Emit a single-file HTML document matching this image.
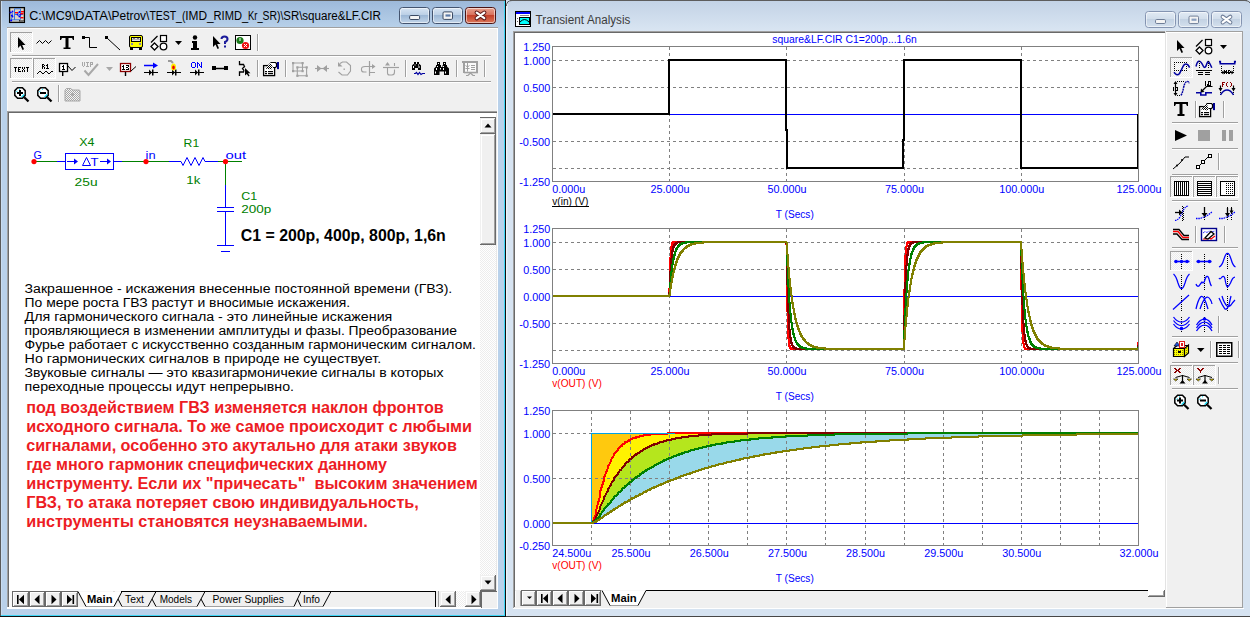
<!DOCTYPE html>
<html><head><meta charset="utf-8"><title>MicroCap</title>
<style>
html,body{margin:0;padding:0;width:1250px;height:617px;overflow:hidden;background:#d6e3f1}
svg{display:block}
text{font-family:"Liberation Sans",sans-serif}
</style></head><body>
<svg width="1250" height="617" viewBox="0 0 1250 617">
<defs><linearGradient id="gL" x1="0" y1="0" x2="0" y2="1"><stop offset="0" stop-color="#9db9da"/><stop offset="1" stop-color="#b7d0e9"/></linearGradient><linearGradient id="gR" x1="0" y1="0" x2="0" y2="1"><stop offset="0" stop-color="#c3d3e6"/><stop offset="1" stop-color="#d9e5f2"/></linearGradient><linearGradient id="bL" x1="0" y1="0" x2="0" y2="1"><stop offset="0" stop-color="#d9e6f4"/><stop offset="0.45" stop-color="#bcd0e6"/><stop offset="0.5" stop-color="#9db8d6"/><stop offset="1" stop-color="#c3d6ea"/></linearGradient><linearGradient id="bC" x1="0" y1="0" x2="0" y2="1"><stop offset="0" stop-color="#e8a593"/><stop offset="0.45" stop-color="#d9725e"/><stop offset="0.5" stop-color="#c4402a"/><stop offset="1" stop-color="#dc7a5c"/></linearGradient><linearGradient id="bR" x1="0" y1="0" x2="0" y2="1"><stop offset="0" stop-color="#e2ebf5"/><stop offset="0.45" stop-color="#d2deeb"/><stop offset="0.5" stop-color="#c3d2e3"/><stop offset="1" stop-color="#d5e1ee"/></linearGradient><pattern id="hatch" width="2" height="2" patternUnits="userSpaceOnUse"><rect width="2" height="2" fill="#ffffff"/><rect width="1" height="1" fill="#ededed"/><rect x="1" y="1" width="1" height="1" fill="#ededed"/></pattern><pattern id="dith" width="2" height="2" patternUnits="userSpaceOnUse"><rect width="2" height="2" fill="#fbfbfb"/><rect width="1" height="1" fill="#ebebeb"/><rect x="1" y="1" width="1" height="1" fill="#ebebeb"/></pattern></defs>
<rect x="0" y="0" width="506" height="617" fill="#b9d1ea" />
<rect x="1" y="1" width="504" height="26" fill="url(#gL)" />
<rect x="0" y="0" width="1" height="617" fill="#5a5a5a" />
<rect x="0" y="0" width="506" height="1" fill="#5a5a5a" />
<rect x="1" y="1" width="1" height="614" fill="#c9dcf0" />
<rect x="504" y="1" width="1" height="615" fill="#3fd6f6" />
<rect x="505" y="0" width="1" height="617" fill="#101010" />
<rect x="1" y="615" width="504" height="1" fill="#3fd6f6" />
<rect x="0" y="616" width="506" height="1" fill="#101010" />
<g transform="translate(9,7)"><rect x="0.6" y="0.6" width="14.8" height="14.8" fill="#dcd6c8" stroke="#000" stroke-width="1.3"/><path d="M5.5,1.5 V13 M5.5,1.8 H11.5 V12.5 M1.5,12.8 H11.5 M1,5.5 H3 L3.5,7.5 L3,10 L2,14 M5.5,7.5 H8.5 L9.5,9 L11,7 L12,7.5 H14 M8.5,7.5 L10,5 H11.5" stroke="#3a78e0" stroke-width="1" fill="none"/><circle cx="3.5" cy="4.5" r="0.9" fill="#0000ff"/><circle cx="1.5" cy="5.5" r="0.9" fill="#0000ff"/><circle cx="2.8" cy="8.5" r="1" fill="#0000ff"/><circle cx="3.5" cy="9.5" r="0.9" fill="#0000ff"/><circle cx="2.2" cy="13.5" r="1" fill="#0000ff"/><circle cx="8.5" cy="7.5" r="0.9" fill="#0000ff"/><circle cx="10.5" cy="5" r="0.9" fill="#0000ff"/><circle cx="11.5" cy="7.5" r="0.9" fill="#0000ff"/><circle cx="10.3" cy="9.5" r="0.9" fill="#0000ff"/><rect x="6" y="5" width="3" height="1.4" fill="#ff0000"/><rect x="12" y="4" width="3" height="1.4" fill="#ff0000"/><rect x="11.5" y="6" width="3" height="1.4" fill="#ff0000"/><rect x="11.5" y="10" width="3" height="1.4" fill="#ff0000"/><rect x="10.5" y="13.3" width="4" height="1.4" fill="#f0f0f0" stroke="#000" stroke-width="0.5"/></g>
<text x="29.3" y="20" font-size="12" fill="#000" textLength="46" lengthAdjust="spacingAndGlyphs" >C:\MC9\</text>
<text x="75.1" y="20" font-size="12" fill="#000" textLength="36.6" lengthAdjust="spacingAndGlyphs" >DATA\</text>
<text x="111.6" y="20" font-size="12" fill="#000" textLength="37.8" lengthAdjust="spacingAndGlyphs" >Petrov\</text>
<text x="149.4" y="20" font-size="12" fill="#000" textLength="36" lengthAdjust="spacingAndGlyphs" >TEST_(</text>
<text x="185.3" y="20" font-size="12" fill="#000" textLength="28.4" lengthAdjust="spacingAndGlyphs" >IMD_</text>
<text x="213.6" y="20" font-size="12" fill="#000" textLength="34.6" lengthAdjust="spacingAndGlyphs" >RIMD_</text>
<text x="248.1" y="20" font-size="12" fill="#000" textLength="14.6" lengthAdjust="spacingAndGlyphs" >Kr_</text>
<text x="262.6" y="20" font-size="12" fill="#000" textLength="20.8" lengthAdjust="spacingAndGlyphs" >SR)\</text>
<text x="283.3" y="20" font-size="12" fill="#000" textLength="19.1" lengthAdjust="spacingAndGlyphs" >SR\</text>
<text x="302.3" y="20" font-size="12" fill="#000" textLength="43.2" lengthAdjust="spacingAndGlyphs" >square&amp;</text>
<text x="345.4" y="20" font-size="12" fill="#000" textLength="35.6" lengthAdjust="spacingAndGlyphs" >LF.CIR</text>
<rect x="399.5" y="7.5" width="30" height="16" rx="3" fill="url(#bL)" stroke="#44546f"/>
<rect x="400.5" y="8.5" width="28" height="14" rx="2" fill="none" stroke="#ffffff" stroke-opacity="0.55"/>
<rect x="409.6" y="15.5" width="10" height="4" rx="1.2" fill="#f4f4f4" stroke="#3b4a63"/>
<rect x="432.5" y="7.5" width="30" height="16" rx="3" fill="url(#bL)" stroke="#44546f"/>
<rect x="433.5" y="8.5" width="28" height="14" rx="2" fill="none" stroke="#ffffff" stroke-opacity="0.55"/>
<rect x="443.0" y="11.9" width="9.5" height="7.5" rx="1.2" fill="#f4f4f4" stroke="#3b4a63"/><rect x="445.5" y="14.4" width="5" height="2.2" fill="#5b7aa7"/>
<rect x="465.5" y="7.5" width="30" height="16" rx="3" fill="url(#bC)" stroke="#4a1414"/>
<rect x="466.5" y="8.5" width="28" height="14" rx="2" fill="none" stroke="#ffffff" stroke-opacity="0.55"/>
<path d="M476.7,12.600000000000001 L484.3,18.2 M484.3,12.600000000000001 L476.7,18.2" stroke="#5a1a1a" stroke-width="4.2" stroke-linecap="round"/><path d="M476.7,12.600000000000001 L484.3,18.2 M484.3,12.600000000000001 L476.7,18.2" stroke="#ffffff" stroke-width="2.2" stroke-linecap="round"/>
<rect x="506" y="0" width="744" height="617" fill="#d6e3f1" />
<rect x="507" y="1" width="743" height="30" fill="url(#gR)" />
<rect x="510" y="0" width="737" height="1" fill="#5d5d5d" />
<path d="M1245,0.5 Q1249,0.5 1250,3" stroke="#5d5d5d" fill="none"/>
<rect x="506" y="5" width="1" height="611" fill="#eef4fa" />
<path d="M506.5,6 Q506.5,0.5 512,0.5" stroke="#5d5d5d" fill="none"/>
<rect x="507" y="4" width="1" height="612" fill="#dde8f4" />
<rect x="506" y="616" width="744" height="1" fill="#474747" />
<g transform="translate(515,11)"><rect x="0.5" y="0.5" width="15" height="15" fill="#fff" stroke="#000"/><rect x="1" y="1" width="14" height="2" fill="#0000ff"/><rect x="4.5" y="6.5" width="10" height="7" fill="#00ffff" stroke="#000"/><path d="M5,11 Q9.5,6 14,11" stroke="#000" fill="none"/><rect x="2" y="7" width="1" height="1" fill="#666"/><rect x="2" y="10" width="1" height="1" fill="#666"/><rect x="5" y="4" width="9" height="1" fill="#888"/></g>
<text x="535.6" y="24" font-size="12" fill="#3c3c3c" textLength="48.3" lengthAdjust="spacingAndGlyphs" >Transient</text>
<text x="587.1" y="24" font-size="12" fill="#3c3c3c" textLength="43.2" lengthAdjust="spacingAndGlyphs" >Analysis</text>
<rect x="1145.5" y="11.5" width="30" height="16" rx="3" fill="url(#bR)" stroke="#8494b1"/>
<rect x="1146.5" y="12.5" width="28" height="14" rx="2" fill="none" stroke="#ffffff" stroke-opacity="0.55"/>
<rect x="1155.5" y="19.5" width="10" height="4" rx="1.2" fill="#f4f4f4" stroke="#6f7e98"/>
<rect x="1178.5" y="11.5" width="30" height="16" rx="3" fill="url(#bR)" stroke="#8494b1"/>
<rect x="1179.5" y="12.5" width="28" height="14" rx="2" fill="none" stroke="#ffffff" stroke-opacity="0.55"/>
<rect x="1189.0" y="16.1" width="9.5" height="7.5" rx="1.2" fill="#f4f4f4" stroke="#6f7e98"/><rect x="1191.5" y="18.6" width="5" height="2.2" fill="#8aa0c0"/>
<rect x="1211.5" y="11.5" width="30" height="16" rx="3" fill="url(#bR)" stroke="#8494b1"/>
<rect x="1212.5" y="12.5" width="28" height="14" rx="2" fill="none" stroke="#ffffff" stroke-opacity="0.55"/>
<path d="M1222.7,16.8 L1230.3,22.400000000000002 M1230.3,16.8 L1222.7,22.400000000000002" stroke="#6f7e98" stroke-width="4.2" stroke-linecap="round"/><path d="M1222.7,16.8 L1230.3,22.400000000000002 M1230.3,16.8 L1222.7,22.400000000000002" stroke="#ffffff" stroke-width="2.2" stroke-linecap="round"/>
<rect x="7" y="27" width="491" height="582" fill="#f0f0f0" />
<rect x="7" y="27" width="491" height="1" fill="#a0a0a0" />
<rect x="7" y="28" width="491" height="1" fill="#ffffff" />
<rect x="7" y="28" width="1" height="580" fill="#fafafa" />
<rect x="497" y="28" width="1" height="581" fill="#ffffff" />
<rect x="7" y="608" width="491" height="1" fill="#ffffff" />
<rect x="12" y="55" width="479" height="1" fill="#a0a0a0" />
<rect x="12" y="56" width="479" height="1" fill="#ffffff" />
<rect x="12" y="81" width="479" height="1" fill="#a0a0a0" />
<rect x="12" y="82" width="479" height="1" fill="#ffffff" />
<rect x="10" y="32" width="23" height="21" fill="url(#dith)" />
<rect x="10" y="32" width="23" height="1" fill="#a0a0a0" />
<rect x="10" y="32" width="1" height="21" fill="#a0a0a0" />
<rect x="10" y="52" width="23" height="1" fill="#ffffff" />
<rect x="32" y="32" width="1" height="21" fill="#ffffff" />
<g transform="translate(18,37)"><path d="M0,0 V11 L2.5,8.5 L4.5,13 L6,12.3 L4.2,8 H7.5 Z" fill="#000"/></g>
<path d="M36.5,43.5 L39.5,40.5 L42.5,43.5 L45.5,40.5 L48.5,43.5 L51.5,40.5" stroke="#000" fill="none"/>
<path d="M60,36 H74 V40 H73 L72,38 H68.5 V47.5 H70.5 V49 H63.5 V47.5 H65.5 V38 H62 L61,40 H60 Z" fill="#000"/>
<rect x="82" y="36" width="3" height="3" fill="#000"/><path d="M84,37.5 H89.5 V47.5 H97" stroke="#000" fill="none"/>
<rect x="105" y="36" width="3" height="3" fill="#000"/><path d="M107,38 L120,50" stroke="#000" fill="none"/>
<rect x="129.5" y="35.5" width="13" height="12" rx="1.5" fill="#ffff00" stroke="#000"/><rect x="131.5" y="37.5" width="9" height="4" fill="#e8e8e8" stroke="#000"/><path d="M133,39.5 L134,38.5 L135,39.5 M137,39.5 L138,38.5 L139,39.5" stroke="#000" fill="none"/><rect x="131" y="43" width="2" height="2" fill="#88a"/><rect x="139" y="43" width="2" height="2" fill="#88a"/><rect x="130" y="47" width="3" height="3" fill="#000"/><rect x="139" y="47" width="3" height="3" fill="#000"/>
<path d="M151,42.5 L157.5,36" stroke="#000" stroke-width="1.2"/><rect x="160.5" y="35.5" width="6" height="6" fill="#fff" stroke="#000" stroke-width="1.2"/><path d="M154.5,43 L158,46.5 L154.5,50 L151,46.5 Z" fill="#fff" stroke="#000" stroke-width="1.3"/><circle cx="163.5" cy="46.5" r="3.3" fill="#fff" stroke="#000" stroke-width="1.3"/>
<path d="M175,41 H182 L178.5,45 Z" fill="#000"/>
<circle cx="195" cy="37.5" r="2.2" fill="#000"/><path d="M192,41 H197 V48 H199 V50 H191 V48 H193 V43 H192 Z" fill="#000"/>
<g transform="translate(213,36)"><path d="M0,0 V11 L2.5,8.5 L4.5,13 L6,12.3 L4.2,8 H7.5 Z" fill="#000"/><path d="M8.5,3 Q8.5,0.5 11.5,0.5 Q14.5,0.5 14.5,3 Q14.5,5 12,6 V8" stroke="#1a1a9a" stroke-width="2" fill="none"/><rect x="11" y="9.5" width="2" height="2" fill="#1a1a9a"/></g>
<rect x="235.5" y="35.5" width="15" height="14" fill="#fff" stroke="#000"/><circle cx="240" cy="40.5" r="3.6" fill="#1a7a1a"/><rect x="239.5" y="38" width="1" height="3" fill="#fff"/><circle cx="245.5" cy="45.5" r="3.6" fill="#ee1111"/><path d="M244,44 L247,47 M247,44 L244,47" stroke="#fff"/>
<rect x="257" y="34" width="1" height="17" fill="#a0a0a0" />
<rect x="258" y="34" width="1" height="17" fill="#ffffff" />
<rect x="10" y="58" width="23" height="21" fill="url(#dith)" />
<rect x="10" y="58" width="23" height="1" fill="#a0a0a0" />
<rect x="10" y="58" width="1" height="21" fill="#a0a0a0" />
<rect x="10" y="78" width="23" height="1" fill="#ffffff" />
<rect x="32" y="58" width="1" height="21" fill="#ffffff" />
<rect x="33" y="58" width="23" height="21" fill="url(#dith)" />
<rect x="33" y="58" width="23" height="1" fill="#a0a0a0" />
<rect x="33" y="58" width="1" height="21" fill="#a0a0a0" />
<rect x="33" y="78" width="23" height="1" fill="#ffffff" />
<rect x="55" y="58" width="1" height="21" fill="#ffffff" />
<path d="M37,74 L40,71 L43,74 L46,71 L49,74 L52,71 L53,72" stroke="#000" fill="none"/>
<rect x="59.5" y="63.5" width="8" height="8" fill="#fff" stroke="#000" stroke-width="1.3"/><rect x="62" y="72" width="1.4" height="4" fill="#000"/>
<rect x="63" y="65" width="1" height="1" fill="#000"/><rect x="62" y="66" width="1" height="1" fill="#000"/><rect x="63" y="66" width="1" height="1" fill="#000"/><rect x="63" y="67" width="1" height="1" fill="#000"/><rect x="63" y="68" width="1" height="1" fill="#000"/><rect x="62" y="69" width="1" height="1" fill="#000"/><rect x="63" y="69" width="1" height="1" fill="#000"/><rect x="64" y="69" width="1" height="1" fill="#000"/>
<path d="M68,66 L72,70.5 L75.5,67" stroke="#000" fill="none"/>
<rect x="82" y="62" width="1" height="1" fill="#a8a8a8"/><rect x="84" y="62" width="1" height="1" fill="#a8a8a8"/><rect x="86" y="62" width="1" height="1" fill="#a8a8a8"/><rect x="87" y="62" width="1" height="1" fill="#a8a8a8"/><rect x="88" y="62" width="1" height="1" fill="#a8a8a8"/><rect x="90" y="62" width="1" height="1" fill="#a8a8a8"/><rect x="91" y="62" width="1" height="1" fill="#a8a8a8"/><rect x="92" y="62" width="1" height="1" fill="#a8a8a8"/><rect x="82" y="63" width="1" height="1" fill="#a8a8a8"/><rect x="84" y="63" width="1" height="1" fill="#a8a8a8"/><rect x="87" y="63" width="1" height="1" fill="#a8a8a8"/><rect x="90" y="63" width="1" height="1" fill="#a8a8a8"/><rect x="92" y="63" width="1" height="1" fill="#a8a8a8"/><rect x="82" y="64" width="1" height="1" fill="#a8a8a8"/><rect x="84" y="64" width="1" height="1" fill="#a8a8a8"/><rect x="87" y="64" width="1" height="1" fill="#a8a8a8"/><rect x="90" y="64" width="1" height="1" fill="#a8a8a8"/><rect x="91" y="64" width="1" height="1" fill="#a8a8a8"/><rect x="92" y="64" width="1" height="1" fill="#a8a8a8"/><rect x="82" y="65" width="1" height="1" fill="#a8a8a8"/><rect x="84" y="65" width="1" height="1" fill="#a8a8a8"/><rect x="87" y="65" width="1" height="1" fill="#a8a8a8"/><rect x="90" y="65" width="1" height="1" fill="#a8a8a8"/><rect x="83" y="66" width="1" height="1" fill="#a8a8a8"/><rect x="86" y="66" width="1" height="1" fill="#a8a8a8"/><rect x="87" y="66" width="1" height="1" fill="#a8a8a8"/><rect x="88" y="66" width="1" height="1" fill="#a8a8a8"/><rect x="90" y="66" width="1" height="1" fill="#a8a8a8"/>
<path d="M84.5,70.5 L88.5,75 L98,64" stroke="#a8a8a8" stroke-width="2" fill="none"/>
<path d="M106,67 H113 L109.5,71 Z" fill="#a8a8a8"/>
<rect x="120.5" y="63.5" width="10" height="8" fill="#fff" stroke="#8b0000" stroke-width="1.3"/><rect x="124.8" y="72" width="1.4" height="4" fill="#000"/>
<rect x="123" y="65" width="1" height="1" fill="#000"/><rect x="126" y="65" width="1" height="1" fill="#000"/><rect x="127" y="65" width="1" height="1" fill="#000"/><rect x="128" y="65" width="1" height="1" fill="#000"/><rect x="122" y="66" width="1" height="1" fill="#000"/><rect x="123" y="66" width="1" height="1" fill="#000"/><rect x="128" y="66" width="1" height="1" fill="#000"/><rect x="123" y="67" width="1" height="1" fill="#000"/><rect x="126" y="67" width="1" height="1" fill="#000"/><rect x="127" y="67" width="1" height="1" fill="#000"/><rect x="123" y="68" width="1" height="1" fill="#000"/><rect x="128" y="68" width="1" height="1" fill="#000"/><rect x="122" y="69" width="1" height="1" fill="#000"/><rect x="123" y="69" width="1" height="1" fill="#000"/><rect x="124" y="69" width="1" height="1" fill="#000"/><rect x="126" y="69" width="1" height="1" fill="#000"/><rect x="127" y="69" width="1" height="1" fill="#000"/><rect x="128" y="69" width="1" height="1" fill="#000"/>
<path d="M131,71 L136,66.5" stroke="#000" fill="none"/>
<rect x="14" y="67" width="1" height="1" fill="#000"/><rect x="15" y="67" width="1" height="1" fill="#000"/><rect x="16" y="67" width="1" height="1" fill="#000"/><rect x="18" y="67" width="1" height="1" fill="#000"/><rect x="19" y="67" width="1" height="1" fill="#000"/><rect x="20" y="67" width="1" height="1" fill="#000"/><rect x="22" y="67" width="1" height="1" fill="#000"/><rect x="24" y="67" width="1" height="1" fill="#000"/><rect x="26" y="67" width="1" height="1" fill="#000"/><rect x="27" y="67" width="1" height="1" fill="#000"/><rect x="28" y="67" width="1" height="1" fill="#000"/><rect x="15" y="68" width="1" height="1" fill="#000"/><rect x="18" y="68" width="1" height="1" fill="#000"/><rect x="22" y="68" width="1" height="1" fill="#000"/><rect x="24" y="68" width="1" height="1" fill="#000"/><rect x="27" y="68" width="1" height="1" fill="#000"/><rect x="15" y="69" width="1" height="1" fill="#000"/><rect x="18" y="69" width="1" height="1" fill="#000"/><rect x="19" y="69" width="1" height="1" fill="#000"/><rect x="23" y="69" width="1" height="1" fill="#000"/><rect x="27" y="69" width="1" height="1" fill="#000"/><rect x="15" y="70" width="1" height="1" fill="#000"/><rect x="18" y="70" width="1" height="1" fill="#000"/><rect x="22" y="70" width="1" height="1" fill="#000"/><rect x="24" y="70" width="1" height="1" fill="#000"/><rect x="27" y="70" width="1" height="1" fill="#000"/><rect x="15" y="71" width="1" height="1" fill="#000"/><rect x="18" y="71" width="1" height="1" fill="#000"/><rect x="19" y="71" width="1" height="1" fill="#000"/><rect x="20" y="71" width="1" height="1" fill="#000"/><rect x="22" y="71" width="1" height="1" fill="#000"/><rect x="24" y="71" width="1" height="1" fill="#000"/><rect x="27" y="71" width="1" height="1" fill="#000"/>
<rect x="42" y="64" width="1" height="1" fill="#000"/><rect x="43" y="64" width="1" height="1" fill="#000"/><rect x="47" y="64" width="1" height="1" fill="#000"/><rect x="42" y="65" width="1" height="1" fill="#000"/><rect x="44" y="65" width="1" height="1" fill="#000"/><rect x="46" y="65" width="1" height="1" fill="#000"/><rect x="47" y="65" width="1" height="1" fill="#000"/><rect x="42" y="66" width="1" height="1" fill="#000"/><rect x="43" y="66" width="1" height="1" fill="#000"/><rect x="47" y="66" width="1" height="1" fill="#000"/><rect x="42" y="67" width="1" height="1" fill="#000"/><rect x="44" y="67" width="1" height="1" fill="#000"/><rect x="47" y="67" width="1" height="1" fill="#000"/><rect x="42" y="68" width="1" height="1" fill="#000"/><rect x="44" y="68" width="1" height="1" fill="#000"/><rect x="46" y="68" width="1" height="1" fill="#000"/><rect x="47" y="68" width="1" height="1" fill="#000"/><rect x="48" y="68" width="1" height="1" fill="#000"/>
<path d="M144,72.5 H158" stroke="#000"/><path d="M149,69.5 V75.5 L152,72.5 Z" fill="#000"/><rect x="152" y="69.5" width="1.5" height="6" fill="#000"/>
<path d="M144,65.5 H155" stroke="#0000ff" stroke-width="1.5"/><path d="M153,62.5 L158,65.5 L153,68.5 Z" fill="#0000ff"/>
<path d="M167,72.5 H181" stroke="#000"/><path d="M172,69.5 V75.5 L175,72.5 Z" fill="#000"/><rect x="175" y="69.5" width="1.5" height="6" fill="#000"/>
<path d="M168,61 L171,61 L173,63" stroke="#999" stroke-width="2" fill="none"/><ellipse cx="173.5" cy="67" rx="2.5" ry="3.5" fill="#ffee00"/><ellipse cx="173.5" cy="67.5" rx="1.3" ry="2" fill="#ee0000"/>
<path d="M190,72.5 H204" stroke="#000"/><path d="M195,69.5 V75.5 L198,72.5 Z" fill="#000"/><rect x="198" y="69.5" width="1.5" height="6" fill="#000"/>
<rect x="192" y="62" width="1" height="1" fill="#0000ff"/><rect x="193" y="62" width="1" height="1" fill="#0000ff"/><rect x="194" y="62" width="1" height="1" fill="#0000ff"/><rect x="197" y="62" width="1" height="1" fill="#0000ff"/><rect x="201" y="62" width="1" height="1" fill="#0000ff"/><rect x="191" y="63" width="1" height="1" fill="#0000ff"/><rect x="195" y="63" width="1" height="1" fill="#0000ff"/><rect x="197" y="63" width="1" height="1" fill="#0000ff"/><rect x="198" y="63" width="1" height="1" fill="#0000ff"/><rect x="201" y="63" width="1" height="1" fill="#0000ff"/><rect x="191" y="64" width="1" height="1" fill="#0000ff"/><rect x="195" y="64" width="1" height="1" fill="#0000ff"/><rect x="197" y="64" width="1" height="1" fill="#0000ff"/><rect x="199" y="64" width="1" height="1" fill="#0000ff"/><rect x="201" y="64" width="1" height="1" fill="#0000ff"/><rect x="191" y="65" width="1" height="1" fill="#0000ff"/><rect x="195" y="65" width="1" height="1" fill="#0000ff"/><rect x="197" y="65" width="1" height="1" fill="#0000ff"/><rect x="199" y="65" width="1" height="1" fill="#0000ff"/><rect x="201" y="65" width="1" height="1" fill="#0000ff"/><rect x="191" y="66" width="1" height="1" fill="#0000ff"/><rect x="195" y="66" width="1" height="1" fill="#0000ff"/><rect x="197" y="66" width="1" height="1" fill="#0000ff"/><rect x="200" y="66" width="1" height="1" fill="#0000ff"/><rect x="201" y="66" width="1" height="1" fill="#0000ff"/><rect x="192" y="67" width="1" height="1" fill="#0000ff"/><rect x="193" y="67" width="1" height="1" fill="#0000ff"/><rect x="194" y="67" width="1" height="1" fill="#0000ff"/><rect x="197" y="67" width="1" height="1" fill="#0000ff"/><rect x="201" y="67" width="1" height="1" fill="#0000ff"/>
<rect x="212" y="66" width="4" height="4" fill="#000"/><rect x="224" y="66" width="4" height="4" fill="#000"/><path d="M216,68.5 H224" stroke="#000" stroke-width="1.5"/>
<path d="M239.5,61 V64.5 H243.5 L244.5,66.5 L242.5,68.5 L244,70.5 L243.5,72 H239.5 V76" stroke="#000" stroke-width="1.3" fill="none"/>
<g transform="translate(245,68)"><path d="M0,0 V7.5 L1.8,6 L3.5,8.5 L4.6,7.8 L3,5.3 H5.5 Z" fill="#000" stroke="#fff" stroke-width="0.6" paint-order="stroke"/></g>
<rect x="257" y="60" width="1" height="17" fill="#a0a0a0" />
<rect x="258" y="60" width="1" height="17" fill="#ffffff" />
<pattern id="chk" width="2" height="2" patternUnits="userSpaceOnUse"><rect width="2" height="2" fill="#fff"/><rect width="1" height="1" fill="#000"/><rect x="1" y="1" width="1" height="1" fill="#000"/></pattern>
<rect x="263.6" y="65.6" width="11" height="10" fill="#fff" stroke="#000" stroke-width="1.3"/><rect x="265" y="71" width="2" height="1.2" fill="#000"/><rect x="268" y="71" width="5" height="1.2" fill="#000"/><rect x="265" y="73" width="2" height="1.2" fill="#000"/><rect x="268" y="73" width="5" height="1.2" fill="#000"/><path d="M265,68.5 L270.5,62.5 L273.5,66 L271.5,69.5 Z" fill="url(#chk)"/><path d="M270.5,62.5 H275.5 L276.5,63.5 V66.5 L275.5,67.5 H273" fill="#fff" stroke="#000" stroke-width="1.2"/><path d="M277,62 H279 V68.5 L278,69.5 L277,68.5 Z" fill="#000090"/>
<rect x="285" y="60" width="1" height="17" fill="#a0a0a0" />
<rect x="286" y="60" width="1" height="17" fill="#ffffff" />
<path d="M293,63 H302.5 V71 H293 Z M297.3,67.3 H306.6 V75.7 H297.3 Z" stroke="#a0a0a0" fill="none" stroke-width="1.1"/><rect x="292" y="62" width="2.2" height="2.2" fill="#a0a0a0"/><rect x="301.5" y="62" width="2.2" height="2.2" fill="#a0a0a0"/><rect x="292" y="70" width="2.2" height="2.2" fill="#a0a0a0"/><rect x="301.5" y="70" width="2.2" height="2.2" fill="#a0a0a0"/><rect x="296.3" y="66.3" width="2.2" height="2.2" fill="#a0a0a0"/><rect x="305.6" y="66.3" width="2.2" height="2.2" fill="#a0a0a0"/><rect x="296.3" y="74.7" width="2.2" height="2.2" fill="#a0a0a0"/><rect x="305.6" y="74.7" width="2.2" height="2.2" fill="#a0a0a0"/>
<path d="M315,68.5 H329" stroke="#a0a0a0" stroke-width="1.1"/><path d="M317,65 L321.5,68.5 L317,72 Z M327,65 L322.5,68.5 L327,72 Z" fill="#a0a0a0"/>
<path d="M340,63.5 L342.5,62 H346.5 L350.5,65.5 V71 L347.5,75 H342 L338.5,72" stroke="#a0a0a0" fill="none" stroke-width="1.1"/><path d="M338,62 V66.5 H342.5 Z" fill="#a0a0a0"/><rect x="343.5" y="68.5" width="1.4" height="1.4" fill="#a0a0a0"/>
<path d="M369.5,61 V76" stroke="#a0a0a0" stroke-width="1.2"/><path d="M374.5,66.5 H365 Q361.5,66.5 361.5,69 V70 Q361.5,72 364,72 H366.5 M370,72.5 H375" stroke="#a0a0a0" fill="none" stroke-width="1.1"/><path d="M372,64 L375.5,66.5 L372,69 Z" fill="#a0a0a0"/>
<path d="M383,67.5 H399" stroke="#a0a0a0" stroke-width="1.2"/><path d="M387.5,67.5 V73 Q387.5,75 389.5,75 H392 Q394.5,75 394.5,72 V69.5 M394.5,66 V63" stroke="#a0a0a0" fill="none" stroke-width="1.1"/><path d="M385,65.5 L387.5,62 L390,65.5 Z" fill="#a0a0a0"/>
<rect x="405" y="60" width="1" height="17" fill="#a0a0a0" />
<rect x="406" y="60" width="1" height="17" fill="#ffffff" />
<path d="M412,70 V65.5 L413.5,64 H414 V62 H416 V64 H417 V62 H419 V64 H419.5 L421,65.5 V70 H418 V68 H415 V70 Z" fill="#000"/><rect x="413" y="66" width="1" height="2" fill="#fff"/><rect x="418.5" y="66" width="1" height="2" fill="#fff"/><rect x="414.5" y="64.5" width="1" height="1" fill="#fff"/><rect x="418" y="64.5" width="1" height="1" fill="#fff"/>
<path d="M414,73.5 H415.5 L416.5,72.5 L418,74.5 L419.5,72.5 L421,74.5 L422.5,73.5 H425" stroke="#0000a0" stroke-width="1.2" fill="none"/>
<path d="M434,75 V68.5 L436,66.5 V65 H437 V62 H440 V65 H441 V67 H442.5 V65 H443 V62 H446 V65 H447 V66.5 L449,68.5 V75 H444 V71.5 H439.5 V75 Z" fill="#000"/><rect x="438" y="63" width="1" height="1" fill="#fff"/><rect x="444" y="63" width="1" height="1" fill="#fff"/><rect x="437" y="66" width="1" height="1" fill="#fff"/><rect x="443" y="66" width="1" height="1" fill="#fff"/><rect x="436" y="68" width="1" height="2" fill="#fff"/><rect x="440" y="68" width="1" height="1.5" fill="#fff"/><rect x="443" y="68" width="1" height="2" fill="#fff"/><rect x="435" y="71.5" width="1" height="2" fill="#fff"/><rect x="445" y="71.5" width="1" height="2" fill="#fff"/>
<rect x="456" y="60" width="1" height="17" fill="#a0a0a0" />
<rect x="457" y="60" width="1" height="17" fill="#ffffff" />
<rect x="462" y="61" width="16" height="2" fill="#a0a0a0"/><rect x="463" y="61" width="2" height="12" fill="#a0a0a0"/><rect x="476" y="61" width="2" height="12" fill="#a0a0a0"/><rect x="464" y="71.5" width="14" height="1.8" fill="#a0a0a0"/><rect x="465" y="63" width="11" height="8.5" fill="#fafafa"/><path d="M467.5,63 V71.5 M465.5,65.5 L467.5,67 L469.5,65.5 M465.5,68.5 H469.5" stroke="#a0a0a0" fill="none"/><path d="M471,65.5 H475 M471,67.5 H475 M471,69.5 H475" stroke="#a0a0a0" stroke-width="1.2"/><path d="M470.5,73 L468,75.5 H466 M470.5,73 L473,75.5 H475" stroke="#a0a0a0" stroke-width="1.2" fill="none"/>
<rect x="484" y="60" width="1" height="17" fill="#a0a0a0" />
<rect x="485" y="60" width="1" height="17" fill="#ffffff" />
<path d="M17.6,87.8 H22.4 L25.2,90.6 V95.4 L22.4,98.2 H17.6 L14.8,95.4 V90.6 Z" fill="#fff" stroke="#000" stroke-width="1.5"/><path d="M16.2,92.2 L17.5,90.8 M19,89.3 H20" stroke="#00e0ff" stroke-width="1"/><path d="M21.5,97.2 L24.2,94.5" stroke="#00e0ff" stroke-width="1.1"/><path d="M24.2,97.2 L28.5,101.5" stroke="#000" stroke-width="2.3"/><path d="M17,93 H23" stroke="#000" stroke-width="2"/><path d="M20,90 V96" stroke="#000" stroke-width="2"/>
<path d="M40.6,87.8 H45.4 L48.2,90.6 V95.4 L45.4,98.2 H40.6 L37.8,95.4 V90.6 Z" fill="#fff" stroke="#000" stroke-width="1.5"/><path d="M39.2,92.2 L40.5,90.8 M42,89.3 H43" stroke="#00e0ff" stroke-width="1"/><path d="M44.5,97.2 L47.2,94.5" stroke="#00e0ff" stroke-width="1.1"/><path d="M47.2,97.2 L51.5,101.5" stroke="#000" stroke-width="2.3"/><path d="M40,93 H46" stroke="#000" stroke-width="2"/>
<rect x="58" y="85" width="1" height="17" fill="#a0a0a0" />
<rect x="59" y="85" width="1" height="17" fill="#ffffff" />
<pattern id="gchk" width="2" height="2" patternUnits="userSpaceOnUse"><rect width="2" height="2" fill="#f4f4f4"/><rect width="1" height="1" fill="#a4a4a4"/><rect x="1" y="1" width="1" height="1" fill="#a4a4a4"/></pattern>
<path d="M65,90 L66.5,88.5 H71 L72.5,90 H79 Q80,90 80,91 V101 H65 Z" fill="url(#gchk)" stroke="#a8a8a8" stroke-width="1"/><path d="M71,94.5 L72.5,93 L74,94.5 L72.5,96 Z" fill="#a0a0a0"/>
<rect x="9" y="113" width="471" height="478" fill="#ffffff" />
<rect x="7" y="111" width="490" height="1" fill="#a0a0a0" />
<rect x="8" y="112" width="489" height="1" fill="#696969" />
<rect x="7" y="111" width="1" height="496" fill="#a0a0a0" />
<rect x="8" y="112" width="1" height="495" fill="#696969" />
<rect x="480" y="113" width="17" height="4" fill="#ffffff" />
<rect x="496" y="113" width="1" height="478" fill="#e8e8e8" />
<rect x="480" y="117" width="16" height="474" fill="url(#hatch)" />
<rect x="480" y="117" width="16" height="1" fill="#696969" />
<rect x="480" y="118" width="16" height="16" fill="#f0f0f0" />
<rect x="480" y="118" width="16" height="1" fill="#f0f0f0" />
<rect x="480" y="118" width="1" height="16" fill="#f0f0f0" />
<rect x="481" y="119" width="14" height="1" fill="#ffffff" />
<rect x="481" y="119" width="1" height="14" fill="#ffffff" />
<rect x="480" y="133" width="16" height="1" fill="#696969" />
<rect x="495" y="118" width="1" height="16" fill="#696969" />
<rect x="481" y="132" width="14" height="1" fill="#a0a0a0" />
<rect x="494" y="119" width="1" height="14" fill="#a0a0a0" />
<path d="M484.5,127.5 H491.5 L488,123.5 Z" fill="#000"/>
<rect x="480" y="134" width="16" height="111" fill="#f0f0f0" />
<rect x="480" y="134" width="16" height="1" fill="#f0f0f0" />
<rect x="480" y="134" width="1" height="111" fill="#f0f0f0" />
<rect x="481" y="135" width="14" height="1" fill="#ffffff" />
<rect x="481" y="135" width="1" height="109" fill="#ffffff" />
<rect x="480" y="244" width="16" height="1" fill="#696969" />
<rect x="495" y="134" width="1" height="111" fill="#696969" />
<rect x="481" y="243" width="14" height="1" fill="#a0a0a0" />
<rect x="494" y="135" width="1" height="109" fill="#a0a0a0" />
<rect x="480" y="575" width="16" height="16" fill="#f0f0f0" />
<rect x="480" y="575" width="16" height="1" fill="#f0f0f0" />
<rect x="480" y="575" width="1" height="16" fill="#f0f0f0" />
<rect x="481" y="576" width="14" height="1" fill="#ffffff" />
<rect x="481" y="576" width="1" height="14" fill="#ffffff" />
<rect x="480" y="590" width="16" height="1" fill="#696969" />
<rect x="495" y="575" width="1" height="16" fill="#696969" />
<rect x="481" y="589" width="14" height="1" fill="#a0a0a0" />
<rect x="494" y="576" width="1" height="14" fill="#a0a0a0" />
<path d="M484.5,580.5 H491.5 L488,584.5 Z" fill="#000"/>
<path d="M34,161.5 L57,161.5" stroke="#008000" fill="none" shape-rendering="crispEdges"/>
<path d="M57,161.5 L65,161.5" stroke="#0000ff" fill="none" shape-rendering="crispEdges"/>
<rect x="65.5" y="153.5" width="48" height="16" fill="none" stroke="#0000ff" shape-rendering="crispEdges"/>
<path d="M67,161.5 L76,161.5" stroke="#0000ff" fill="none" shape-rendering="crispEdges"/>
<path d="M74,158.5 L78,161.5 L74,164.5 Z" fill="#0000ff"/>
<path d="M82.5,165.5 H90.5 L86.5,157.5 Z" fill="none" stroke="#0000ff"/>
<text x="90.5" y="166" font-size="11.5" fill="#0000ff" textLength="8" lengthAdjust="spacingAndGlyphs" >T</text>
<path d="M100,161.5 L109,161.5" stroke="#0000ff" fill="none" shape-rendering="crispEdges"/>
<path d="M107,158.5 L111,161.5 L107,164.5 Z" fill="#0000ff"/>
<path d="M113,161.5 L122,161.5" stroke="#0000ff" fill="none" shape-rendering="crispEdges"/>
<path d="M122,161.5 L169,161.5" stroke="#008000" fill="none" shape-rendering="crispEdges"/>
<path d="M169,161.5 L181,161.5" stroke="#0000ff" fill="none" shape-rendering="crispEdges"/>
<path d="M181,161.5 L183,165.5 L187,157.5 L191,165.5 L195,157.5 L199,165.5 L203,157.5 L205,161.5" stroke="#0000ff" fill="none"/>
<path d="M205,161.5 L218,161.5" stroke="#0000ff" fill="none" shape-rendering="crispEdges"/>
<path d="M218,161.5 L242,161.5" stroke="#008000" fill="none" shape-rendering="crispEdges"/>
<path d="M225.5,162 V185" stroke="#008000" shape-rendering="crispEdges"/>
<path d="M225.5,185 V207.5 M225.5,211 V246" stroke="#0000ff" shape-rendering="crispEdges"/>
<path d="M217,207.5 H234 M217,211.5 H234 M217,245.5 H234 M221,251.5 H230" stroke="#0000ff" shape-rendering="crispEdges"/>
<circle cx="34" cy="161.6" r="2.6" fill="#ff0000"/>
<circle cx="146" cy="161.6" r="2.6" fill="#ff0000"/>
<circle cx="225.5" cy="161.6" r="2.6" fill="#ff0000"/>
<text x="33.6" y="158.7" font-size="11.6" fill="#0000ff" textLength="8.4" lengthAdjust="spacingAndGlyphs" >G</text>
<text x="145.6" y="158.9" font-size="11.6" fill="#0000ff" textLength="10" lengthAdjust="spacingAndGlyphs" >in</text>
<text x="225.6" y="158.9" font-size="11.6" fill="#0000ff" textLength="20.6" lengthAdjust="spacingAndGlyphs" >out</text>
<text x="79.3" y="146" font-size="11.6" fill="#008000" textLength="15.2" lengthAdjust="spacingAndGlyphs" >X4</text>
<text x="74.6" y="186" font-size="11.6" fill="#008000" textLength="23" lengthAdjust="spacingAndGlyphs" >25u</text>
<text x="183.6" y="147" font-size="11.6" fill="#008000" textLength="15.6" lengthAdjust="spacingAndGlyphs" >R1</text>
<text x="186.3" y="184.3" font-size="11.6" fill="#008000" textLength="14" lengthAdjust="spacingAndGlyphs" >1k</text>
<text x="241.3" y="200.3" font-size="11.6" fill="#008000" textLength="15.9" lengthAdjust="spacingAndGlyphs" >C1</text>
<text x="241.3" y="213.3" font-size="11.6" fill="#008000" textLength="30" lengthAdjust="spacingAndGlyphs" >200p</text>
<text x="240.8" y="240.6" font-size="16" fill="#000" font-weight="bold" textLength="205" lengthAdjust="spacingAndGlyphs" >C1 = 200p, 400p, 800p, 1,6n</text>
<text x="24.6" y="293.0" font-size="12.3" fill="#000" textLength="427.7" lengthAdjust="spacingAndGlyphs" >Закрашенное - искажения внесенные постоянной времени (ГВЗ).</text>
<text x="24.6" y="307.05" font-size="12.3" fill="#000" textLength="325.6" lengthAdjust="spacingAndGlyphs" >По мере роста ГВЗ растут и вносимые искажения.</text>
<text x="24.6" y="321.1" font-size="12.3" fill="#000" textLength="367.7" lengthAdjust="spacingAndGlyphs" >Для гармонического сигнала - это линейные искажения</text>
<text x="24.6" y="335.15" font-size="12.3" fill="#000" textLength="432.4" lengthAdjust="spacingAndGlyphs" >проявляющиеся в изменении амплитуды и фазы. Преобразование</text>
<text x="24.6" y="349.2" font-size="12.3" fill="#000" textLength="451.3" lengthAdjust="spacingAndGlyphs" >Фурье работает с искусственно созданным гармоническим сигналом.</text>
<text x="24.6" y="363.25" font-size="12.3" fill="#000" textLength="356.6" lengthAdjust="spacingAndGlyphs" >Но гармонических сигналов в природе не существует.</text>
<text x="24.6" y="377.3" font-size="12.3" fill="#000" textLength="418.9" lengthAdjust="spacingAndGlyphs" >Звуковые сигналы — это квазигармоничекие сигналы в которых</text>
<text x="24.6" y="391.35" font-size="12.3" fill="#000" textLength="269.4" lengthAdjust="spacingAndGlyphs" >переходные процессы идут непрерывно.</text>
<text x="26.2" y="413" font-size="16" fill="#ed1c24" font-weight="bold" textLength="417.5" lengthAdjust="spacingAndGlyphs" xml:space="preserve">под воздействием ГВЗ изменяется наклон фронтов</text>
<text x="26.2" y="432" font-size="16" fill="#ed1c24" font-weight="bold" textLength="445.9" lengthAdjust="spacingAndGlyphs" xml:space="preserve">исходного сигнала. То же самое происходит с любыми</text>
<text x="26.2" y="451" font-size="16" fill="#ed1c24" font-weight="bold" textLength="430.7" lengthAdjust="spacingAndGlyphs" xml:space="preserve">сигналами, особенно это акутально для атаки звуков</text>
<text x="26.2" y="470" font-size="16" fill="#ed1c24" font-weight="bold" textLength="360.8" lengthAdjust="spacingAndGlyphs" xml:space="preserve">где много гармоник специфических данному</text>
<text x="26.2" y="489" font-size="16" fill="#ed1c24" font-weight="bold" textLength="451.5" lengthAdjust="spacingAndGlyphs" xml:space="preserve">инструменту. Если их "причесать"  высоким значением</text>
<text x="26.2" y="508" font-size="16" fill="#ed1c24" font-weight="bold" textLength="392.6" lengthAdjust="spacingAndGlyphs" xml:space="preserve">ГВЗ, то атака потеряет свою индивидуальность,</text>
<text x="26.2" y="527" font-size="16" fill="#ed1c24" font-weight="bold" textLength="341.6" lengthAdjust="spacingAndGlyphs" xml:space="preserve">инструменты становятся неузнаваемыми.</text>
<rect x="9" y="591" width="488" height="17" fill="#f0f0f0" />
<rect x="9" y="591" width="3" height="16" fill="#fafafa" />
<rect x="7" y="607" width="491" height="1" fill="#ffffff" />
<rect x="12" y="591" width="17" height="16" fill="#696969" />
<rect x="13" y="592" width="15" height="14" fill="#ffffff" />
<rect x="14" y="593" width="14" height="13" fill="#a0a0a0" />
<rect x="14" y="593" width="13" height="12" fill="#f0f0f0" />
<rect x="29" y="591" width="16" height="16" fill="#696969" />
<rect x="30" y="592" width="14" height="14" fill="#ffffff" />
<rect x="31" y="593" width="13" height="13" fill="#a0a0a0" />
<rect x="31" y="593" width="12" height="12" fill="#f0f0f0" />
<rect x="45" y="591" width="16" height="16" fill="#696969" />
<rect x="46" y="592" width="14" height="14" fill="#ffffff" />
<rect x="47" y="593" width="13" height="13" fill="#a0a0a0" />
<rect x="47" y="593" width="12" height="12" fill="#f0f0f0" />
<rect x="61" y="591" width="17" height="16" fill="#696969" />
<rect x="62" y="592" width="15" height="14" fill="#ffffff" />
<rect x="63" y="593" width="14" height="13" fill="#a0a0a0" />
<rect x="63" y="593" width="13" height="12" fill="#f0f0f0" />
<rect x="17" y="595" width="1.6" height="9" fill="#000"/><path d="M24,594.8 V604.2 L19,599.5 Z" fill="#000"/>
<path d="M39.5,594.8 V604.2 L34.5,599.5 Z" fill="#000"/>
<path d="M51.5,594.8 V604.2 L56.5,599.5 Z" fill="#000"/>
<rect x="72.5" y="595" width="1.6" height="9" fill="#000"/><path d="M67,594.8 V604.2 L72,599.5 Z" fill="#000"/>
<path d="M294,591.5 L301,606.5 L323,606.5 L331,591.5 Z" fill="#f0f0f0"/>
<path d="M301,606.5 H323" stroke="#a0a0a0" fill="none" stroke-width="1"/>
<path d="M294,591.5 L301,606.5 M323,606.5 L331,591.5" stroke="#000" fill="none" stroke-width="1"/>
<text x="303" y="603.0" font-size="11" fill="#000" textLength="17" lengthAdjust="spacingAndGlyphs" >Info</text>
<path d="M197,591.5 L205,606.5 L294,606.5 L301,591.5 Z" fill="#f0f0f0"/>
<path d="M205,606.5 H294" stroke="#a0a0a0" fill="none" stroke-width="1"/>
<path d="M197,591.5 L205,606.5 M294,606.5 L301,591.5" stroke="#000" fill="none" stroke-width="1"/>
<text x="212.4" y="603.0" font-size="11" fill="#000" textLength="71.6" lengthAdjust="spacingAndGlyphs" >Power Supplies</text>
<path d="M148,591.5 L156,606.5 L197,606.5 L205,591.5 Z" fill="#f0f0f0"/>
<path d="M156,606.5 H197" stroke="#a0a0a0" fill="none" stroke-width="1"/>
<path d="M148,591.5 L156,606.5 M197,606.5 L205,591.5" stroke="#000" fill="none" stroke-width="1"/>
<text x="159.7" y="603.0" font-size="11" fill="#000" textLength="32.3" lengthAdjust="spacingAndGlyphs" >Models</text>
<path d="M114,591.5 L122,606.5 L148,606.5 L156,591.5 Z" fill="#f0f0f0"/>
<path d="M122,606.5 H148" stroke="#a0a0a0" fill="none" stroke-width="1"/>
<path d="M114,591.5 L122,606.5 M148,606.5 L156,591.5" stroke="#000" fill="none" stroke-width="1"/>
<text x="125" y="603.0" font-size="11" fill="#000" textLength="19" lengthAdjust="spacingAndGlyphs" >Text</text>
<path d="M78,591.5 L86,606.5 L114,606.5 L122,591.5 Z" fill="#ffffff"/>
<path d="M86,606.5 H114" stroke="#a0a0a0" fill="none" stroke-width="1"/>
<path d="M78,591.5 L86,606.5 M114,606.5 L122,591.5" stroke="#000" fill="none" stroke-width="1"/>
<text x="87" y="603.0" font-size="11" fill="#000" font-weight="bold" textLength="25.6" lengthAdjust="spacingAndGlyphs" >Main</text>
<rect x="121" y="591" width="315" height="1" fill="#000" />
<rect x="9" y="607" width="489" height="1" fill="#ffffff" />
<rect x="435" y="591" width="1" height="16" fill="#000" />
<rect x="438" y="591" width="1" height="16" fill="#a0a0a0" />
<rect x="440" y="591" width="16" height="16" fill="#f0f0f0" />
<rect x="440" y="591" width="16" height="1" fill="#f0f0f0" />
<rect x="440" y="591" width="1" height="16" fill="#f0f0f0" />
<rect x="441" y="592" width="14" height="1" fill="#ffffff" />
<rect x="441" y="592" width="1" height="14" fill="#ffffff" />
<rect x="440" y="606" width="16" height="1" fill="#696969" />
<rect x="455" y="591" width="1" height="16" fill="#696969" />
<rect x="441" y="605" width="14" height="1" fill="#a0a0a0" />
<rect x="454" y="592" width="1" height="14" fill="#a0a0a0" />
<path d="M450.5,594.8 V604.2 L445.5,599.5 Z" fill="#000"/>
<rect x="456" y="591" width="9" height="16" fill="url(#hatch)" />
<rect x="465" y="591" width="16" height="16" fill="#f0f0f0" />
<rect x="465" y="591" width="16" height="1" fill="#f0f0f0" />
<rect x="465" y="591" width="1" height="16" fill="#f0f0f0" />
<rect x="466" y="592" width="14" height="1" fill="#ffffff" />
<rect x="466" y="592" width="1" height="14" fill="#ffffff" />
<rect x="465" y="606" width="16" height="1" fill="#696969" />
<rect x="480" y="591" width="1" height="16" fill="#696969" />
<rect x="466" y="605" width="14" height="1" fill="#a0a0a0" />
<rect x="479" y="592" width="1" height="14" fill="#a0a0a0" />
<path d="M471.5,594.8 V604.2 L476.5,599.5 Z" fill="#000"/>
<rect x="481" y="591" width="16" height="17" fill="#f0f0f0" />
<rect x="481" y="591" width="16" height="1" fill="#696969" />
<rect x="481" y="591" width="1" height="17" fill="#696969" />
<rect x="513" y="31" width="730" height="578" fill="#f0f0f0" />
<rect x="513" y="31" width="653" height="1" fill="#a0a0a0" />
<rect x="513" y="31" width="1" height="577" fill="#a0a0a0" />
<rect x="514" y="32" width="652" height="1" fill="#696969" />
<rect x="514" y="32" width="1" height="575" fill="#696969" />
<rect x="515" y="33" width="651" height="557" fill="#ffffff" />
<rect x="513" y="608" width="731" height="1" fill="#ffffff" />
<rect x="1166" y="31" width="77" height="577" fill="#f0f0f0" />
<rect x="1165" y="31" width="1" height="577" fill="#e3e3e3" />
<rect x="1166" y="31" width="1" height="577" fill="#ffffff" />
<rect x="1166" y="31" width="77" height="1" fill="#a0a0a0" />
<rect x="1167" y="32" width="75" height="1" fill="#ffffff" />
<rect x="1242" y="31" width="1" height="577" fill="#a0a0a0" />
<rect x="1166" y="607" width="77" height="1" fill="#a0a0a0" />
<path d="M553,60.5 H1138" stroke="#808080" stroke-dasharray="3,3" shape-rendering="crispEdges"/>
<path d="M553,87.5 H1138" stroke="#808080" stroke-dasharray="3,3" shape-rendering="crispEdges"/>
<path d="M553,114.5 H1138" stroke="#808080" stroke-dasharray="3,3" shape-rendering="crispEdges"/>
<path d="M553,141.5 H1138" stroke="#808080" stroke-dasharray="3,3" shape-rendering="crispEdges"/>
<path d="M553,168.5 H1138" stroke="#808080" stroke-dasharray="3,3" shape-rendering="crispEdges"/>
<path d="M669.5,47 V181" stroke="#808080" stroke-dasharray="3,3" shape-rendering="crispEdges"/>
<path d="M786.5,47 V181" stroke="#808080" stroke-dasharray="3,3" shape-rendering="crispEdges"/>
<path d="M904.5,47 V181" stroke="#808080" stroke-dasharray="3,3" shape-rendering="crispEdges"/>
<path d="M1021.5,47 V181" stroke="#808080" stroke-dasharray="3,3" shape-rendering="crispEdges"/>
<rect x="553" y="114" width="585" height="1" fill="#0000ff" />
<path d="M552,114 H669 V60 H786 V130 H787 V168 H903 V140 H904 V60 H1021 V168 H1138 V114" stroke="#000" stroke-width="2" fill="none" shape-rendering="crispEdges"/>
<rect x="552.5" y="46.5" width="586" height="135" fill="none" stroke="#808080" shape-rendering="crispEdges"/>
<text x="550.2" y="50.5" font-size="10" fill="#0000ff" text-anchor="end" textLength="27" lengthAdjust="spacingAndGlyphs" >1.250</text>
<text x="550.2" y="64.5" font-size="10" fill="#0000ff" text-anchor="end" textLength="27" lengthAdjust="spacingAndGlyphs" >1.000</text>
<text x="550.2" y="91.5" font-size="10" fill="#0000ff" text-anchor="end" textLength="27" lengthAdjust="spacingAndGlyphs" >0.500</text>
<text x="550.2" y="118.5" font-size="10" fill="#0000ff" text-anchor="end" textLength="27" lengthAdjust="spacingAndGlyphs" >0.000</text>
<text x="550.2" y="145.5" font-size="10" fill="#0000ff" text-anchor="end" textLength="31" lengthAdjust="spacingAndGlyphs" >-0.500</text>
<text x="550.2" y="185.5" font-size="10" fill="#0000ff" text-anchor="end" textLength="31" lengthAdjust="spacingAndGlyphs" >-1.250</text>
<text x="552.3" y="192.5" font-size="10" fill="#0000ff" textLength="33" lengthAdjust="spacingAndGlyphs" >0.000u</text>
<text x="670" y="192.5" font-size="10" fill="#0000ff" text-anchor="middle" textLength="39" lengthAdjust="spacingAndGlyphs" >25.000u</text>
<text x="787" y="192.5" font-size="10" fill="#0000ff" text-anchor="middle" textLength="39" lengthAdjust="spacingAndGlyphs" >50.000u</text>
<text x="904.6" y="192.5" font-size="10" fill="#0000ff" text-anchor="middle" textLength="39" lengthAdjust="spacingAndGlyphs" >75.000u</text>
<text x="1021.8" y="192.5" font-size="10" fill="#0000ff" text-anchor="middle" textLength="45" lengthAdjust="spacingAndGlyphs" >100.000u</text>
<text x="1139" y="192.5" font-size="10" fill="#0000ff" text-anchor="middle" textLength="45" lengthAdjust="spacingAndGlyphs" >125.000u</text>
<text x="552.3" y="205" font-size="10" fill="#000000" textLength="36" lengthAdjust="spacingAndGlyphs" >v(in) (V)</text>
<rect x="552" y="206" width="37" height="1" fill="#000000" />
<text x="775.8" y="218" font-size="10" fill="#0000ff" textLength="38" lengthAdjust="spacingAndGlyphs" >T (Secs)</text>
<text x="844.5" y="43" font-size="10" fill="#0000ff" text-anchor="middle" textLength="144.5" lengthAdjust="spacingAndGlyphs" >square&amp;LF.CIR C1=200p...1.6n</text>
<path d="M553,242.5 H1138" stroke="#808080" stroke-dasharray="3,3" shape-rendering="crispEdges"/>
<path d="M553,269.5 H1138" stroke="#808080" stroke-dasharray="3,3" shape-rendering="crispEdges"/>
<path d="M553,296.5 H1138" stroke="#808080" stroke-dasharray="3,3" shape-rendering="crispEdges"/>
<path d="M553,323.5 H1138" stroke="#808080" stroke-dasharray="3,3" shape-rendering="crispEdges"/>
<path d="M553,350.5 H1138" stroke="#808080" stroke-dasharray="3,3" shape-rendering="crispEdges"/>
<path d="M669.5,229 V363" stroke="#808080" stroke-dasharray="3,3" shape-rendering="crispEdges"/>
<path d="M786.5,229 V363" stroke="#808080" stroke-dasharray="3,3" shape-rendering="crispEdges"/>
<path d="M904.5,229 V363" stroke="#808080" stroke-dasharray="3,3" shape-rendering="crispEdges"/>
<path d="M1021.5,229 V363" stroke="#808080" stroke-dasharray="3,3" shape-rendering="crispEdges"/>
<rect x="553" y="296" width="585" height="1" fill="#0000ff" />
<path d="M552,296 L553,296 L554,296 L555,296 L556,296 L557,296 L558,296 L559,296 L560,296 L561,296 L562,296 L563,296 L564,296 L565,296 L566,296 L567,296 L568,296 L569,296 L570,296 L571,296 L572,296 L573,296 L574,296 L575,296 L576,296 L577,296 L578,296 L579,296 L580,296 L581,296 L582,296 L583,296 L584,296 L585,296 L586,296 L587,296 L588,296 L589,296 L590,296 L591,296 L592,296 L593,296 L594,296 L595,296 L596,296 L597,296 L598,296 L599,296 L600,296 L601,296 L602,296 L603,296 L604,296 L605,296 L606,296 L607,296 L608,296 L609,296 L610,296 L611,296 L612,296 L613,296 L614,296 L615,296 L616,296 L617,296 L618,296 L619,296 L620,296 L621,296 L622,296 L623,296 L624,296 L625,296 L626,296 L627,296 L628,296 L629,296 L630,296 L631,296 L632,296 L633,296 L634,296 L635,296 L636,296 L637,296 L638,296 L639,296 L640,296 L641,296 L642,296 L643,296 L644,296 L645,296 L646,296 L647,296 L648,296 L649,296 L650,296 L651,296 L652,296 L653,296 L654,296 L655,296 L656,296 L657,296 L658,296 L659,296 L660,296 L661,296 L662,296 L663,296 L664,296 L665,296 L666,296 L667,296 L668,296 L669,296 L669,295 L669,293 L669,290 L670,287 L670,282 L670,278 L670,274 L670,270 L670,267 L670,265 L670,262 L670,260 L670,258 L671,256 L671,255 L671,253 L671,252 L671,251 L671,250 L671,249 L671,248 L671,247 L672,246 L672,245 L672,244 L672,243 L673,243 L673,242 L674,242 L675,242 L676,242 L677,242 L678,242 L679,242 L680,242 L681,242 L682,242 L683,242 L684,242 L685,242 L686,242 L687,242 L688,242 L689,242 L690,242 L691,242 L692,242 L693,242 L694,242 L695,242 L696,242 L697,242 L698,242 L699,242 L700,242 L701,242 L702,242 L703,242 L704,242 L705,242 L706,242 L707,242 L708,242 L709,242 L710,242 L711,242 L712,242 L713,242 L714,242 L715,242 L716,242 L717,242 L718,242 L719,242 L720,242 L721,242 L722,242 L723,242 L724,242 L725,242 L726,242 L727,242 L728,242 L729,242 L730,242 L731,242 L732,242 L733,242 L734,242 L735,242 L736,242 L737,242 L738,242 L739,242 L740,242 L741,242 L742,242 L743,242 L744,242 L745,242 L746,242 L747,242 L748,242 L749,242 L750,242 L751,242 L752,242 L753,242 L754,242 L755,242 L756,242 L757,242 L758,242 L759,242 L760,242 L761,242 L762,242 L763,242 L764,242 L765,242 L766,242 L767,242 L768,242 L769,242 L770,242 L771,242 L772,242 L773,242 L774,242 L775,242 L776,242 L777,242 L778,242 L779,242 L780,242 L781,242 L782,242 L783,242 L784,242 L785,242 L786,242 L786,243 L787,247 L787,253 L787,261 L787,270 L787,279 L787,287 L787,293 L787,299 L787,305 L787,310 L788,314 L788,318 L788,321 L788,324 L788,327 L788,329 L788,331 L788,333 L788,335 L788,336 L788,338 L789,339 L789,340 L789,341 L789,342 L789,343 L789,344 L789,345 L789,346 L790,346 L790,347 L790,348 L791,348 L791,349 L792,349 L793,349 L794,349 L795,349 L796,349 L797,349 L798,349 L799,349 L800,349 L801,349 L802,349 L803,349 L804,349 L805,349 L806,349 L807,349 L808,349 L809,349 L810,349 L811,349 L812,349 L813,349 L814,349 L815,349 L816,349 L817,349 L818,349 L819,349 L820,349 L821,349 L822,349 L823,349 L824,349 L825,349 L826,349 L827,349 L828,349 L829,349 L830,349 L831,349 L832,349 L833,349 L834,349 L835,349 L836,349 L837,349 L838,349 L839,349 L840,349 L841,349 L842,349 L843,349 L844,349 L845,349 L846,349 L847,349 L848,349 L849,349 L850,349 L851,349 L852,349 L853,349 L854,349 L855,349 L856,349 L857,349 L858,349 L859,349 L860,349 L861,349 L862,349 L863,349 L864,349 L865,349 L866,349 L867,349 L868,349 L869,349 L870,349 L871,349 L872,349 L873,349 L874,349 L875,349 L876,349 L877,349 L878,349 L879,349 L880,349 L881,349 L882,349 L883,349 L884,349 L885,349 L886,349 L887,349 L888,349 L889,349 L890,349 L891,349 L892,349 L893,349 L894,349 L895,349 L896,349 L897,349 L898,349 L899,349 L900,349 L901,349 L902,349 L903,349 L904,349 L904,348 L904,344 L904,338 L904,330 L904,321 L904,313 L904,305 L904,299 L904,292 L905,287 L905,282 L905,278 L905,274 L905,271 L905,267 L905,265 L905,262 L905,260 L905,258 L905,256 L906,255 L906,253 L906,252 L906,251 L906,250 L906,249 L906,248 L906,247 L907,246 L907,245 L907,244 L907,243 L908,243 L908,242 L909,242 L910,242 L911,242 L912,242 L913,242 L914,242 L915,242 L916,242 L917,242 L918,242 L919,242 L920,242 L921,242 L922,242 L923,242 L924,242 L925,242 L926,242 L927,242 L928,242 L929,242 L930,242 L931,242 L932,242 L933,242 L934,242 L935,242 L936,242 L937,242 L938,242 L939,242 L940,242 L941,242 L942,242 L943,242 L944,242 L945,242 L946,242 L947,242 L948,242 L949,242 L950,242 L951,242 L952,242 L953,242 L954,242 L955,242 L956,242 L957,242 L958,242 L959,242 L960,242 L961,242 L962,242 L963,242 L964,242 L965,242 L966,242 L967,242 L968,242 L969,242 L970,242 L971,242 L972,242 L973,242 L974,242 L975,242 L976,242 L977,242 L978,242 L979,242 L980,242 L981,242 L982,242 L983,242 L984,242 L985,242 L986,242 L987,242 L988,242 L989,242 L990,242 L991,242 L992,242 L993,242 L994,242 L995,242 L996,242 L997,242 L998,242 L999,242 L1000,242 L1001,242 L1002,242 L1003,242 L1004,242 L1005,242 L1006,242 L1007,242 L1008,242 L1009,242 L1010,242 L1011,242 L1012,242 L1013,242 L1014,242 L1015,242 L1016,242 L1017,242 L1018,242 L1019,242 L1020,242 L1021,242 L1021,243 L1021,247 L1021,253 L1021,261 L1021,270 L1021,279 L1021,287 L1022,293 L1022,299 L1022,305 L1022,310 L1022,314 L1022,318 L1022,321 L1022,324 L1022,327 L1022,329 L1022,331 L1023,333 L1023,335 L1023,336 L1023,338 L1023,339 L1023,340 L1023,341 L1023,342 L1023,343 L1024,344 L1024,345 L1024,346 L1024,347 L1025,348 L1025,349 L1026,349 L1027,349 L1028,349 L1029,349 L1030,349 L1031,349 L1032,349 L1033,349 L1034,349 L1035,349 L1036,349 L1037,349 L1038,349 L1039,349 L1040,349 L1041,349 L1042,349 L1043,349 L1044,349 L1045,349 L1046,349 L1047,349 L1048,349 L1049,349 L1050,349 L1051,349 L1052,349 L1053,349 L1054,349 L1055,349 L1056,349 L1057,349 L1058,349 L1059,349 L1060,349 L1061,349 L1062,349 L1063,349 L1064,349 L1065,349 L1066,349 L1067,349 L1068,349 L1069,349 L1070,349 L1071,349 L1072,349 L1073,349 L1074,349 L1075,349 L1076,349 L1077,349 L1078,349 L1079,349 L1080,349 L1081,349 L1082,349 L1083,349 L1084,349 L1085,349 L1086,349 L1087,349 L1088,349 L1089,349 L1090,349 L1091,349 L1092,349 L1093,349 L1094,349 L1095,349 L1096,349 L1097,349 L1098,349 L1099,349 L1100,349 L1101,349 L1102,349 L1103,349 L1104,349 L1105,349 L1106,349 L1107,349 L1108,349 L1109,349 L1110,349 L1111,349 L1112,349 L1113,349 L1114,349 L1115,349 L1116,349 L1117,349 L1118,349 L1119,349 L1120,349 L1121,349 L1122,349 L1123,349 L1124,349 L1125,349 L1126,349 L1127,349 L1128,349 L1129,349 L1130,349 L1131,349 L1132,349 L1133,349 L1134,349 L1135,349 L1136,349 L1137,349 L1138,349" stroke="#ff0000" stroke-width="2" fill="none" stroke-linejoin="round" shape-rendering="crispEdges"/>
<path d="M552,296 L553,296 L554,296 L555,296 L556,296 L557,296 L558,296 L559,296 L560,296 L561,296 L562,296 L563,296 L564,296 L565,296 L566,296 L567,296 L568,296 L569,296 L570,296 L571,296 L572,296 L573,296 L574,296 L575,296 L576,296 L577,296 L578,296 L579,296 L580,296 L581,296 L582,296 L583,296 L584,296 L585,296 L586,296 L587,296 L588,296 L589,296 L590,296 L591,296 L592,296 L593,296 L594,296 L595,296 L596,296 L597,296 L598,296 L599,296 L600,296 L601,296 L602,296 L603,296 L604,296 L605,296 L606,296 L607,296 L608,296 L609,296 L610,296 L611,296 L612,296 L613,296 L614,296 L615,296 L616,296 L617,296 L618,296 L619,296 L620,296 L621,296 L622,296 L623,296 L624,296 L625,296 L626,296 L627,296 L628,296 L629,296 L630,296 L631,296 L632,296 L633,296 L634,296 L635,296 L636,296 L637,296 L638,296 L639,296 L640,296 L641,296 L642,296 L643,296 L644,296 L645,296 L646,296 L647,296 L648,296 L649,296 L650,296 L651,296 L652,296 L653,296 L654,296 L655,296 L656,296 L657,296 L658,296 L659,296 L660,296 L661,296 L662,296 L663,296 L664,296 L665,296 L666,296 L667,296 L668,296 L669,296 L669,295 L669,293 L670,291 L670,289 L670,286 L670,284 L670,282 L670,280 L670,278 L670,276 L670,274 L670,272 L671,271 L671,269 L671,268 L671,266 L671,265 L671,264 L671,263 L671,262 L671,261 L671,260 L671,259 L672,258 L672,257 L672,256 L672,255 L672,254 L672,253 L672,252 L672,251 L673,251 L673,250 L673,249 L673,248 L673,247 L674,247 L674,246 L674,245 L675,245 L675,244 L676,244 L676,243 L677,243 L678,242 L679,242 L680,242 L681,242 L682,242 L683,242 L684,242 L685,242 L686,242 L687,242 L688,242 L689,242 L690,242 L691,242 L692,242 L693,242 L694,242 L695,242 L696,242 L697,242 L698,242 L699,242 L700,242 L701,242 L702,242 L703,242 L704,242 L705,242 L706,242 L707,242 L708,242 L709,242 L710,242 L711,242 L712,242 L713,242 L714,242 L715,242 L716,242 L717,242 L718,242 L719,242 L720,242 L721,242 L722,242 L723,242 L724,242 L725,242 L726,242 L727,242 L728,242 L729,242 L730,242 L731,242 L732,242 L733,242 L734,242 L735,242 L736,242 L737,242 L738,242 L739,242 L740,242 L741,242 L742,242 L743,242 L744,242 L745,242 L746,242 L747,242 L748,242 L749,242 L750,242 L751,242 L752,242 L753,242 L754,242 L755,242 L756,242 L757,242 L758,242 L759,242 L760,242 L761,242 L762,242 L763,242 L764,242 L765,242 L766,242 L767,242 L768,242 L769,242 L770,242 L771,242 L772,242 L773,242 L774,242 L775,242 L776,242 L777,242 L778,242 L779,242 L780,242 L781,242 L782,242 L783,242 L784,242 L785,242 L786,242 L786,243 L787,245 L787,248 L787,252 L787,257 L787,262 L787,266 L787,271 L787,275 L787,279 L787,283 L788,286 L788,289 L788,293 L788,296 L788,298 L788,301 L788,304 L788,306 L788,308 L788,310 L788,312 L789,314 L789,316 L789,318 L789,320 L789,321 L789,323 L789,324 L789,325 L789,327 L789,328 L789,329 L790,330 L790,331 L790,332 L790,333 L790,334 L790,335 L790,336 L790,337 L791,338 L791,339 L791,340 L791,341 L791,342 L791,343 L792,343 L792,344 L792,345 L793,346 L793,347 L794,347 L794,348 L795,348 L796,348 L796,349 L797,349 L798,349 L799,349 L800,349 L801,349 L802,349 L803,349 L804,349 L805,349 L806,349 L807,349 L808,349 L809,349 L810,349 L811,349 L812,349 L813,349 L814,349 L815,349 L816,349 L817,349 L818,349 L819,349 L820,349 L821,349 L822,349 L823,349 L824,349 L825,349 L826,349 L827,349 L828,349 L829,349 L830,349 L831,349 L832,349 L833,349 L834,349 L835,349 L836,349 L837,349 L838,349 L839,349 L840,349 L841,349 L842,349 L843,349 L844,349 L845,349 L846,349 L847,349 L848,349 L849,349 L850,349 L851,349 L852,349 L853,349 L854,349 L855,349 L856,349 L857,349 L858,349 L859,349 L860,349 L861,349 L862,349 L863,349 L864,349 L865,349 L866,349 L867,349 L868,349 L869,349 L870,349 L871,349 L872,349 L873,349 L874,349 L875,349 L876,349 L877,349 L878,349 L879,349 L880,349 L881,349 L882,349 L883,349 L884,349 L885,349 L886,349 L887,349 L888,349 L889,349 L890,349 L891,349 L892,349 L893,349 L894,349 L895,349 L896,349 L897,349 L898,349 L899,349 L900,349 L901,349 L902,349 L903,349 L904,349 L904,348 L904,347 L904,344 L904,340 L904,335 L904,330 L904,325 L904,321 L904,317 L905,313 L905,309 L905,306 L905,302 L905,299 L905,296 L905,293 L905,291 L905,288 L905,286 L905,283 L906,281 L906,279 L906,277 L906,275 L906,274 L906,272 L906,270 L906,269 L906,267 L906,266 L907,265 L907,264 L907,263 L907,261 L907,260 L907,259 L907,258 L907,257 L907,256 L907,255 L908,255 L908,254 L908,253 L908,252 L908,251 L908,250 L908,249 L909,249 L909,248 L909,247 L909,246 L910,246 L910,245 L910,244 L911,244 L911,243 L912,243 L913,243 L913,242 L914,242 L915,242 L916,242 L917,242 L918,242 L919,242 L920,242 L921,242 L922,242 L923,242 L924,242 L925,242 L926,242 L927,242 L928,242 L929,242 L930,242 L931,242 L932,242 L933,242 L934,242 L935,242 L936,242 L937,242 L938,242 L939,242 L940,242 L941,242 L942,242 L943,242 L944,242 L945,242 L946,242 L947,242 L948,242 L949,242 L950,242 L951,242 L952,242 L953,242 L954,242 L955,242 L956,242 L957,242 L958,242 L959,242 L960,242 L961,242 L962,242 L963,242 L964,242 L965,242 L966,242 L967,242 L968,242 L969,242 L970,242 L971,242 L972,242 L973,242 L974,242 L975,242 L976,242 L977,242 L978,242 L979,242 L980,242 L981,242 L982,242 L983,242 L984,242 L985,242 L986,242 L987,242 L988,242 L989,242 L990,242 L991,242 L992,242 L993,242 L994,242 L995,242 L996,242 L997,242 L998,242 L999,242 L1000,242 L1001,242 L1002,242 L1003,242 L1004,242 L1005,242 L1006,242 L1007,242 L1008,242 L1009,242 L1010,242 L1011,242 L1012,242 L1013,242 L1014,242 L1015,242 L1016,242 L1017,242 L1018,242 L1019,242 L1020,242 L1021,242 L1021,243 L1021,245 L1021,248 L1021,252 L1021,257 L1021,262 L1021,266 L1022,271 L1022,275 L1022,279 L1022,283 L1022,286 L1022,289 L1022,293 L1022,296 L1022,298 L1022,301 L1022,304 L1023,306 L1023,308 L1023,310 L1023,312 L1023,314 L1023,316 L1023,318 L1023,320 L1023,321 L1023,323 L1024,324 L1024,325 L1024,327 L1024,328 L1024,329 L1024,330 L1024,331 L1024,332 L1024,333 L1024,334 L1025,335 L1025,336 L1025,337 L1025,338 L1025,339 L1025,340 L1025,341 L1026,341 L1026,342 L1026,343 L1026,344 L1027,345 L1027,346 L1028,347 L1028,348 L1029,348 L1030,348 L1030,349 L1031,349 L1032,349 L1033,349 L1034,349 L1035,349 L1036,349 L1037,349 L1038,349 L1039,349 L1040,349 L1041,349 L1042,349 L1043,349 L1044,349 L1045,349 L1046,349 L1047,349 L1048,349 L1049,349 L1050,349 L1051,349 L1052,349 L1053,349 L1054,349 L1055,349 L1056,349 L1057,349 L1058,349 L1059,349 L1060,349 L1061,349 L1062,349 L1063,349 L1064,349 L1065,349 L1066,349 L1067,349 L1068,349 L1069,349 L1070,349 L1071,349 L1072,349 L1073,349 L1074,349 L1075,349 L1076,349 L1077,349 L1078,349 L1079,349 L1080,349 L1081,349 L1082,349 L1083,349 L1084,349 L1085,349 L1086,349 L1087,349 L1088,349 L1089,349 L1090,349 L1091,349 L1092,349 L1093,349 L1094,349 L1095,349 L1096,349 L1097,349 L1098,349 L1099,349 L1100,349 L1101,349 L1102,349 L1103,349 L1104,349 L1105,349 L1106,349 L1107,349 L1108,349 L1109,349 L1110,349 L1111,349 L1112,349 L1113,349 L1114,349 L1115,349 L1116,349 L1117,349 L1118,349 L1119,349 L1120,349 L1121,349 L1122,349 L1123,349 L1124,349 L1125,349 L1126,349 L1127,349 L1128,349 L1129,349 L1130,349 L1131,349 L1132,349 L1133,349 L1134,349 L1135,349 L1136,349 L1137,349 L1138,349" stroke="#800000" stroke-width="2" fill="none" stroke-linejoin="round" shape-rendering="crispEdges"/>
<path d="M552,296 L553,296 L554,296 L555,296 L556,296 L557,296 L558,296 L559,296 L560,296 L561,296 L562,296 L563,296 L564,296 L565,296 L566,296 L567,296 L568,296 L569,296 L570,296 L571,296 L572,296 L573,296 L574,296 L575,296 L576,296 L577,296 L578,296 L579,296 L580,296 L581,296 L582,296 L583,296 L584,296 L585,296 L586,296 L587,296 L588,296 L589,296 L590,296 L591,296 L592,296 L593,296 L594,296 L595,296 L596,296 L597,296 L598,296 L599,296 L600,296 L601,296 L602,296 L603,296 L604,296 L605,296 L606,296 L607,296 L608,296 L609,296 L610,296 L611,296 L612,296 L613,296 L614,296 L615,296 L616,296 L617,296 L618,296 L619,296 L620,296 L621,296 L622,296 L623,296 L624,296 L625,296 L626,296 L627,296 L628,296 L629,296 L630,296 L631,296 L632,296 L633,296 L634,296 L635,296 L636,296 L637,296 L638,296 L639,296 L640,296 L641,296 L642,296 L643,296 L644,296 L645,296 L646,296 L647,296 L648,296 L649,296 L650,296 L651,296 L652,296 L653,296 L654,296 L655,296 L656,296 L657,296 L658,296 L659,296 L660,296 L661,296 L662,296 L663,296 L664,296 L665,296 L666,296 L667,296 L668,296 L669,296 L669,295 L670,294 L670,292 L670,291 L670,290 L670,288 L670,287 L670,286 L670,285 L670,284 L670,283 L671,282 L671,281 L671,280 L671,279 L671,278 L671,277 L671,276 L671,275 L671,274 L671,273 L671,272 L672,272 L672,271 L672,270 L672,269 L672,268 L672,267 L672,266 L672,265 L673,264 L673,263 L673,262 L673,261 L673,260 L673,259 L674,259 L674,258 L674,257 L674,256 L674,255 L675,255 L675,254 L675,253 L675,252 L676,251 L676,250 L676,249 L677,249 L677,248 L678,247 L678,246 L679,246 L679,245 L680,245 L680,244 L681,244 L682,244 L682,243 L683,243 L684,243 L685,243 L686,243 L686,242 L687,242 L688,242 L689,242 L690,242 L691,242 L692,242 L693,242 L694,242 L695,242 L696,242 L697,242 L698,242 L699,242 L700,242 L701,242 L702,242 L703,242 L704,242 L705,242 L706,242 L707,242 L708,242 L709,242 L710,242 L711,242 L712,242 L713,242 L714,242 L715,242 L716,242 L717,242 L718,242 L719,242 L720,242 L721,242 L722,242 L723,242 L724,242 L725,242 L726,242 L727,242 L728,242 L729,242 L730,242 L731,242 L732,242 L733,242 L734,242 L735,242 L736,242 L737,242 L738,242 L739,242 L740,242 L741,242 L742,242 L743,242 L744,242 L745,242 L746,242 L747,242 L748,242 L749,242 L750,242 L751,242 L752,242 L753,242 L754,242 L755,242 L756,242 L757,242 L758,242 L759,242 L760,242 L761,242 L762,242 L763,242 L764,242 L765,242 L766,242 L767,242 L768,242 L769,242 L770,242 L771,242 L772,242 L773,242 L774,242 L775,242 L776,242 L777,242 L778,242 L779,242 L780,242 L781,242 L782,242 L783,242 L784,242 L785,242 L786,242 L787,243 L787,245 L787,247 L787,250 L787,252 L787,255 L787,257 L787,260 L787,262 L787,264 L788,267 L788,269 L788,271 L788,273 L788,275 L788,277 L788,279 L788,281 L788,282 L788,284 L788,286 L789,288 L789,289 L789,291 L789,292 L789,294 L789,295 L789,297 L789,298 L789,299 L789,301 L789,302 L790,303 L790,304 L790,306 L790,307 L790,308 L790,309 L790,310 L790,311 L790,312 L790,313 L791,314 L791,315 L791,316 L791,317 L791,318 L791,319 L791,320 L791,321 L791,322 L792,323 L792,324 L792,325 L792,326 L792,327 L792,328 L792,329 L793,329 L793,330 L793,331 L793,332 L793,333 L793,334 L794,334 L794,335 L794,336 L794,337 L795,338 L795,339 L795,340 L796,341 L796,342 L797,343 L797,344 L798,344 L798,345 L799,345 L799,346 L800,346 L800,347 L801,347 L802,347 L802,348 L803,348 L804,348 L805,348 L806,348 L806,349 L807,349 L808,349 L809,349 L810,349 L811,349 L812,349 L813,349 L814,349 L815,349 L816,349 L817,349 L818,349 L819,349 L820,349 L821,349 L822,349 L823,349 L824,349 L825,349 L826,349 L827,349 L828,349 L829,349 L830,349 L831,349 L832,349 L833,349 L834,349 L835,349 L836,349 L837,349 L838,349 L839,349 L840,349 L841,349 L842,349 L843,349 L844,349 L845,349 L846,349 L847,349 L848,349 L849,349 L850,349 L851,349 L852,349 L853,349 L854,349 L855,349 L856,349 L857,349 L858,349 L859,349 L860,349 L861,349 L862,349 L863,349 L864,349 L865,349 L866,349 L867,349 L868,349 L869,349 L870,349 L871,349 L872,349 L873,349 L874,349 L875,349 L876,349 L877,349 L878,349 L879,349 L880,349 L881,349 L882,349 L883,349 L884,349 L885,349 L886,349 L887,349 L888,349 L889,349 L890,349 L891,349 L892,349 L893,349 L894,349 L895,349 L896,349 L897,349 L898,349 L899,349 L900,349 L901,349 L902,349 L903,349 L904,349 L904,348 L904,346 L904,344 L904,342 L904,339 L904,337 L904,334 L904,332 L905,329 L905,327 L905,325 L905,323 L905,321 L905,319 L905,317 L905,315 L905,313 L905,311 L905,309 L906,308 L906,306 L906,304 L906,303 L906,301 L906,300 L906,298 L906,297 L906,295 L906,294 L907,292 L907,291 L907,290 L907,289 L907,287 L907,286 L907,285 L907,284 L907,283 L907,282 L907,281 L908,280 L908,279 L908,278 L908,277 L908,276 L908,275 L908,274 L908,273 L908,272 L908,271 L909,270 L909,269 L909,268 L909,267 L909,266 L909,265 L909,264 L910,264 L910,263 L910,262 L910,261 L910,260 L910,259 L911,258 L911,257 L911,256 L911,255 L911,254 L912,254 L912,253 L912,252 L913,251 L913,250 L913,249 L914,249 L914,248 L914,247 L915,247 L915,246 L916,246 L916,245 L917,245 L917,244 L918,244 L919,244 L919,243 L920,243 L921,243 L922,243 L923,243 L923,242 L924,242 L925,242 L926,242 L927,242 L928,242 L929,242 L930,242 L931,242 L932,242 L933,242 L934,242 L935,242 L936,242 L937,242 L938,242 L939,242 L940,242 L941,242 L942,242 L943,242 L944,242 L945,242 L946,242 L947,242 L948,242 L949,242 L950,242 L951,242 L952,242 L953,242 L954,242 L955,242 L956,242 L957,242 L958,242 L959,242 L960,242 L961,242 L962,242 L963,242 L964,242 L965,242 L966,242 L967,242 L968,242 L969,242 L970,242 L971,242 L972,242 L973,242 L974,242 L975,242 L976,242 L977,242 L978,242 L979,242 L980,242 L981,242 L982,242 L983,242 L984,242 L985,242 L986,242 L987,242 L988,242 L989,242 L990,242 L991,242 L992,242 L993,242 L994,242 L995,242 L996,242 L997,242 L998,242 L999,242 L1000,242 L1001,242 L1002,242 L1003,242 L1004,242 L1005,242 L1006,242 L1007,242 L1008,242 L1009,242 L1010,242 L1011,242 L1012,242 L1013,242 L1014,242 L1015,242 L1016,242 L1017,242 L1018,242 L1019,242 L1020,242 L1021,242 L1021,243 L1021,245 L1021,247 L1021,250 L1021,252 L1021,255 L1022,257 L1022,260 L1022,262 L1022,264 L1022,267 L1022,269 L1022,271 L1022,273 L1022,275 L1022,277 L1022,279 L1023,281 L1023,282 L1023,284 L1023,286 L1023,288 L1023,289 L1023,291 L1023,292 L1023,294 L1023,295 L1024,297 L1024,298 L1024,299 L1024,301 L1024,302 L1024,303 L1024,304 L1024,306 L1024,307 L1024,308 L1024,309 L1025,310 L1025,311 L1025,312 L1025,313 L1025,314 L1025,315 L1025,316 L1025,317 L1025,318 L1025,319 L1026,320 L1026,321 L1026,322 L1026,323 L1026,324 L1026,325 L1026,326 L1027,327 L1027,328 L1027,329 L1027,330 L1027,331 L1027,332 L1028,332 L1028,333 L1028,334 L1028,335 L1028,336 L1029,337 L1029,338 L1029,339 L1030,339 L1030,340 L1030,341 L1030,342 L1031,342 L1031,343 L1031,344 L1032,344 L1032,345 L1033,345 L1033,346 L1034,346 L1034,347 L1035,347 L1036,347 L1036,348 L1037,348 L1038,348 L1039,348 L1040,348 L1040,349 L1041,349 L1042,349 L1043,349 L1044,349 L1045,349 L1046,349 L1047,349 L1048,349 L1049,349 L1050,349 L1051,349 L1052,349 L1053,349 L1054,349 L1055,349 L1056,349 L1057,349 L1058,349 L1059,349 L1060,349 L1061,349 L1062,349 L1063,349 L1064,349 L1065,349 L1066,349 L1067,349 L1068,349 L1069,349 L1070,349 L1071,349 L1072,349 L1073,349 L1074,349 L1075,349 L1076,349 L1077,349 L1078,349 L1079,349 L1080,349 L1081,349 L1082,349 L1083,349 L1084,349 L1085,349 L1086,349 L1087,349 L1088,349 L1089,349 L1090,349 L1091,349 L1092,349 L1093,349 L1094,349 L1095,349 L1096,349 L1097,349 L1098,349 L1099,349 L1100,349 L1101,349 L1102,349 L1103,349 L1104,349 L1105,349 L1106,349 L1107,349 L1108,349 L1109,349 L1110,349 L1111,349 L1112,349 L1113,349 L1114,349 L1115,349 L1116,349 L1117,349 L1118,349 L1119,349 L1120,349 L1121,349 L1122,349 L1123,349 L1124,349 L1125,349 L1126,349 L1127,349 L1128,349 L1129,349 L1130,349 L1131,349 L1132,349 L1133,349 L1134,349 L1135,349 L1136,349 L1137,349 L1138,349" stroke="#008000" stroke-width="2" fill="none" stroke-linejoin="round" shape-rendering="crispEdges"/>
<path d="M552,296 L553,296 L554,296 L555,296 L556,296 L557,296 L558,296 L559,296 L560,296 L561,296 L562,296 L563,296 L564,296 L565,296 L566,296 L567,296 L568,296 L569,296 L570,296 L571,296 L572,296 L573,296 L574,296 L575,296 L576,296 L577,296 L578,296 L579,296 L580,296 L581,296 L582,296 L583,296 L584,296 L585,296 L586,296 L587,296 L588,296 L589,296 L590,296 L591,296 L592,296 L593,296 L594,296 L595,296 L596,296 L597,296 L598,296 L599,296 L600,296 L601,296 L602,296 L603,296 L604,296 L605,296 L606,296 L607,296 L608,296 L609,296 L610,296 L611,296 L612,296 L613,296 L614,296 L615,296 L616,296 L617,296 L618,296 L619,296 L620,296 L621,296 L622,296 L623,296 L624,296 L625,296 L626,296 L627,296 L628,296 L629,296 L630,296 L631,296 L632,296 L633,296 L634,296 L635,296 L636,296 L637,296 L638,296 L639,296 L640,296 L641,296 L642,296 L643,296 L644,296 L645,296 L646,296 L647,296 L648,296 L649,296 L650,296 L651,296 L652,296 L653,296 L654,296 L655,296 L656,296 L657,296 L658,296 L659,296 L660,296 L661,296 L662,296 L663,296 L664,296 L665,296 L666,296 L667,296 L668,296 L669,296 L669,295 L670,295 L670,294 L670,293 L670,292 L670,291 L670,290 L670,289 L671,288 L671,287 L671,286 L671,285 L671,284 L671,283 L672,282 L672,281 L672,280 L672,279 L672,278 L672,277 L673,277 L673,276 L673,275 L673,274 L673,273 L674,272 L674,271 L674,270 L674,269 L675,268 L675,267 L675,266 L675,265 L676,265 L676,264 L676,263 L676,262 L677,262 L677,261 L677,260 L677,259 L678,259 L678,258 L678,257 L679,257 L679,256 L679,255 L680,255 L680,254 L680,253 L681,253 L681,252 L682,252 L682,251 L683,251 L683,250 L684,249 L685,248 L686,248 L686,247 L687,247 L687,246 L688,246 L689,246 L689,245 L690,245 L691,245 L691,244 L692,244 L693,244 L694,244 L695,244 L695,243 L696,243 L697,243 L698,243 L699,243 L700,243 L701,243 L702,243 L703,243 L703,242 L704,242 L705,242 L706,242 L707,242 L708,242 L709,242 L710,242 L711,242 L712,242 L713,242 L714,242 L715,242 L716,242 L717,242 L718,242 L719,242 L720,242 L721,242 L722,242 L723,242 L724,242 L725,242 L726,242 L727,242 L728,242 L729,242 L730,242 L731,242 L732,242 L733,242 L734,242 L735,242 L736,242 L737,242 L738,242 L739,242 L740,242 L741,242 L742,242 L743,242 L744,242 L745,242 L746,242 L747,242 L748,242 L749,242 L750,242 L751,242 L752,242 L753,242 L754,242 L755,242 L756,242 L757,242 L758,242 L759,242 L760,242 L761,242 L762,242 L763,242 L764,242 L765,242 L766,242 L767,242 L768,242 L769,242 L770,242 L771,242 L772,242 L773,242 L774,242 L775,242 L776,242 L777,242 L778,242 L779,242 L780,242 L781,242 L782,242 L783,242 L784,242 L785,242 L786,242 L787,243 L787,244 L787,246 L787,247 L787,249 L787,250 L787,251 L787,252 L787,254 L788,255 L788,256 L788,257 L788,259 L788,260 L788,261 L788,262 L788,263 L788,264 L788,266 L788,267 L789,268 L789,269 L789,270 L789,271 L789,272 L789,273 L789,274 L789,275 L789,276 L789,277 L789,278 L790,279 L790,280 L790,281 L790,282 L790,283 L790,284 L790,285 L790,286 L790,287 L791,288 L791,289 L791,290 L791,291 L791,292 L791,293 L791,294 L791,295 L792,296 L792,297 L792,298 L792,299 L792,300 L792,301 L792,302 L792,303 L793,303 L793,304 L793,305 L793,306 L793,307 L793,308 L794,309 L794,310 L794,311 L794,312 L794,313 L794,314 L795,314 L795,315 L795,316 L795,317 L795,318 L795,319 L796,319 L796,320 L796,321 L796,322 L797,323 L797,324 L797,325 L797,326 L798,326 L798,327 L798,328 L798,329 L799,329 L799,330 L799,331 L800,332 L800,333 L800,334 L801,334 L801,335 L801,336 L802,336 L802,337 L803,338 L803,339 L804,339 L804,340 L805,340 L805,341 L806,342 L807,343 L808,343 L808,344 L809,344 L809,345 L810,345 L811,345 L811,346 L812,346 L813,346 L813,347 L814,347 L815,347 L816,347 L817,347 L817,348 L818,348 L819,348 L820,348 L821,348 L822,348 L823,348 L824,348 L825,348 L825,349 L826,349 L827,349 L828,349 L829,349 L830,349 L831,349 L832,349 L833,349 L834,349 L835,349 L836,349 L837,349 L838,349 L839,349 L840,349 L841,349 L842,349 L843,349 L844,349 L845,349 L846,349 L847,349 L848,349 L849,349 L850,349 L851,349 L852,349 L853,349 L854,349 L855,349 L856,349 L857,349 L858,349 L859,349 L860,349 L861,349 L862,349 L863,349 L864,349 L865,349 L866,349 L867,349 L868,349 L869,349 L870,349 L871,349 L872,349 L873,349 L874,349 L875,349 L876,349 L877,349 L878,349 L879,349 L880,349 L881,349 L882,349 L883,349 L884,349 L885,349 L886,349 L887,349 L888,349 L889,349 L890,349 L891,349 L892,349 L893,349 L894,349 L895,349 L896,349 L897,349 L898,349 L899,349 L900,349 L901,349 L902,349 L903,349 L904,349 L904,348 L904,347 L904,345 L904,344 L904,343 L904,341 L904,340 L905,339 L905,337 L905,336 L905,335 L905,334 L905,333 L905,331 L905,330 L905,329 L905,328 L905,327 L906,326 L906,325 L906,324 L906,323 L906,322 L906,321 L906,320 L906,319 L906,318 L906,317 L907,316 L907,315 L907,314 L907,313 L907,312 L907,311 L907,310 L907,309 L907,308 L907,307 L908,306 L908,305 L908,304 L908,303 L908,302 L908,301 L908,300 L908,299 L908,298 L909,297 L909,296 L909,295 L909,294 L909,293 L909,292 L909,291 L910,291 L910,290 L910,289 L910,288 L910,287 L910,286 L910,285 L911,284 L911,283 L911,282 L911,281 L911,280 L911,279 L912,278 L912,277 L912,276 L912,275 L912,274 L913,274 L913,273 L913,272 L913,271 L913,270 L914,270 L914,269 L914,268 L914,267 L914,266 L915,266 L915,265 L915,264 L915,263 L916,263 L916,262 L916,261 L916,260 L917,260 L917,259 L917,258 L918,258 L918,257 L918,256 L919,256 L919,255 L919,254 L920,254 L920,253 L920,252 L921,252 L921,251 L922,251 L922,250 L923,250 L923,249 L924,249 L924,248 L925,248 L925,247 L926,247 L926,246 L927,246 L928,246 L928,245 L929,245 L930,245 L931,245 L931,244 L932,244 L933,244 L934,244 L934,243 L935,243 L936,243 L937,243 L938,243 L939,243 L940,243 L941,243 L942,243 L942,242 L943,242 L944,242 L945,242 L946,242 L947,242 L948,242 L949,242 L950,242 L951,242 L952,242 L953,242 L954,242 L955,242 L956,242 L957,242 L958,242 L959,242 L960,242 L961,242 L962,242 L963,242 L964,242 L965,242 L966,242 L967,242 L968,242 L969,242 L970,242 L971,242 L972,242 L973,242 L974,242 L975,242 L976,242 L977,242 L978,242 L979,242 L980,242 L981,242 L982,242 L983,242 L984,242 L985,242 L986,242 L987,242 L988,242 L989,242 L990,242 L991,242 L992,242 L993,242 L994,242 L995,242 L996,242 L997,242 L998,242 L999,242 L1000,242 L1001,242 L1002,242 L1003,242 L1004,242 L1005,242 L1006,242 L1007,242 L1008,242 L1009,242 L1010,242 L1011,242 L1012,242 L1013,242 L1014,242 L1015,242 L1016,242 L1017,242 L1018,242 L1019,242 L1020,242 L1021,242 L1021,243 L1021,244 L1021,246 L1021,247 L1021,249 L1022,250 L1022,251 L1022,252 L1022,254 L1022,255 L1022,256 L1022,257 L1022,259 L1022,260 L1022,261 L1022,262 L1023,263 L1023,264 L1023,266 L1023,267 L1023,268 L1023,269 L1023,270 L1023,271 L1023,272 L1023,273 L1024,274 L1024,275 L1024,276 L1024,277 L1024,278 L1024,279 L1024,280 L1024,281 L1024,282 L1024,283 L1025,284 L1025,285 L1025,286 L1025,287 L1025,288 L1025,289 L1025,290 L1025,291 L1025,292 L1026,293 L1026,294 L1026,295 L1026,296 L1026,297 L1026,298 L1026,299 L1027,300 L1027,301 L1027,302 L1027,303 L1027,304 L1027,305 L1027,306 L1028,307 L1028,308 L1028,309 L1028,310 L1028,311 L1028,312 L1029,312 L1029,313 L1029,314 L1029,315 L1029,316 L1030,317 L1030,318 L1030,319 L1030,320 L1030,321 L1031,321 L1031,322 L1031,323 L1031,324 L1031,325 L1032,325 L1032,326 L1032,327 L1032,328 L1033,328 L1033,329 L1033,330 L1033,331 L1034,331 L1034,332 L1034,333 L1035,333 L1035,334 L1035,335 L1036,335 L1036,336 L1036,337 L1037,337 L1037,338 L1037,339 L1038,339 L1038,340 L1039,340 L1039,341 L1040,341 L1040,342 L1041,342 L1041,343 L1042,343 L1042,344 L1043,344 L1044,345 L1045,345 L1045,346 L1046,346 L1047,346 L1048,346 L1048,347 L1049,347 L1050,347 L1051,347 L1051,348 L1052,348 L1053,348 L1054,348 L1055,348 L1056,348 L1057,348 L1058,348 L1059,348 L1059,349 L1060,349 L1061,349 L1062,349 L1063,349 L1064,349 L1065,349 L1066,349 L1067,349 L1068,349 L1069,349 L1070,349 L1071,349 L1072,349 L1073,349 L1074,349 L1075,349 L1076,349 L1077,349 L1078,349 L1079,349 L1080,349 L1081,349 L1082,349 L1083,349 L1084,349 L1085,349 L1086,349 L1087,349 L1088,349 L1089,349 L1090,349 L1091,349 L1092,349 L1093,349 L1094,349 L1095,349 L1096,349 L1097,349 L1098,349 L1099,349 L1100,349 L1101,349 L1102,349 L1103,349 L1104,349 L1105,349 L1106,349 L1107,349 L1108,349 L1109,349 L1110,349 L1111,349 L1112,349 L1113,349 L1114,349 L1115,349 L1116,349 L1117,349 L1118,349 L1119,349 L1120,349 L1121,349 L1122,349 L1123,349 L1124,349 L1125,349 L1126,349 L1127,349 L1128,349 L1129,349 L1130,349 L1131,349 L1132,349 L1133,349 L1134,349 L1135,349 L1136,349 L1137,349 L1138,349" stroke="#808000" stroke-width="2" fill="none" stroke-linejoin="round" shape-rendering="crispEdges"/>
<rect x="1137" y="342" width="2" height="5" fill="#ff0000" />
<rect x="1137" y="345" width="2" height="2" fill="#800000" />
<rect x="1137" y="347" width="2" height="1" fill="#008000" />
<rect x="552.5" y="228.5" width="586" height="135" fill="none" stroke="#808080" shape-rendering="crispEdges"/>
<text x="550.2" y="232.5" font-size="10" fill="#0000ff" text-anchor="end" textLength="27" lengthAdjust="spacingAndGlyphs" >1.250</text>
<text x="550.2" y="246.5" font-size="10" fill="#0000ff" text-anchor="end" textLength="27" lengthAdjust="spacingAndGlyphs" >1.000</text>
<text x="550.2" y="273.5" font-size="10" fill="#0000ff" text-anchor="end" textLength="27" lengthAdjust="spacingAndGlyphs" >0.500</text>
<text x="550.2" y="300.5" font-size="10" fill="#0000ff" text-anchor="end" textLength="27" lengthAdjust="spacingAndGlyphs" >0.000</text>
<text x="550.2" y="327.5" font-size="10" fill="#0000ff" text-anchor="end" textLength="31" lengthAdjust="spacingAndGlyphs" >-0.500</text>
<text x="550.2" y="367.5" font-size="10" fill="#0000ff" text-anchor="end" textLength="31" lengthAdjust="spacingAndGlyphs" >-1.250</text>
<text x="552.3" y="374.5" font-size="10" fill="#0000ff" textLength="33" lengthAdjust="spacingAndGlyphs" >0.000u</text>
<text x="670" y="374.5" font-size="10" fill="#0000ff" text-anchor="middle" textLength="39" lengthAdjust="spacingAndGlyphs" >25.000u</text>
<text x="787" y="374.5" font-size="10" fill="#0000ff" text-anchor="middle" textLength="39" lengthAdjust="spacingAndGlyphs" >50.000u</text>
<text x="904.6" y="374.5" font-size="10" fill="#0000ff" text-anchor="middle" textLength="39" lengthAdjust="spacingAndGlyphs" >75.000u</text>
<text x="1021.8" y="374.5" font-size="10" fill="#0000ff" text-anchor="middle" textLength="45" lengthAdjust="spacingAndGlyphs" >100.000u</text>
<text x="1139" y="374.5" font-size="10" fill="#0000ff" text-anchor="middle" textLength="45" lengthAdjust="spacingAndGlyphs" >125.000u</text>
<text x="552.3" y="387" font-size="10" fill="#ff0000" textLength="49.5" lengthAdjust="spacingAndGlyphs" >v(OUT) (V)</text>
<text x="775.8" y="400" font-size="10" fill="#0000ff" textLength="38" lengthAdjust="spacingAndGlyphs" >T (Secs)</text>
<path d="M591,523 L591,433 L1138,433 L1138,433 L1137.2,433 L1136.4,433 L1135.7,433 L1134.9,433 L1134.1,433 L1133.3,433 L1132.5,433 L1131.7,433 L1131,433 L1130.2,433 L1129.4,433 L1128.6,433 L1127.8,433 L1127.1,433 L1126.3,433 L1125.5,433 L1124.7,433 L1123.9,433 L1123.2,433 L1122.4,433 L1121.6,433 L1120.8,433 L1120,433 L1119.2,433 L1118.5,433 L1117.7,433 L1116.9,433 L1116.1,433 L1115.3,433 L1114.6,433 L1113.8,433 L1113,433 L1112.2,433 L1111.4,433 L1110.7,433 L1109.9,433 L1109.1,433 L1108.3,433 L1107.5,433 L1106.7,433 L1106,433 L1105.2,433 L1104.4,433 L1103.6,433 L1102.8,433 L1102.1,433 L1101.3,433 L1100.5,433 L1099.7,433 L1098.9,433 L1098.2,433 L1097.4,433 L1096.6,433 L1095.8,433 L1095,433 L1094.2,433 L1093.5,433 L1092.7,433 L1091.9,433 L1091.1,433 L1090.3,433 L1089.6,433 L1088.8,433 L1088,433 L1087.2,433 L1086.4,433 L1085.7,433 L1084.9,433 L1084.1,433 L1083.3,433 L1082.5,433 L1081.7,433 L1081,433 L1080.2,433 L1079.4,433 L1078.6,433 L1077.8,433 L1077.1,433 L1076.3,433 L1075.5,433 L1074.7,433 L1073.9,433 L1073.1,433 L1072.4,433 L1071.6,433 L1070.8,433 L1070,433 L1069.2,433 L1068.5,433 L1067.7,433 L1066.9,433 L1066.1,433 L1065.3,433 L1064.6,433 L1063.8,433 L1063,433 L1062.2,433 L1061.4,433 L1060.6,433 L1059.9,433 L1059.1,433 L1058.3,433 L1057.5,433 L1056.7,433 L1056,433 L1055.2,433 L1054.4,433 L1053.6,433 L1052.8,433 L1052.1,433 L1051.3,433 L1050.5,433 L1049.7,433 L1048.9,433 L1048.1,433 L1047.4,433 L1046.6,433 L1045.8,433 L1045,433 L1044.2,433 L1043.5,433 L1042.7,433 L1041.9,433 L1041.1,433 L1040.3,433 L1039.6,433 L1038.8,433 L1038,433 L1037.2,433 L1036.4,433 L1035.6,433 L1034.9,433 L1034.1,433 L1033.3,433 L1032.5,433 L1031.7,433 L1031,433 L1030.2,433 L1029.4,433 L1028.6,433 L1027.8,433 L1027.1,433 L1026.3,433 L1025.5,433 L1024.7,433 L1023.9,433 L1023.1,433 L1022.4,433 L1021.6,433 L1020.8,433 L1020,433 L1019.2,433 L1018.5,433 L1017.7,433 L1016.9,433 L1016.1,433 L1015.3,433 L1014.5,433 L1013.8,433 L1013,433 L1012.2,433 L1011.4,433 L1010.6,433 L1009.9,433 L1009.1,433 L1008.3,433 L1007.5,433 L1006.7,433 L1006,433 L1005.2,433 L1004.4,433 L1003.6,433 L1002.8,433 L1002,433 L1001.3,433 L1000.5,433 L999.7,433 L998.9,433 L998.1,433 L997.4,433 L996.6,433 L995.8,433 L995,433 L994.2,433 L993.5,433 L992.7,433 L991.9,433 L991.1,433 L990.3,433 L989.5,433 L988.8,433 L988,433 L987.2,433 L986.4,433 L985.6,433 L984.9,433 L984.1,433 L983.3,433 L982.5,433 L981.7,433 L981,433 L980.2,433 L979.4,433 L978.6,433 L977.8,433 L977,433 L976.3,433 L975.5,433 L974.7,433 L973.9,433 L973.1,433 L972.4,433 L971.6,433 L970.8,433 L970,433 L969.2,433 L968.5,433 L967.7,433 L966.9,433 L966.1,433 L965.3,433 L964.5,433 L963.8,433 L963,433 L962.2,433 L961.4,433 L960.6,433 L959.9,433 L959.1,433 L958.3,433 L957.5,433 L956.7,433 L955.9,433 L955.2,433 L954.4,433 L953.6,433 L952.8,433 L952,433 L951.3,433 L950.5,433 L949.7,433 L948.9,433 L948.1,433 L947.4,433 L946.6,433 L945.8,433 L945,433 L944.2,433 L943.4,433 L942.7,433 L941.9,433 L941.1,433 L940.3,433 L939.5,433 L938.8,433 L938,433 L937.2,433 L936.4,433 L935.6,433 L934.9,433 L934.1,433 L933.3,433 L932.5,433 L931.7,433 L930.9,433 L930.2,433 L929.4,433 L928.6,433 L927.8,433 L927,433 L926.3,433 L925.5,433 L924.7,433 L923.9,433 L923.1,433 L922.4,433 L921.6,433 L920.8,433 L920,433 L919.2,433 L918.4,433 L917.7,433 L916.9,433 L916.1,433 L915.3,433 L914.5,433 L913.8,433 L913,433 L912.2,433 L911.4,433 L910.6,433 L909.9,433 L909.1,433 L908.3,433 L907.5,433 L906.7,433 L905.9,433 L905.2,433 L904.4,433 L903.6,433 L902.8,433 L902,433 L901.3,433 L900.5,433 L899.7,433 L898.9,433 L898.1,433 L897.3,433 L896.6,433 L895.8,433 L895,433 L894.2,433 L893.4,433 L892.7,433 L891.9,433 L891.1,433 L890.3,433 L889.5,433 L888.8,433 L888,433 L887.2,433 L886.4,433 L885.6,433 L884.8,433 L884.1,433 L883.3,433 L882.5,433 L881.7,433 L880.9,433 L880.2,433 L879.4,433 L878.6,433 L877.8,433 L877,433 L876.3,433 L875.5,433 L874.7,433 L873.9,433 L873.1,433 L872.3,433 L871.6,433 L870.8,433 L870,433 L869.2,433 L868.4,433 L867.7,433 L866.9,433 L866.1,433 L865.3,433 L864.5,433 L863.8,433 L863,433 L862.2,433 L861.4,433 L860.6,433 L859.8,433 L859.1,433 L858.3,433 L857.5,433 L856.7,433 L855.9,433 L855.2,433 L854.4,433 L853.6,433 L852.8,433 L852,433 L851.3,433 L850.5,433 L849.7,433 L848.9,433 L848.1,433 L847.3,433 L846.6,433 L845.8,433 L845,433 L844.2,433 L843.4,433 L842.7,433 L841.9,433 L841.1,433 L840.3,433 L839.5,433 L838.7,433 L838,433 L837.2,433 L836.4,433 L835.6,433 L834.8,433 L834.1,433 L833.3,433 L832.5,433 L831.7,433 L830.9,433 L830.2,433 L829.4,433 L828.6,433 L827.8,433 L827,433 L826.2,433 L825.5,433 L824.7,433 L823.9,433 L823.1,433 L822.3,433 L821.6,433 L820.8,433 L820,433 L819.2,433 L818.4,433 L817.7,433 L816.9,433 L816.1,433 L815.3,433 L814.5,433 L813.7,433 L813,433 L812.2,433 L811.4,433 L810.6,433 L809.8,433 L809.1,433 L808.3,433 L807.5,433 L806.7,433 L805.9,433 L805.2,433 L804.4,433 L803.6,433 L802.8,433 L802,433 L801.2,433 L800.5,433 L799.7,433 L798.9,433 L798.1,433 L797.3,433 L796.6,433 L795.8,433 L795,433 L794.2,433 L793.4,433 L792.7,433 L791.9,433 L791.1,433 L790.3,433 L789.5,433 L788.7,433 L788,433 L787.2,433 L786.4,433 L785.6,433 L784.8,433 L784.1,433 L783.3,433 L782.5,433 L781.7,433 L780.9,433 L780.1,433 L779.4,433 L778.6,433 L777.8,433 L777,433 L776.2,433 L775.5,433 L774.7,433 L773.9,433 L773.1,433 L772.3,433 L771.6,433 L770.8,433 L770,433 L769.2,433 L768.4,433 L767.6,433 L766.9,433 L766.1,433 L765.3,433 L764.5,433 L763.7,433 L763,433 L762.2,433 L761.4,433 L760.6,433 L759.8,433 L759.1,433 L758.3,433 L757.5,433 L756.7,433 L755.9,433 L755.1,433 L754.4,433 L753.6,433 L752.8,433 L752,433 L751.2,433 L750.5,433 L749.7,433 L748.9,433 L748.1,433 L747.3,433 L746.6,433 L745.8,433 L745,433 L744.2,433 L743.4,433 L742.6,433 L741.9,433 L741.1,433 L740.3,433 L739.5,433 L738.7,433 L738,433 L737.2,433 L736.4,433 L735.6,433 L734.8,433 L734.1,433 L733.3,433 L732.5,433 L731.7,433 L730.9,433 L730.1,433 L729.4,433 L728.6,433 L727.8,433 L727,433 L726.2,433 L725.5,433 L724.7,433 L723.9,433 L723.1,433 L722.3,433 L721.5,433 L720.8,433 L720,433 L719.2,433 L718.4,433 L717.6,433 L716.9,433 L716.1,433 L715.3,433 L714.5,433 L713.7,433 L713,433 L712.2,433 L711.4,433 L710.6,433 L709.8,433 L709,433 L708.3,433 L707.5,433 L706.7,433 L705.9,433 L705.1,433 L704.4,433 L703.6,433 L702.8,433 L702,433 L701.2,433 L700.5,433 L699.7,433 L698.9,433 L698.1,433 L697.3,433 L696.5,433.1 L695.8,433.1 L695,433.1 L694.2,433.1 L693.4,433.1 L692.6,433.1 L691.9,433.1 L691.1,433.1 L690.3,433.1 L689.5,433.1 L688.7,433.1 L688,433.1 L687.2,433.1 L686.4,433.1 L685.6,433.1 L684.8,433.1 L684,433.1 L683.3,433.1 L682.5,433.1 L681.7,433.2 L680.9,433.2 L680.1,433.2 L679.4,433.2 L678.6,433.2 L677.8,433.2 L677,433.2 L676.2,433.2 L675.5,433.2 L674.7,433.3 L673.9,433.3 L673.1,433.3 L672.3,433.3 L671.5,433.3 L670.8,433.3 L670,433.4 L669.2,433.4 L668.4,433.4 L667.6,433.4 L666.9,433.5 L666.1,433.5 L665.3,433.5 L664.5,433.5 L663.7,433.6 L662.9,433.6 L662.2,433.6 L661.4,433.7 L660.6,433.7 L659.8,433.8 L659,433.8 L658.3,433.9 L657.5,433.9 L656.7,434 L655.9,434 L655.1,434.1 L654.4,434.1 L653.6,434.2 L652.8,434.3 L652,434.4 L651.2,434.4 L650.4,434.5 L649.7,434.6 L648.9,434.7 L648.1,434.8 L647.3,434.9 L646.5,435 L645.8,435.2 L645,435.3 L644.2,435.4 L643.4,435.6 L642.6,435.7 L641.9,435.9 L641.1,436 L640.3,436.2 L639.5,436.4 L638.7,436.6 L637.9,436.8 L637.2,437 L636.4,437.3 L635.6,437.5 L634.8,437.8 L634,438.1 L633.3,438.4 L632.5,438.7 L631.7,439 L630.9,439.4 L630.1,439.8 L629.4,440.2 L628.6,440.6 L627.8,441 L627,441.5 L626.2,442 L625.4,442.5 L624.7,443.1 L623.9,443.7 L623.1,444.3 L622.3,445 L621.5,445.7 L620.8,446.4 L620,447.2 L619.2,448 L618.4,448.9 L617.6,449.9 L616.9,450.9 L616.1,451.9 L615.3,453 L614.5,454.2 L613.7,455.4 L612.9,456.8 L612.2,458.2 L611.4,459.6 L610.6,461.2 L609.8,462.9 L609,464.6 L608.3,466.5 L607.5,468.4 L606.7,470.5 L605.9,472.7 L605.1,475.1 L604.3,477.5 L603.6,480.2 L602.8,482.9 L602,485.9 L601.2,489 L600.4,492.3 L599.7,495.8 L598.9,499.5 L598.1,503.4 L597.3,507.2 L596.5,510.7 L595.8,513.8 L595,516.5 L594.2,518.8 L593.4,520.6 L592.6,521.9 L591.8,522.7 L591.1,523 Z" fill="#ffc90e"/>
<path d="M591.1,523 L591.8,522.7 L592.6,521.9 L593.4,520.6 L594.2,518.8 L595,516.5 L595.8,513.8 L596.5,510.7 L597.3,507.2 L598.1,503.4 L598.9,499.5 L599.7,495.8 L600.4,492.3 L601.2,489 L602,485.9 L602.8,482.9 L603.6,480.2 L604.3,477.5 L605.1,475.1 L605.9,472.7 L606.7,470.5 L607.5,468.4 L608.3,466.5 L609,464.6 L609.8,462.9 L610.6,461.2 L611.4,459.6 L612.2,458.2 L612.9,456.8 L613.7,455.4 L614.5,454.2 L615.3,453 L616.1,451.9 L616.9,450.9 L617.6,449.9 L618.4,448.9 L619.2,448 L620,447.2 L620.8,446.4 L621.5,445.7 L622.3,445 L623.1,444.3 L623.9,443.7 L624.7,443.1 L625.4,442.5 L626.2,442 L627,441.5 L627.8,441 L628.6,440.6 L629.4,440.2 L630.1,439.8 L630.9,439.4 L631.7,439 L632.5,438.7 L633.3,438.4 L634,438.1 L634.8,437.8 L635.6,437.5 L636.4,437.3 L637.2,437 L637.9,436.8 L638.7,436.6 L639.5,436.4 L640.3,436.2 L641.1,436 L641.9,435.9 L642.6,435.7 L643.4,435.6 L644.2,435.4 L645,435.3 L645.8,435.2 L646.5,435 L647.3,434.9 L648.1,434.8 L648.9,434.7 L649.7,434.6 L650.4,434.5 L651.2,434.4 L652,434.4 L652.8,434.3 L653.6,434.2 L654.4,434.1 L655.1,434.1 L655.9,434 L656.7,434 L657.5,433.9 L658.3,433.9 L659,433.8 L659.8,433.8 L660.6,433.7 L661.4,433.7 L662.2,433.6 L662.9,433.6 L663.7,433.6 L664.5,433.5 L665.3,433.5 L666.1,433.5 L666.9,433.5 L667.6,433.4 L668.4,433.4 L669.2,433.4 L670,433.4 L670.8,433.3 L671.5,433.3 L672.3,433.3 L673.1,433.3 L673.9,433.3 L674.7,433.3 L675.5,433.2 L676.2,433.2 L677,433.2 L677.8,433.2 L678.6,433.2 L679.4,433.2 L680.1,433.2 L680.9,433.2 L681.7,433.2 L682.5,433.1 L683.3,433.1 L684,433.1 L684.8,433.1 L685.6,433.1 L686.4,433.1 L687.2,433.1 L688,433.1 L688.7,433.1 L689.5,433.1 L690.3,433.1 L691.1,433.1 L691.9,433.1 L692.6,433.1 L693.4,433.1 L694.2,433.1 L695,433.1 L695.8,433.1 L696.5,433.1 L697.3,433 L698.1,433 L698.9,433 L699.7,433 L700.5,433 L701.2,433 L702,433 L702.8,433 L703.6,433 L704.4,433 L705.1,433 L705.9,433 L706.7,433 L707.5,433 L708.3,433 L709,433 L709.8,433 L710.6,433 L711.4,433 L712.2,433 L713,433 L713.7,433 L714.5,433 L715.3,433 L716.1,433 L716.9,433 L717.6,433 L718.4,433 L719.2,433 L720,433 L720.8,433 L721.5,433 L722.3,433 L723.1,433 L723.9,433 L724.7,433 L725.5,433 L726.2,433 L727,433 L727.8,433 L728.6,433 L729.4,433 L730.1,433 L730.9,433 L731.7,433 L732.5,433 L733.3,433 L734.1,433 L734.8,433 L735.6,433 L736.4,433 L737.2,433 L738,433 L738.7,433 L739.5,433 L740.3,433 L741.1,433 L741.9,433 L742.6,433 L743.4,433 L744.2,433 L745,433 L745.8,433 L746.6,433 L747.3,433 L748.1,433 L748.9,433 L749.7,433 L750.5,433 L751.2,433 L752,433 L752.8,433 L753.6,433 L754.4,433 L755.1,433 L755.9,433 L756.7,433 L757.5,433 L758.3,433 L759.1,433 L759.8,433 L760.6,433 L761.4,433 L762.2,433 L763,433 L763.7,433 L764.5,433 L765.3,433 L766.1,433 L766.9,433 L767.6,433 L768.4,433 L769.2,433 L770,433 L770.8,433 L771.6,433 L772.3,433 L773.1,433 L773.9,433 L774.7,433 L775.5,433 L776.2,433 L777,433 L777.8,433 L778.6,433 L779.4,433 L780.1,433 L780.9,433 L781.7,433 L782.5,433 L783.3,433 L784.1,433 L784.8,433 L785.6,433 L786.4,433 L787.2,433 L788,433 L788.7,433 L789.5,433 L790.3,433 L791.1,433 L791.9,433 L792.7,433 L793.4,433 L794.2,433 L795,433 L795.8,433 L796.6,433 L797.3,433 L798.1,433 L798.9,433 L799.7,433 L800.5,433 L801.2,433 L802,433 L802.8,433 L803.6,433 L804.4,433 L805.2,433 L805.9,433 L806.7,433 L807.5,433 L808.3,433 L809.1,433 L809.8,433 L810.6,433 L811.4,433 L812.2,433 L813,433 L813.7,433 L814.5,433 L815.3,433 L816.1,433 L816.9,433 L817.7,433 L818.4,433 L819.2,433 L820,433 L820.8,433 L821.6,433 L822.3,433 L823.1,433 L823.9,433 L824.7,433 L825.5,433 L826.2,433 L827,433 L827.8,433 L828.6,433 L829.4,433 L830.2,433 L830.9,433 L831.7,433 L832.5,433 L833.3,433 L834.1,433 L834.8,433 L835.6,433 L836.4,433 L837.2,433 L838,433 L838.7,433 L839.5,433 L840.3,433 L841.1,433 L841.9,433 L842.7,433 L843.4,433 L844.2,433 L845,433 L845.8,433 L846.6,433 L847.3,433 L848.1,433 L848.9,433 L849.7,433 L850.5,433 L851.3,433 L852,433 L852.8,433 L853.6,433 L854.4,433 L855.2,433 L855.9,433 L856.7,433 L857.5,433 L858.3,433 L859.1,433 L859.8,433 L860.6,433 L861.4,433 L862.2,433 L863,433 L863.8,433 L864.5,433 L865.3,433 L866.1,433 L866.9,433 L867.7,433 L868.4,433 L869.2,433 L870,433 L870.8,433 L871.6,433 L872.3,433 L873.1,433 L873.9,433 L874.7,433 L875.5,433 L876.3,433 L877,433 L877.8,433 L878.6,433 L879.4,433 L880.2,433 L880.9,433 L881.7,433 L882.5,433 L883.3,433 L884.1,433 L884.8,433 L885.6,433 L886.4,433 L887.2,433 L888,433 L888.8,433 L889.5,433 L890.3,433 L891.1,433 L891.9,433 L892.7,433 L893.4,433 L894.2,433 L895,433 L895.8,433 L896.6,433 L897.3,433 L898.1,433 L898.9,433 L899.7,433 L900.5,433 L901.3,433 L902,433 L902.8,433 L903.6,433 L904.4,433 L905.2,433 L905.9,433 L906.7,433 L907.5,433 L908.3,433 L909.1,433 L909.9,433 L910.6,433 L911.4,433 L912.2,433 L913,433 L913.8,433 L914.5,433 L915.3,433 L916.1,433 L916.9,433 L917.7,433 L918.4,433 L919.2,433 L920,433 L920.8,433 L921.6,433 L922.4,433 L923.1,433 L923.9,433 L924.7,433 L925.5,433 L926.3,433 L927,433 L927.8,433 L928.6,433 L929.4,433 L930.2,433 L930.9,433 L931.7,433 L932.5,433 L933.3,433 L934.1,433 L934.9,433 L935.6,433 L936.4,433 L937.2,433 L938,433 L938.8,433 L939.5,433 L940.3,433 L941.1,433 L941.9,433 L942.7,433 L943.4,433 L944.2,433 L945,433 L945.8,433 L946.6,433 L947.4,433 L948.1,433 L948.9,433 L949.7,433 L950.5,433 L951.3,433 L952,433 L952.8,433 L953.6,433 L954.4,433 L955.2,433 L955.9,433 L956.7,433 L957.5,433 L958.3,433 L959.1,433 L959.9,433 L960.6,433 L961.4,433 L962.2,433 L963,433 L963.8,433 L964.5,433 L965.3,433 L966.1,433 L966.9,433 L967.7,433 L968.5,433 L969.2,433 L970,433 L970.8,433 L971.6,433 L972.4,433 L973.1,433 L973.9,433 L974.7,433 L975.5,433 L976.3,433 L977,433 L977.8,433 L978.6,433 L979.4,433 L980.2,433 L981,433 L981.7,433 L982.5,433 L983.3,433 L984.1,433 L984.9,433 L985.6,433 L986.4,433 L987.2,433 L988,433 L988.8,433 L989.5,433 L990.3,433 L991.1,433 L991.9,433 L992.7,433 L993.5,433 L994.2,433 L995,433 L995.8,433 L996.6,433 L997.4,433 L998.1,433 L998.9,433 L999.7,433 L1000.5,433 L1001.3,433 L1002,433 L1002.8,433 L1003.6,433 L1004.4,433 L1005.2,433 L1006,433 L1006.7,433 L1007.5,433 L1008.3,433 L1009.1,433 L1009.9,433 L1010.6,433 L1011.4,433 L1012.2,433 L1013,433 L1013.8,433 L1014.5,433 L1015.3,433 L1016.1,433 L1016.9,433 L1017.7,433 L1018.5,433 L1019.2,433 L1020,433 L1020.8,433 L1021.6,433 L1022.4,433 L1023.1,433 L1023.9,433 L1024.7,433 L1025.5,433 L1026.3,433 L1027.1,433 L1027.8,433 L1028.6,433 L1029.4,433 L1030.2,433 L1031,433 L1031.7,433 L1032.5,433 L1033.3,433 L1034.1,433 L1034.9,433 L1035.6,433 L1036.4,433 L1037.2,433 L1038,433 L1038.8,433 L1039.6,433 L1040.3,433 L1041.1,433 L1041.9,433 L1042.7,433 L1043.5,433 L1044.2,433 L1045,433 L1045.8,433 L1046.6,433 L1047.4,433 L1048.1,433 L1048.9,433 L1049.7,433 L1050.5,433 L1051.3,433 L1052.1,433 L1052.8,433 L1053.6,433 L1054.4,433 L1055.2,433 L1056,433 L1056.7,433 L1057.5,433 L1058.3,433 L1059.1,433 L1059.9,433 L1060.6,433 L1061.4,433 L1062.2,433 L1063,433 L1063.8,433 L1064.6,433 L1065.3,433 L1066.1,433 L1066.9,433 L1067.7,433 L1068.5,433 L1069.2,433 L1070,433 L1070.8,433 L1071.6,433 L1072.4,433 L1073.1,433 L1073.9,433 L1074.7,433 L1075.5,433 L1076.3,433 L1077.1,433 L1077.8,433 L1078.6,433 L1079.4,433 L1080.2,433 L1081,433 L1081.7,433 L1082.5,433 L1083.3,433 L1084.1,433 L1084.9,433 L1085.7,433 L1086.4,433 L1087.2,433 L1088,433 L1088.8,433 L1089.6,433 L1090.3,433 L1091.1,433 L1091.9,433 L1092.7,433 L1093.5,433 L1094.2,433 L1095,433 L1095.8,433 L1096.6,433 L1097.4,433 L1098.2,433 L1098.9,433 L1099.7,433 L1100.5,433 L1101.3,433 L1102.1,433 L1102.8,433 L1103.6,433 L1104.4,433 L1105.2,433 L1106,433 L1106.7,433 L1107.5,433 L1108.3,433 L1109.1,433 L1109.9,433 L1110.7,433 L1111.4,433 L1112.2,433 L1113,433 L1113.8,433 L1114.6,433 L1115.3,433 L1116.1,433 L1116.9,433 L1117.7,433 L1118.5,433 L1119.2,433 L1120,433 L1120.8,433 L1121.6,433 L1122.4,433 L1123.2,433 L1123.9,433 L1124.7,433 L1125.5,433 L1126.3,433 L1127.1,433 L1127.8,433 L1128.6,433 L1129.4,433 L1130.2,433 L1131,433 L1131.7,433 L1132.5,433 L1133.3,433 L1134.1,433 L1134.9,433 L1135.7,433 L1136.4,433 L1137.2,433 L1138,433 L1138,433 L1137.2,433 L1136.4,433 L1135.7,433 L1134.9,433 L1134.1,433 L1133.3,433 L1132.5,433 L1131.7,433 L1131,433 L1130.2,433 L1129.4,433 L1128.6,433 L1127.8,433 L1127.1,433 L1126.3,433 L1125.5,433 L1124.7,433 L1123.9,433 L1123.2,433 L1122.4,433 L1121.6,433 L1120.8,433 L1120,433 L1119.2,433 L1118.5,433 L1117.7,433 L1116.9,433 L1116.1,433 L1115.3,433 L1114.6,433 L1113.8,433 L1113,433 L1112.2,433 L1111.4,433 L1110.7,433 L1109.9,433 L1109.1,433 L1108.3,433 L1107.5,433 L1106.7,433 L1106,433 L1105.2,433 L1104.4,433 L1103.6,433 L1102.8,433 L1102.1,433 L1101.3,433 L1100.5,433 L1099.7,433 L1098.9,433 L1098.2,433 L1097.4,433 L1096.6,433 L1095.8,433 L1095,433 L1094.2,433 L1093.5,433 L1092.7,433 L1091.9,433 L1091.1,433 L1090.3,433 L1089.6,433 L1088.8,433 L1088,433 L1087.2,433 L1086.4,433 L1085.7,433 L1084.9,433 L1084.1,433 L1083.3,433 L1082.5,433 L1081.7,433 L1081,433 L1080.2,433 L1079.4,433 L1078.6,433 L1077.8,433 L1077.1,433 L1076.3,433 L1075.5,433 L1074.7,433 L1073.9,433 L1073.1,433 L1072.4,433 L1071.6,433 L1070.8,433 L1070,433 L1069.2,433 L1068.5,433 L1067.7,433 L1066.9,433 L1066.1,433 L1065.3,433 L1064.6,433 L1063.8,433 L1063,433 L1062.2,433 L1061.4,433 L1060.6,433 L1059.9,433 L1059.1,433 L1058.3,433 L1057.5,433 L1056.7,433 L1056,433 L1055.2,433 L1054.4,433 L1053.6,433 L1052.8,433 L1052.1,433 L1051.3,433 L1050.5,433 L1049.7,433 L1048.9,433 L1048.1,433 L1047.4,433 L1046.6,433 L1045.8,433 L1045,433 L1044.2,433 L1043.5,433 L1042.7,433 L1041.9,433 L1041.1,433 L1040.3,433 L1039.6,433 L1038.8,433 L1038,433 L1037.2,433 L1036.4,433 L1035.6,433 L1034.9,433 L1034.1,433 L1033.3,433 L1032.5,433 L1031.7,433 L1031,433 L1030.2,433 L1029.4,433 L1028.6,433 L1027.8,433 L1027.1,433 L1026.3,433 L1025.5,433 L1024.7,433 L1023.9,433 L1023.1,433 L1022.4,433 L1021.6,433 L1020.8,433 L1020,433 L1019.2,433 L1018.5,433 L1017.7,433 L1016.9,433 L1016.1,433 L1015.3,433 L1014.5,433 L1013.8,433 L1013,433 L1012.2,433 L1011.4,433 L1010.6,433 L1009.9,433 L1009.1,433 L1008.3,433 L1007.5,433 L1006.7,433 L1006,433 L1005.2,433 L1004.4,433 L1003.6,433 L1002.8,433 L1002,433 L1001.3,433 L1000.5,433 L999.7,433 L998.9,433 L998.1,433 L997.4,433 L996.6,433 L995.8,433 L995,433 L994.2,433 L993.5,433 L992.7,433 L991.9,433 L991.1,433 L990.3,433 L989.5,433 L988.8,433 L988,433 L987.2,433 L986.4,433 L985.6,433 L984.9,433 L984.1,433 L983.3,433 L982.5,433 L981.7,433 L981,433 L980.2,433 L979.4,433 L978.6,433 L977.8,433 L977,433 L976.3,433 L975.5,433 L974.7,433 L973.9,433 L973.1,433 L972.4,433 L971.6,433 L970.8,433 L970,433 L969.2,433 L968.5,433 L967.7,433 L966.9,433 L966.1,433 L965.3,433 L964.5,433 L963.8,433 L963,433 L962.2,433 L961.4,433 L960.6,433 L959.9,433 L959.1,433 L958.3,433 L957.5,433 L956.7,433 L955.9,433 L955.2,433 L954.4,433 L953.6,433 L952.8,433 L952,433 L951.3,433 L950.5,433 L949.7,433 L948.9,433 L948.1,433 L947.4,433 L946.6,433 L945.8,433 L945,433 L944.2,433 L943.4,433 L942.7,433 L941.9,433 L941.1,433 L940.3,433 L939.5,433 L938.8,433 L938,433 L937.2,433 L936.4,433 L935.6,433 L934.9,433 L934.1,433 L933.3,433 L932.5,433 L931.7,433 L930.9,433 L930.2,433 L929.4,433 L928.6,433 L927.8,433 L927,433 L926.3,433 L925.5,433 L924.7,433 L923.9,433 L923.1,433 L922.4,433 L921.6,433 L920.8,433 L920,433 L919.2,433 L918.4,433 L917.7,433 L916.9,433 L916.1,433 L915.3,433 L914.5,433 L913.8,433 L913,433 L912.2,433 L911.4,433 L910.6,433 L909.9,433 L909.1,433 L908.3,433 L907.5,433 L906.7,433 L905.9,433 L905.2,433 L904.4,433 L903.6,433 L902.8,433 L902,433 L901.3,433 L900.5,433 L899.7,433 L898.9,433 L898.1,433 L897.3,433 L896.6,433 L895.8,433 L895,433 L894.2,433 L893.4,433 L892.7,433 L891.9,433 L891.1,433 L890.3,433 L889.5,433 L888.8,433 L888,433 L887.2,433 L886.4,433 L885.6,433 L884.8,433 L884.1,433 L883.3,433 L882.5,433 L881.7,433 L880.9,433 L880.2,433 L879.4,433 L878.6,433 L877.8,433 L877,433 L876.3,433 L875.5,433 L874.7,433 L873.9,433 L873.1,433 L872.3,433 L871.6,433 L870.8,433 L870,433 L869.2,433 L868.4,433 L867.7,433 L866.9,433 L866.1,433 L865.3,433 L864.5,433 L863.8,433 L863,433 L862.2,433 L861.4,433 L860.6,433 L859.8,433 L859.1,433 L858.3,433 L857.5,433 L856.7,433 L855.9,433 L855.2,433 L854.4,433 L853.6,433 L852.8,433 L852,433 L851.3,433 L850.5,433 L849.7,433 L848.9,433 L848.1,433 L847.3,433 L846.6,433 L845.8,433 L845,433 L844.2,433 L843.4,433 L842.7,433 L841.9,433 L841.1,433 L840.3,433 L839.5,433 L838.7,433 L838,433 L837.2,433 L836.4,433 L835.6,433 L834.8,433 L834.1,433 L833.3,433 L832.5,433 L831.7,433 L830.9,433 L830.2,433 L829.4,433 L828.6,433 L827.8,433 L827,433 L826.2,433 L825.5,433 L824.7,433 L823.9,433 L823.1,433 L822.3,433 L821.6,433 L820.8,433 L820,433 L819.2,433 L818.4,433 L817.7,433 L816.9,433 L816.1,433 L815.3,433 L814.5,433 L813.7,433 L813,433 L812.2,433 L811.4,433 L810.6,433.1 L809.8,433.1 L809.1,433.1 L808.3,433.1 L807.5,433.1 L806.7,433.1 L805.9,433.1 L805.2,433.1 L804.4,433.1 L803.6,433.1 L802.8,433.1 L802,433.1 L801.2,433.1 L800.5,433.1 L799.7,433.1 L798.9,433.1 L798.1,433.1 L797.3,433.1 L796.6,433.1 L795.8,433.1 L795,433.1 L794.2,433.1 L793.4,433.1 L792.7,433.1 L791.9,433.1 L791.1,433.1 L790.3,433.1 L789.5,433.1 L788.7,433.1 L788,433.1 L787.2,433.1 L786.4,433.1 L785.6,433.1 L784.8,433.1 L784.1,433.1 L783.3,433.1 L782.5,433.1 L781.7,433.1 L780.9,433.1 L780.1,433.1 L779.4,433.2 L778.6,433.2 L777.8,433.2 L777,433.2 L776.2,433.2 L775.5,433.2 L774.7,433.2 L773.9,433.2 L773.1,433.2 L772.3,433.2 L771.6,433.2 L770.8,433.2 L770,433.2 L769.2,433.2 L768.4,433.2 L767.6,433.2 L766.9,433.2 L766.1,433.2 L765.3,433.2 L764.5,433.3 L763.7,433.3 L763,433.3 L762.2,433.3 L761.4,433.3 L760.6,433.3 L759.8,433.3 L759.1,433.3 L758.3,433.3 L757.5,433.3 L756.7,433.3 L755.9,433.3 L755.1,433.3 L754.4,433.4 L753.6,433.4 L752.8,433.4 L752,433.4 L751.2,433.4 L750.5,433.4 L749.7,433.4 L748.9,433.4 L748.1,433.4 L747.3,433.5 L746.6,433.5 L745.8,433.5 L745,433.5 L744.2,433.5 L743.4,433.5 L742.6,433.5 L741.9,433.6 L741.1,433.6 L740.3,433.6 L739.5,433.6 L738.7,433.6 L738,433.6 L737.2,433.7 L736.4,433.7 L735.6,433.7 L734.8,433.7 L734.1,433.7 L733.3,433.7 L732.5,433.8 L731.7,433.8 L730.9,433.8 L730.1,433.8 L729.4,433.9 L728.6,433.9 L727.8,433.9 L727,433.9 L726.2,433.9 L725.5,434 L724.7,434 L723.9,434 L723.1,434.1 L722.3,434.1 L721.5,434.1 L720.8,434.1 L720,434.2 L719.2,434.2 L718.4,434.2 L717.6,434.3 L716.9,434.3 L716.1,434.3 L715.3,434.4 L714.5,434.4 L713.7,434.5 L713,434.5 L712.2,434.5 L711.4,434.6 L710.6,434.6 L709.8,434.7 L709,434.7 L708.3,434.8 L707.5,434.8 L706.7,434.9 L705.9,434.9 L705.1,435 L704.4,435 L703.6,435.1 L702.8,435.1 L702,435.2 L701.2,435.3 L700.5,435.3 L699.7,435.4 L698.9,435.4 L698.1,435.5 L697.3,435.6 L696.5,435.7 L695.8,435.7 L695,435.8 L694.2,435.9 L693.4,436 L692.6,436 L691.9,436.1 L691.1,436.2 L690.3,436.3 L689.5,436.4 L688.7,436.5 L688,436.6 L687.2,436.7 L686.4,436.8 L685.6,436.9 L684.8,437 L684,437.1 L683.3,437.2 L682.5,437.3 L681.7,437.4 L680.9,437.6 L680.1,437.7 L679.4,437.8 L678.6,437.9 L677.8,438.1 L677,438.2 L676.2,438.4 L675.5,438.5 L674.7,438.7 L673.9,438.8 L673.1,439 L672.3,439.1 L671.5,439.3 L670.8,439.5 L670,439.6 L669.2,439.8 L668.4,440 L667.6,440.2 L666.9,440.4 L666.1,440.6 L665.3,440.8 L664.5,441 L663.7,441.3 L662.9,441.5 L662.2,441.7 L661.4,441.9 L660.6,442.2 L659.8,442.4 L659,442.7 L658.3,443 L657.5,443.2 L656.7,443.5 L655.9,443.8 L655.1,444.1 L654.4,444.4 L653.6,444.7 L652.8,445 L652,445.4 L651.2,445.7 L650.4,446.1 L649.7,446.4 L648.9,446.8 L648.1,447.2 L647.3,447.6 L646.5,448 L645.8,448.4 L645,448.8 L644.2,449.2 L643.4,449.7 L642.6,450.1 L641.9,450.6 L641.1,451.1 L640.3,451.6 L639.5,452.1 L638.7,452.6 L637.9,453.1 L637.2,453.7 L636.4,454.2 L635.6,454.8 L634.8,455.4 L634,456 L633.3,456.7 L632.5,457.3 L631.7,458 L630.9,458.7 L630.1,459.4 L629.4,460.1 L628.6,460.8 L627.8,461.6 L627,462.4 L626.2,463.2 L625.4,464 L624.7,464.9 L623.9,465.7 L623.1,466.6 L622.3,467.6 L621.5,468.5 L620.8,469.5 L620,470.5 L619.2,471.5 L618.4,472.6 L617.6,473.6 L616.9,474.8 L616.1,475.9 L615.3,477.1 L614.5,478.3 L613.7,479.5 L612.9,480.8 L612.2,482.1 L611.4,483.5 L610.6,484.8 L609.8,486.3 L609,487.7 L608.3,489.2 L607.5,490.8 L606.7,492.3 L605.9,494 L605.1,495.6 L604.3,497.4 L603.6,499.1 L602.8,500.9 L602,502.8 L601.2,504.7 L600.4,506.7 L599.7,508.7 L598.9,510.8 L598.1,512.9 L597.3,514.9 L596.5,516.8 L595.8,518.4 L595,519.8 L594.2,520.9 L593.4,521.8 L592.6,522.5 L591.8,522.9 L591.1,523 Z" fill="#fff200"/>
<path d="M591.1,523 L591.8,522.9 L592.6,522.5 L593.4,521.8 L594.2,520.9 L595,519.8 L595.8,518.4 L596.5,516.8 L597.3,514.9 L598.1,512.9 L598.9,510.8 L599.7,508.7 L600.4,506.7 L601.2,504.7 L602,502.8 L602.8,500.9 L603.6,499.1 L604.3,497.4 L605.1,495.6 L605.9,494 L606.7,492.3 L607.5,490.8 L608.3,489.2 L609,487.7 L609.8,486.3 L610.6,484.8 L611.4,483.5 L612.2,482.1 L612.9,480.8 L613.7,479.5 L614.5,478.3 L615.3,477.1 L616.1,475.9 L616.9,474.8 L617.6,473.6 L618.4,472.6 L619.2,471.5 L620,470.5 L620.8,469.5 L621.5,468.5 L622.3,467.6 L623.1,466.6 L623.9,465.7 L624.7,464.9 L625.4,464 L626.2,463.2 L627,462.4 L627.8,461.6 L628.6,460.8 L629.4,460.1 L630.1,459.4 L630.9,458.7 L631.7,458 L632.5,457.3 L633.3,456.7 L634,456 L634.8,455.4 L635.6,454.8 L636.4,454.2 L637.2,453.7 L637.9,453.1 L638.7,452.6 L639.5,452.1 L640.3,451.6 L641.1,451.1 L641.9,450.6 L642.6,450.1 L643.4,449.7 L644.2,449.2 L645,448.8 L645.8,448.4 L646.5,448 L647.3,447.6 L648.1,447.2 L648.9,446.8 L649.7,446.4 L650.4,446.1 L651.2,445.7 L652,445.4 L652.8,445 L653.6,444.7 L654.4,444.4 L655.1,444.1 L655.9,443.8 L656.7,443.5 L657.5,443.2 L658.3,443 L659,442.7 L659.8,442.4 L660.6,442.2 L661.4,441.9 L662.2,441.7 L662.9,441.5 L663.7,441.3 L664.5,441 L665.3,440.8 L666.1,440.6 L666.9,440.4 L667.6,440.2 L668.4,440 L669.2,439.8 L670,439.6 L670.8,439.5 L671.5,439.3 L672.3,439.1 L673.1,439 L673.9,438.8 L674.7,438.7 L675.5,438.5 L676.2,438.4 L677,438.2 L677.8,438.1 L678.6,437.9 L679.4,437.8 L680.1,437.7 L680.9,437.6 L681.7,437.4 L682.5,437.3 L683.3,437.2 L684,437.1 L684.8,437 L685.6,436.9 L686.4,436.8 L687.2,436.7 L688,436.6 L688.7,436.5 L689.5,436.4 L690.3,436.3 L691.1,436.2 L691.9,436.1 L692.6,436 L693.4,436 L694.2,435.9 L695,435.8 L695.8,435.7 L696.5,435.7 L697.3,435.6 L698.1,435.5 L698.9,435.4 L699.7,435.4 L700.5,435.3 L701.2,435.3 L702,435.2 L702.8,435.1 L703.6,435.1 L704.4,435 L705.1,435 L705.9,434.9 L706.7,434.9 L707.5,434.8 L708.3,434.8 L709,434.7 L709.8,434.7 L710.6,434.6 L711.4,434.6 L712.2,434.5 L713,434.5 L713.7,434.5 L714.5,434.4 L715.3,434.4 L716.1,434.3 L716.9,434.3 L717.6,434.3 L718.4,434.2 L719.2,434.2 L720,434.2 L720.8,434.1 L721.5,434.1 L722.3,434.1 L723.1,434.1 L723.9,434 L724.7,434 L725.5,434 L726.2,433.9 L727,433.9 L727.8,433.9 L728.6,433.9 L729.4,433.9 L730.1,433.8 L730.9,433.8 L731.7,433.8 L732.5,433.8 L733.3,433.7 L734.1,433.7 L734.8,433.7 L735.6,433.7 L736.4,433.7 L737.2,433.7 L738,433.6 L738.7,433.6 L739.5,433.6 L740.3,433.6 L741.1,433.6 L741.9,433.6 L742.6,433.5 L743.4,433.5 L744.2,433.5 L745,433.5 L745.8,433.5 L746.6,433.5 L747.3,433.5 L748.1,433.4 L748.9,433.4 L749.7,433.4 L750.5,433.4 L751.2,433.4 L752,433.4 L752.8,433.4 L753.6,433.4 L754.4,433.4 L755.1,433.3 L755.9,433.3 L756.7,433.3 L757.5,433.3 L758.3,433.3 L759.1,433.3 L759.8,433.3 L760.6,433.3 L761.4,433.3 L762.2,433.3 L763,433.3 L763.7,433.3 L764.5,433.3 L765.3,433.2 L766.1,433.2 L766.9,433.2 L767.6,433.2 L768.4,433.2 L769.2,433.2 L770,433.2 L770.8,433.2 L771.6,433.2 L772.3,433.2 L773.1,433.2 L773.9,433.2 L774.7,433.2 L775.5,433.2 L776.2,433.2 L777,433.2 L777.8,433.2 L778.6,433.2 L779.4,433.2 L780.1,433.1 L780.9,433.1 L781.7,433.1 L782.5,433.1 L783.3,433.1 L784.1,433.1 L784.8,433.1 L785.6,433.1 L786.4,433.1 L787.2,433.1 L788,433.1 L788.7,433.1 L789.5,433.1 L790.3,433.1 L791.1,433.1 L791.9,433.1 L792.7,433.1 L793.4,433.1 L794.2,433.1 L795,433.1 L795.8,433.1 L796.6,433.1 L797.3,433.1 L798.1,433.1 L798.9,433.1 L799.7,433.1 L800.5,433.1 L801.2,433.1 L802,433.1 L802.8,433.1 L803.6,433.1 L804.4,433.1 L805.2,433.1 L805.9,433.1 L806.7,433.1 L807.5,433.1 L808.3,433.1 L809.1,433.1 L809.8,433.1 L810.6,433.1 L811.4,433 L812.2,433 L813,433 L813.7,433 L814.5,433 L815.3,433 L816.1,433 L816.9,433 L817.7,433 L818.4,433 L819.2,433 L820,433 L820.8,433 L821.6,433 L822.3,433 L823.1,433 L823.9,433 L824.7,433 L825.5,433 L826.2,433 L827,433 L827.8,433 L828.6,433 L829.4,433 L830.2,433 L830.9,433 L831.7,433 L832.5,433 L833.3,433 L834.1,433 L834.8,433 L835.6,433 L836.4,433 L837.2,433 L838,433 L838.7,433 L839.5,433 L840.3,433 L841.1,433 L841.9,433 L842.7,433 L843.4,433 L844.2,433 L845,433 L845.8,433 L846.6,433 L847.3,433 L848.1,433 L848.9,433 L849.7,433 L850.5,433 L851.3,433 L852,433 L852.8,433 L853.6,433 L854.4,433 L855.2,433 L855.9,433 L856.7,433 L857.5,433 L858.3,433 L859.1,433 L859.8,433 L860.6,433 L861.4,433 L862.2,433 L863,433 L863.8,433 L864.5,433 L865.3,433 L866.1,433 L866.9,433 L867.7,433 L868.4,433 L869.2,433 L870,433 L870.8,433 L871.6,433 L872.3,433 L873.1,433 L873.9,433 L874.7,433 L875.5,433 L876.3,433 L877,433 L877.8,433 L878.6,433 L879.4,433 L880.2,433 L880.9,433 L881.7,433 L882.5,433 L883.3,433 L884.1,433 L884.8,433 L885.6,433 L886.4,433 L887.2,433 L888,433 L888.8,433 L889.5,433 L890.3,433 L891.1,433 L891.9,433 L892.7,433 L893.4,433 L894.2,433 L895,433 L895.8,433 L896.6,433 L897.3,433 L898.1,433 L898.9,433 L899.7,433 L900.5,433 L901.3,433 L902,433 L902.8,433 L903.6,433 L904.4,433 L905.2,433 L905.9,433 L906.7,433 L907.5,433 L908.3,433 L909.1,433 L909.9,433 L910.6,433 L911.4,433 L912.2,433 L913,433 L913.8,433 L914.5,433 L915.3,433 L916.1,433 L916.9,433 L917.7,433 L918.4,433 L919.2,433 L920,433 L920.8,433 L921.6,433 L922.4,433 L923.1,433 L923.9,433 L924.7,433 L925.5,433 L926.3,433 L927,433 L927.8,433 L928.6,433 L929.4,433 L930.2,433 L930.9,433 L931.7,433 L932.5,433 L933.3,433 L934.1,433 L934.9,433 L935.6,433 L936.4,433 L937.2,433 L938,433 L938.8,433 L939.5,433 L940.3,433 L941.1,433 L941.9,433 L942.7,433 L943.4,433 L944.2,433 L945,433 L945.8,433 L946.6,433 L947.4,433 L948.1,433 L948.9,433 L949.7,433 L950.5,433 L951.3,433 L952,433 L952.8,433 L953.6,433 L954.4,433 L955.2,433 L955.9,433 L956.7,433 L957.5,433 L958.3,433 L959.1,433 L959.9,433 L960.6,433 L961.4,433 L962.2,433 L963,433 L963.8,433 L964.5,433 L965.3,433 L966.1,433 L966.9,433 L967.7,433 L968.5,433 L969.2,433 L970,433 L970.8,433 L971.6,433 L972.4,433 L973.1,433 L973.9,433 L974.7,433 L975.5,433 L976.3,433 L977,433 L977.8,433 L978.6,433 L979.4,433 L980.2,433 L981,433 L981.7,433 L982.5,433 L983.3,433 L984.1,433 L984.9,433 L985.6,433 L986.4,433 L987.2,433 L988,433 L988.8,433 L989.5,433 L990.3,433 L991.1,433 L991.9,433 L992.7,433 L993.5,433 L994.2,433 L995,433 L995.8,433 L996.6,433 L997.4,433 L998.1,433 L998.9,433 L999.7,433 L1000.5,433 L1001.3,433 L1002,433 L1002.8,433 L1003.6,433 L1004.4,433 L1005.2,433 L1006,433 L1006.7,433 L1007.5,433 L1008.3,433 L1009.1,433 L1009.9,433 L1010.6,433 L1011.4,433 L1012.2,433 L1013,433 L1013.8,433 L1014.5,433 L1015.3,433 L1016.1,433 L1016.9,433 L1017.7,433 L1018.5,433 L1019.2,433 L1020,433 L1020.8,433 L1021.6,433 L1022.4,433 L1023.1,433 L1023.9,433 L1024.7,433 L1025.5,433 L1026.3,433 L1027.1,433 L1027.8,433 L1028.6,433 L1029.4,433 L1030.2,433 L1031,433 L1031.7,433 L1032.5,433 L1033.3,433 L1034.1,433 L1034.9,433 L1035.6,433 L1036.4,433 L1037.2,433 L1038,433 L1038.8,433 L1039.6,433 L1040.3,433 L1041.1,433 L1041.9,433 L1042.7,433 L1043.5,433 L1044.2,433 L1045,433 L1045.8,433 L1046.6,433 L1047.4,433 L1048.1,433 L1048.9,433 L1049.7,433 L1050.5,433 L1051.3,433 L1052.1,433 L1052.8,433 L1053.6,433 L1054.4,433 L1055.2,433 L1056,433 L1056.7,433 L1057.5,433 L1058.3,433 L1059.1,433 L1059.9,433 L1060.6,433 L1061.4,433 L1062.2,433 L1063,433 L1063.8,433 L1064.6,433 L1065.3,433 L1066.1,433 L1066.9,433 L1067.7,433 L1068.5,433 L1069.2,433 L1070,433 L1070.8,433 L1071.6,433 L1072.4,433 L1073.1,433 L1073.9,433 L1074.7,433 L1075.5,433 L1076.3,433 L1077.1,433 L1077.8,433 L1078.6,433 L1079.4,433 L1080.2,433 L1081,433 L1081.7,433 L1082.5,433 L1083.3,433 L1084.1,433 L1084.9,433 L1085.7,433 L1086.4,433 L1087.2,433 L1088,433 L1088.8,433 L1089.6,433 L1090.3,433 L1091.1,433 L1091.9,433 L1092.7,433 L1093.5,433 L1094.2,433 L1095,433 L1095.8,433 L1096.6,433 L1097.4,433 L1098.2,433 L1098.9,433 L1099.7,433 L1100.5,433 L1101.3,433 L1102.1,433 L1102.8,433 L1103.6,433 L1104.4,433 L1105.2,433 L1106,433 L1106.7,433 L1107.5,433 L1108.3,433 L1109.1,433 L1109.9,433 L1110.7,433 L1111.4,433 L1112.2,433 L1113,433 L1113.8,433 L1114.6,433 L1115.3,433 L1116.1,433 L1116.9,433 L1117.7,433 L1118.5,433 L1119.2,433 L1120,433 L1120.8,433 L1121.6,433 L1122.4,433 L1123.2,433 L1123.9,433 L1124.7,433 L1125.5,433 L1126.3,433 L1127.1,433 L1127.8,433 L1128.6,433 L1129.4,433 L1130.2,433 L1131,433 L1131.7,433 L1132.5,433 L1133.3,433 L1134.1,433 L1134.9,433 L1135.7,433 L1136.4,433 L1137.2,433 L1138,433 L1138,433 L1137.2,433 L1136.4,433 L1135.7,433 L1134.9,433 L1134.1,433 L1133.3,433 L1132.5,433 L1131.7,433 L1131,433 L1130.2,433 L1129.4,433 L1128.6,433 L1127.8,433 L1127.1,433 L1126.3,433 L1125.5,433 L1124.7,433 L1123.9,433 L1123.2,433 L1122.4,433 L1121.6,433 L1120.8,433 L1120,433 L1119.2,433 L1118.5,433 L1117.7,433 L1116.9,433 L1116.1,433 L1115.3,433 L1114.6,433 L1113.8,433 L1113,433 L1112.2,433 L1111.4,433 L1110.7,433 L1109.9,433 L1109.1,433 L1108.3,433 L1107.5,433 L1106.7,433 L1106,433 L1105.2,433 L1104.4,433 L1103.6,433 L1102.8,433 L1102.1,433 L1101.3,433 L1100.5,433 L1099.7,433 L1098.9,433 L1098.2,433 L1097.4,433 L1096.6,433 L1095.8,433 L1095,433 L1094.2,433 L1093.5,433 L1092.7,433 L1091.9,433 L1091.1,433 L1090.3,433 L1089.6,433 L1088.8,433 L1088,433 L1087.2,433 L1086.4,433 L1085.7,433 L1084.9,433 L1084.1,433 L1083.3,433 L1082.5,433 L1081.7,433 L1081,433 L1080.2,433 L1079.4,433 L1078.6,433 L1077.8,433 L1077.1,433 L1076.3,433 L1075.5,433 L1074.7,433 L1073.9,433 L1073.1,433 L1072.4,433 L1071.6,433 L1070.8,433 L1070,433 L1069.2,433 L1068.5,433 L1067.7,433 L1066.9,433 L1066.1,433 L1065.3,433 L1064.6,433 L1063.8,433 L1063,433 L1062.2,433 L1061.4,433 L1060.6,433 L1059.9,433 L1059.1,433 L1058.3,433 L1057.5,433 L1056.7,433 L1056,433 L1055.2,433 L1054.4,433 L1053.6,433 L1052.8,433 L1052.1,433 L1051.3,433 L1050.5,433 L1049.7,433 L1048.9,433 L1048.1,433 L1047.4,433 L1046.6,433 L1045.8,433 L1045,433 L1044.2,433 L1043.5,433 L1042.7,433 L1041.9,433 L1041.1,433 L1040.3,433 L1039.6,433 L1038.8,433 L1038,433 L1037.2,433 L1036.4,433.1 L1035.6,433.1 L1034.9,433.1 L1034.1,433.1 L1033.3,433.1 L1032.5,433.1 L1031.7,433.1 L1031,433.1 L1030.2,433.1 L1029.4,433.1 L1028.6,433.1 L1027.8,433.1 L1027.1,433.1 L1026.3,433.1 L1025.5,433.1 L1024.7,433.1 L1023.9,433.1 L1023.1,433.1 L1022.4,433.1 L1021.6,433.1 L1020.8,433.1 L1020,433.1 L1019.2,433.1 L1018.5,433.1 L1017.7,433.1 L1016.9,433.1 L1016.1,433.1 L1015.3,433.1 L1014.5,433.1 L1013.8,433.1 L1013,433.1 L1012.2,433.1 L1011.4,433.1 L1010.6,433.1 L1009.9,433.1 L1009.1,433.1 L1008.3,433.1 L1007.5,433.1 L1006.7,433.1 L1006,433.1 L1005.2,433.1 L1004.4,433.1 L1003.6,433.1 L1002.8,433.1 L1002,433.1 L1001.3,433.1 L1000.5,433.1 L999.7,433.1 L998.9,433.1 L998.1,433.1 L997.4,433.1 L996.6,433.1 L995.8,433.1 L995,433.1 L994.2,433.1 L993.5,433.1 L992.7,433.1 L991.9,433.1 L991.1,433.1 L990.3,433.1 L989.5,433.1 L988.8,433.1 L988,433.1 L987.2,433.1 L986.4,433.1 L985.6,433.1 L984.9,433.1 L984.1,433.1 L983.3,433.1 L982.5,433.1 L981.7,433.1 L981,433.1 L980.2,433.1 L979.4,433.1 L978.6,433.1 L977.8,433.1 L977,433.1 L976.3,433.1 L975.5,433.1 L974.7,433.1 L973.9,433.1 L973.1,433.1 L972.4,433.1 L971.6,433.2 L970.8,433.2 L970,433.2 L969.2,433.2 L968.5,433.2 L967.7,433.2 L966.9,433.2 L966.1,433.2 L965.3,433.2 L964.5,433.2 L963.8,433.2 L963,433.2 L962.2,433.2 L961.4,433.2 L960.6,433.2 L959.9,433.2 L959.1,433.2 L958.3,433.2 L957.5,433.2 L956.7,433.2 L955.9,433.2 L955.2,433.2 L954.4,433.2 L953.6,433.2 L952.8,433.2 L952,433.2 L951.3,433.2 L950.5,433.2 L949.7,433.2 L948.9,433.2 L948.1,433.2 L947.4,433.2 L946.6,433.2 L945.8,433.2 L945,433.2 L944.2,433.2 L943.4,433.2 L942.7,433.2 L941.9,433.2 L941.1,433.3 L940.3,433.3 L939.5,433.3 L938.8,433.3 L938,433.3 L937.2,433.3 L936.4,433.3 L935.6,433.3 L934.9,433.3 L934.1,433.3 L933.3,433.3 L932.5,433.3 L931.7,433.3 L930.9,433.3 L930.2,433.3 L929.4,433.3 L928.6,433.3 L927.8,433.3 L927,433.3 L926.3,433.3 L925.5,433.3 L924.7,433.3 L923.9,433.3 L923.1,433.3 L922.4,433.3 L921.6,433.4 L920.8,433.4 L920,433.4 L919.2,433.4 L918.4,433.4 L917.7,433.4 L916.9,433.4 L916.1,433.4 L915.3,433.4 L914.5,433.4 L913.8,433.4 L913,433.4 L912.2,433.4 L911.4,433.4 L910.6,433.4 L909.9,433.4 L909.1,433.4 L908.3,433.4 L907.5,433.4 L906.7,433.5 L905.9,433.5 L905.2,433.5 L904.4,433.5 L903.6,433.5 L902.8,433.5 L902,433.5 L901.3,433.5 L900.5,433.5 L899.7,433.5 L898.9,433.5 L898.1,433.5 L897.3,433.5 L896.6,433.5 L895.8,433.5 L895,433.6 L894.2,433.6 L893.4,433.6 L892.7,433.6 L891.9,433.6 L891.1,433.6 L890.3,433.6 L889.5,433.6 L888.8,433.6 L888,433.6 L887.2,433.6 L886.4,433.6 L885.6,433.6 L884.8,433.7 L884.1,433.7 L883.3,433.7 L882.5,433.7 L881.7,433.7 L880.9,433.7 L880.2,433.7 L879.4,433.7 L878.6,433.7 L877.8,433.7 L877,433.8 L876.3,433.8 L875.5,433.8 L874.7,433.8 L873.9,433.8 L873.1,433.8 L872.3,433.8 L871.6,433.8 L870.8,433.8 L870,433.8 L869.2,433.9 L868.4,433.9 L867.7,433.9 L866.9,433.9 L866.1,433.9 L865.3,433.9 L864.5,433.9 L863.8,433.9 L863,434 L862.2,434 L861.4,434 L860.6,434 L859.8,434 L859.1,434 L858.3,434 L857.5,434 L856.7,434.1 L855.9,434.1 L855.2,434.1 L854.4,434.1 L853.6,434.1 L852.8,434.1 L852,434.1 L851.3,434.2 L850.5,434.2 L849.7,434.2 L848.9,434.2 L848.1,434.2 L847.3,434.2 L846.6,434.3 L845.8,434.3 L845,434.3 L844.2,434.3 L843.4,434.3 L842.7,434.3 L841.9,434.4 L841.1,434.4 L840.3,434.4 L839.5,434.4 L838.7,434.4 L838,434.5 L837.2,434.5 L836.4,434.5 L835.6,434.5 L834.8,434.5 L834.1,434.6 L833.3,434.6 L832.5,434.6 L831.7,434.6 L830.9,434.6 L830.2,434.7 L829.4,434.7 L828.6,434.7 L827.8,434.7 L827,434.8 L826.2,434.8 L825.5,434.8 L824.7,434.8 L823.9,434.8 L823.1,434.9 L822.3,434.9 L821.6,434.9 L820.8,434.9 L820,435 L819.2,435 L818.4,435 L817.7,435.1 L816.9,435.1 L816.1,435.1 L815.3,435.1 L814.5,435.2 L813.7,435.2 L813,435.2 L812.2,435.3 L811.4,435.3 L810.6,435.3 L809.8,435.3 L809.1,435.4 L808.3,435.4 L807.5,435.4 L806.7,435.5 L805.9,435.5 L805.2,435.5 L804.4,435.6 L803.6,435.6 L802.8,435.6 L802,435.7 L801.2,435.7 L800.5,435.7 L799.7,435.8 L798.9,435.8 L798.1,435.9 L797.3,435.9 L796.6,435.9 L795.8,436 L795,436 L794.2,436.1 L793.4,436.1 L792.7,436.1 L791.9,436.2 L791.1,436.2 L790.3,436.3 L789.5,436.3 L788.7,436.4 L788,436.4 L787.2,436.4 L786.4,436.5 L785.6,436.5 L784.8,436.6 L784.1,436.6 L783.3,436.7 L782.5,436.7 L781.7,436.8 L780.9,436.8 L780.1,436.9 L779.4,436.9 L778.6,437 L777.8,437 L777,437.1 L776.2,437.1 L775.5,437.2 L774.7,437.3 L773.9,437.3 L773.1,437.4 L772.3,437.4 L771.6,437.5 L770.8,437.5 L770,437.6 L769.2,437.7 L768.4,437.7 L767.6,437.8 L766.9,437.9 L766.1,437.9 L765.3,438 L764.5,438.1 L763.7,438.1 L763,438.2 L762.2,438.3 L761.4,438.3 L760.6,438.4 L759.8,438.5 L759.1,438.5 L758.3,438.6 L757.5,438.7 L756.7,438.8 L755.9,438.8 L755.1,438.9 L754.4,439 L753.6,439.1 L752.8,439.2 L752,439.2 L751.2,439.3 L750.5,439.4 L749.7,439.5 L748.9,439.6 L748.1,439.7 L747.3,439.8 L746.6,439.8 L745.8,439.9 L745,440 L744.2,440.1 L743.4,440.2 L742.6,440.3 L741.9,440.4 L741.1,440.5 L740.3,440.6 L739.5,440.7 L738.7,440.8 L738,440.9 L737.2,441 L736.4,441.1 L735.6,441.2 L734.8,441.4 L734.1,441.5 L733.3,441.6 L732.5,441.7 L731.7,441.8 L730.9,441.9 L730.1,442 L729.4,442.2 L728.6,442.3 L727.8,442.4 L727,442.5 L726.2,442.7 L725.5,442.8 L724.7,442.9 L723.9,443.1 L723.1,443.2 L722.3,443.3 L721.5,443.5 L720.8,443.6 L720,443.7 L719.2,443.9 L718.4,444 L717.6,444.2 L716.9,444.3 L716.1,444.5 L715.3,444.6 L714.5,444.8 L713.7,444.9 L713,445.1 L712.2,445.3 L711.4,445.4 L710.6,445.6 L709.8,445.8 L709,445.9 L708.3,446.1 L707.5,446.3 L706.7,446.5 L705.9,446.6 L705.1,446.8 L704.4,447 L703.6,447.2 L702.8,447.4 L702,447.6 L701.2,447.8 L700.5,448 L699.7,448.2 L698.9,448.4 L698.1,448.6 L697.3,448.8 L696.5,449 L695.8,449.2 L695,449.4 L694.2,449.6 L693.4,449.9 L692.6,450.1 L691.9,450.3 L691.1,450.5 L690.3,450.8 L689.5,451 L688.7,451.3 L688,451.5 L687.2,451.7 L686.4,452 L685.6,452.2 L684.8,452.5 L684,452.8 L683.3,453 L682.5,453.3 L681.7,453.6 L680.9,453.8 L680.1,454.1 L679.4,454.4 L678.6,454.7 L677.8,455 L677,455.3 L676.2,455.6 L675.5,455.9 L674.7,456.2 L673.9,456.5 L673.1,456.8 L672.3,457.1 L671.5,457.4 L670.8,457.8 L670,458.1 L669.2,458.4 L668.4,458.8 L667.6,459.1 L666.9,459.4 L666.1,459.8 L665.3,460.2 L664.5,460.5 L663.7,460.9 L662.9,461.3 L662.2,461.6 L661.4,462 L660.6,462.4 L659.8,462.8 L659,463.2 L658.3,463.6 L657.5,464 L656.7,464.4 L655.9,464.8 L655.1,465.3 L654.4,465.7 L653.6,466.1 L652.8,466.6 L652,467 L651.2,467.5 L650.4,467.9 L649.7,468.4 L648.9,468.9 L648.1,469.3 L647.3,469.8 L646.5,470.3 L645.8,470.8 L645,471.3 L644.2,471.8 L643.4,472.4 L642.6,472.9 L641.9,473.4 L641.1,473.9 L640.3,474.5 L639.5,475 L638.7,475.6 L637.9,476.2 L637.2,476.8 L636.4,477.3 L635.6,477.9 L634.8,478.5 L634,479.1 L633.3,479.7 L632.5,480.4 L631.7,481 L630.9,481.6 L630.1,482.3 L629.4,482.9 L628.6,483.6 L627.8,484.3 L627,485 L626.2,485.7 L625.4,486.4 L624.7,487.1 L623.9,487.8 L623.1,488.5 L622.3,489.3 L621.5,490 L620.8,490.8 L620,491.6 L619.2,492.3 L618.4,493.1 L617.6,493.9 L616.9,494.7 L616.1,495.6 L615.3,496.4 L614.5,497.2 L613.7,498.1 L612.9,499 L612.2,499.8 L611.4,500.7 L610.6,501.6 L609.8,502.6 L609,503.5 L608.3,504.4 L607.5,505.4 L606.7,506.3 L605.9,507.3 L605.1,508.3 L604.3,509.3 L603.6,510.3 L602.8,511.4 L602,512.4 L601.2,513.5 L600.4,514.5 L599.7,515.6 L598.9,516.7 L598.1,517.8 L597.3,518.9 L596.5,519.9 L595.8,520.7 L595,521.4 L594.2,522 L593.4,522.4 L592.6,522.7 L591.8,522.9 L591.1,523 Z" fill="#b5e61d"/>
<path d="M591.1,523 L591.8,522.9 L592.6,522.7 L593.4,522.4 L594.2,522 L595,521.4 L595.8,520.7 L596.5,519.9 L597.3,518.9 L598.1,517.8 L598.9,516.7 L599.7,515.6 L600.4,514.5 L601.2,513.5 L602,512.4 L602.8,511.4 L603.6,510.3 L604.3,509.3 L605.1,508.3 L605.9,507.3 L606.7,506.3 L607.5,505.4 L608.3,504.4 L609,503.5 L609.8,502.6 L610.6,501.6 L611.4,500.7 L612.2,499.8 L612.9,499 L613.7,498.1 L614.5,497.2 L615.3,496.4 L616.1,495.6 L616.9,494.7 L617.6,493.9 L618.4,493.1 L619.2,492.3 L620,491.6 L620.8,490.8 L621.5,490 L622.3,489.3 L623.1,488.5 L623.9,487.8 L624.7,487.1 L625.4,486.4 L626.2,485.7 L627,485 L627.8,484.3 L628.6,483.6 L629.4,482.9 L630.1,482.3 L630.9,481.6 L631.7,481 L632.5,480.4 L633.3,479.7 L634,479.1 L634.8,478.5 L635.6,477.9 L636.4,477.3 L637.2,476.8 L637.9,476.2 L638.7,475.6 L639.5,475 L640.3,474.5 L641.1,473.9 L641.9,473.4 L642.6,472.9 L643.4,472.4 L644.2,471.8 L645,471.3 L645.8,470.8 L646.5,470.3 L647.3,469.8 L648.1,469.3 L648.9,468.9 L649.7,468.4 L650.4,467.9 L651.2,467.5 L652,467 L652.8,466.6 L653.6,466.1 L654.4,465.7 L655.1,465.3 L655.9,464.8 L656.7,464.4 L657.5,464 L658.3,463.6 L659,463.2 L659.8,462.8 L660.6,462.4 L661.4,462 L662.2,461.6 L662.9,461.3 L663.7,460.9 L664.5,460.5 L665.3,460.2 L666.1,459.8 L666.9,459.4 L667.6,459.1 L668.4,458.8 L669.2,458.4 L670,458.1 L670.8,457.8 L671.5,457.4 L672.3,457.1 L673.1,456.8 L673.9,456.5 L674.7,456.2 L675.5,455.9 L676.2,455.6 L677,455.3 L677.8,455 L678.6,454.7 L679.4,454.4 L680.1,454.1 L680.9,453.8 L681.7,453.6 L682.5,453.3 L683.3,453 L684,452.8 L684.8,452.5 L685.6,452.2 L686.4,452 L687.2,451.7 L688,451.5 L688.7,451.3 L689.5,451 L690.3,450.8 L691.1,450.5 L691.9,450.3 L692.6,450.1 L693.4,449.9 L694.2,449.6 L695,449.4 L695.8,449.2 L696.5,449 L697.3,448.8 L698.1,448.6 L698.9,448.4 L699.7,448.2 L700.5,448 L701.2,447.8 L702,447.6 L702.8,447.4 L703.6,447.2 L704.4,447 L705.1,446.8 L705.9,446.6 L706.7,446.5 L707.5,446.3 L708.3,446.1 L709,445.9 L709.8,445.8 L710.6,445.6 L711.4,445.4 L712.2,445.3 L713,445.1 L713.7,444.9 L714.5,444.8 L715.3,444.6 L716.1,444.5 L716.9,444.3 L717.6,444.2 L718.4,444 L719.2,443.9 L720,443.7 L720.8,443.6 L721.5,443.5 L722.3,443.3 L723.1,443.2 L723.9,443.1 L724.7,442.9 L725.5,442.8 L726.2,442.7 L727,442.5 L727.8,442.4 L728.6,442.3 L729.4,442.2 L730.1,442 L730.9,441.9 L731.7,441.8 L732.5,441.7 L733.3,441.6 L734.1,441.5 L734.8,441.4 L735.6,441.2 L736.4,441.1 L737.2,441 L738,440.9 L738.7,440.8 L739.5,440.7 L740.3,440.6 L741.1,440.5 L741.9,440.4 L742.6,440.3 L743.4,440.2 L744.2,440.1 L745,440 L745.8,439.9 L746.6,439.8 L747.3,439.8 L748.1,439.7 L748.9,439.6 L749.7,439.5 L750.5,439.4 L751.2,439.3 L752,439.2 L752.8,439.2 L753.6,439.1 L754.4,439 L755.1,438.9 L755.9,438.8 L756.7,438.8 L757.5,438.7 L758.3,438.6 L759.1,438.5 L759.8,438.5 L760.6,438.4 L761.4,438.3 L762.2,438.3 L763,438.2 L763.7,438.1 L764.5,438.1 L765.3,438 L766.1,437.9 L766.9,437.9 L767.6,437.8 L768.4,437.7 L769.2,437.7 L770,437.6 L770.8,437.5 L771.6,437.5 L772.3,437.4 L773.1,437.4 L773.9,437.3 L774.7,437.3 L775.5,437.2 L776.2,437.1 L777,437.1 L777.8,437 L778.6,437 L779.4,436.9 L780.1,436.9 L780.9,436.8 L781.7,436.8 L782.5,436.7 L783.3,436.7 L784.1,436.6 L784.8,436.6 L785.6,436.5 L786.4,436.5 L787.2,436.4 L788,436.4 L788.7,436.4 L789.5,436.3 L790.3,436.3 L791.1,436.2 L791.9,436.2 L792.7,436.1 L793.4,436.1 L794.2,436.1 L795,436 L795.8,436 L796.6,435.9 L797.3,435.9 L798.1,435.9 L798.9,435.8 L799.7,435.8 L800.5,435.7 L801.2,435.7 L802,435.7 L802.8,435.6 L803.6,435.6 L804.4,435.6 L805.2,435.5 L805.9,435.5 L806.7,435.5 L807.5,435.4 L808.3,435.4 L809.1,435.4 L809.8,435.3 L810.6,435.3 L811.4,435.3 L812.2,435.3 L813,435.2 L813.7,435.2 L814.5,435.2 L815.3,435.1 L816.1,435.1 L816.9,435.1 L817.7,435.1 L818.4,435 L819.2,435 L820,435 L820.8,434.9 L821.6,434.9 L822.3,434.9 L823.1,434.9 L823.9,434.8 L824.7,434.8 L825.5,434.8 L826.2,434.8 L827,434.8 L827.8,434.7 L828.6,434.7 L829.4,434.7 L830.2,434.7 L830.9,434.6 L831.7,434.6 L832.5,434.6 L833.3,434.6 L834.1,434.6 L834.8,434.5 L835.6,434.5 L836.4,434.5 L837.2,434.5 L838,434.5 L838.7,434.4 L839.5,434.4 L840.3,434.4 L841.1,434.4 L841.9,434.4 L842.7,434.3 L843.4,434.3 L844.2,434.3 L845,434.3 L845.8,434.3 L846.6,434.3 L847.3,434.2 L848.1,434.2 L848.9,434.2 L849.7,434.2 L850.5,434.2 L851.3,434.2 L852,434.1 L852.8,434.1 L853.6,434.1 L854.4,434.1 L855.2,434.1 L855.9,434.1 L856.7,434.1 L857.5,434 L858.3,434 L859.1,434 L859.8,434 L860.6,434 L861.4,434 L862.2,434 L863,434 L863.8,433.9 L864.5,433.9 L865.3,433.9 L866.1,433.9 L866.9,433.9 L867.7,433.9 L868.4,433.9 L869.2,433.9 L870,433.8 L870.8,433.8 L871.6,433.8 L872.3,433.8 L873.1,433.8 L873.9,433.8 L874.7,433.8 L875.5,433.8 L876.3,433.8 L877,433.8 L877.8,433.7 L878.6,433.7 L879.4,433.7 L880.2,433.7 L880.9,433.7 L881.7,433.7 L882.5,433.7 L883.3,433.7 L884.1,433.7 L884.8,433.7 L885.6,433.6 L886.4,433.6 L887.2,433.6 L888,433.6 L888.8,433.6 L889.5,433.6 L890.3,433.6 L891.1,433.6 L891.9,433.6 L892.7,433.6 L893.4,433.6 L894.2,433.6 L895,433.6 L895.8,433.5 L896.6,433.5 L897.3,433.5 L898.1,433.5 L898.9,433.5 L899.7,433.5 L900.5,433.5 L901.3,433.5 L902,433.5 L902.8,433.5 L903.6,433.5 L904.4,433.5 L905.2,433.5 L905.9,433.5 L906.7,433.5 L907.5,433.4 L908.3,433.4 L909.1,433.4 L909.9,433.4 L910.6,433.4 L911.4,433.4 L912.2,433.4 L913,433.4 L913.8,433.4 L914.5,433.4 L915.3,433.4 L916.1,433.4 L916.9,433.4 L917.7,433.4 L918.4,433.4 L919.2,433.4 L920,433.4 L920.8,433.4 L921.6,433.4 L922.4,433.3 L923.1,433.3 L923.9,433.3 L924.7,433.3 L925.5,433.3 L926.3,433.3 L927,433.3 L927.8,433.3 L928.6,433.3 L929.4,433.3 L930.2,433.3 L930.9,433.3 L931.7,433.3 L932.5,433.3 L933.3,433.3 L934.1,433.3 L934.9,433.3 L935.6,433.3 L936.4,433.3 L937.2,433.3 L938,433.3 L938.8,433.3 L939.5,433.3 L940.3,433.3 L941.1,433.3 L941.9,433.2 L942.7,433.2 L943.4,433.2 L944.2,433.2 L945,433.2 L945.8,433.2 L946.6,433.2 L947.4,433.2 L948.1,433.2 L948.9,433.2 L949.7,433.2 L950.5,433.2 L951.3,433.2 L952,433.2 L952.8,433.2 L953.6,433.2 L954.4,433.2 L955.2,433.2 L955.9,433.2 L956.7,433.2 L957.5,433.2 L958.3,433.2 L959.1,433.2 L959.9,433.2 L960.6,433.2 L961.4,433.2 L962.2,433.2 L963,433.2 L963.8,433.2 L964.5,433.2 L965.3,433.2 L966.1,433.2 L966.9,433.2 L967.7,433.2 L968.5,433.2 L969.2,433.2 L970,433.2 L970.8,433.2 L971.6,433.2 L972.4,433.1 L973.1,433.1 L973.9,433.1 L974.7,433.1 L975.5,433.1 L976.3,433.1 L977,433.1 L977.8,433.1 L978.6,433.1 L979.4,433.1 L980.2,433.1 L981,433.1 L981.7,433.1 L982.5,433.1 L983.3,433.1 L984.1,433.1 L984.9,433.1 L985.6,433.1 L986.4,433.1 L987.2,433.1 L988,433.1 L988.8,433.1 L989.5,433.1 L990.3,433.1 L991.1,433.1 L991.9,433.1 L992.7,433.1 L993.5,433.1 L994.2,433.1 L995,433.1 L995.8,433.1 L996.6,433.1 L997.4,433.1 L998.1,433.1 L998.9,433.1 L999.7,433.1 L1000.5,433.1 L1001.3,433.1 L1002,433.1 L1002.8,433.1 L1003.6,433.1 L1004.4,433.1 L1005.2,433.1 L1006,433.1 L1006.7,433.1 L1007.5,433.1 L1008.3,433.1 L1009.1,433.1 L1009.9,433.1 L1010.6,433.1 L1011.4,433.1 L1012.2,433.1 L1013,433.1 L1013.8,433.1 L1014.5,433.1 L1015.3,433.1 L1016.1,433.1 L1016.9,433.1 L1017.7,433.1 L1018.5,433.1 L1019.2,433.1 L1020,433.1 L1020.8,433.1 L1021.6,433.1 L1022.4,433.1 L1023.1,433.1 L1023.9,433.1 L1024.7,433.1 L1025.5,433.1 L1026.3,433.1 L1027.1,433.1 L1027.8,433.1 L1028.6,433.1 L1029.4,433.1 L1030.2,433.1 L1031,433.1 L1031.7,433.1 L1032.5,433.1 L1033.3,433.1 L1034.1,433.1 L1034.9,433.1 L1035.6,433.1 L1036.4,433.1 L1037.2,433 L1038,433 L1038.8,433 L1039.6,433 L1040.3,433 L1041.1,433 L1041.9,433 L1042.7,433 L1043.5,433 L1044.2,433 L1045,433 L1045.8,433 L1046.6,433 L1047.4,433 L1048.1,433 L1048.9,433 L1049.7,433 L1050.5,433 L1051.3,433 L1052.1,433 L1052.8,433 L1053.6,433 L1054.4,433 L1055.2,433 L1056,433 L1056.7,433 L1057.5,433 L1058.3,433 L1059.1,433 L1059.9,433 L1060.6,433 L1061.4,433 L1062.2,433 L1063,433 L1063.8,433 L1064.6,433 L1065.3,433 L1066.1,433 L1066.9,433 L1067.7,433 L1068.5,433 L1069.2,433 L1070,433 L1070.8,433 L1071.6,433 L1072.4,433 L1073.1,433 L1073.9,433 L1074.7,433 L1075.5,433 L1076.3,433 L1077.1,433 L1077.8,433 L1078.6,433 L1079.4,433 L1080.2,433 L1081,433 L1081.7,433 L1082.5,433 L1083.3,433 L1084.1,433 L1084.9,433 L1085.7,433 L1086.4,433 L1087.2,433 L1088,433 L1088.8,433 L1089.6,433 L1090.3,433 L1091.1,433 L1091.9,433 L1092.7,433 L1093.5,433 L1094.2,433 L1095,433 L1095.8,433 L1096.6,433 L1097.4,433 L1098.2,433 L1098.9,433 L1099.7,433 L1100.5,433 L1101.3,433 L1102.1,433 L1102.8,433 L1103.6,433 L1104.4,433 L1105.2,433 L1106,433 L1106.7,433 L1107.5,433 L1108.3,433 L1109.1,433 L1109.9,433 L1110.7,433 L1111.4,433 L1112.2,433 L1113,433 L1113.8,433 L1114.6,433 L1115.3,433 L1116.1,433 L1116.9,433 L1117.7,433 L1118.5,433 L1119.2,433 L1120,433 L1120.8,433 L1121.6,433 L1122.4,433 L1123.2,433 L1123.9,433 L1124.7,433 L1125.5,433 L1126.3,433 L1127.1,433 L1127.8,433 L1128.6,433 L1129.4,433 L1130.2,433 L1131,433 L1131.7,433 L1132.5,433 L1133.3,433 L1134.1,433 L1134.9,433 L1135.7,433 L1136.4,433 L1137.2,433 L1138,433 L1138,433.9 L1137.2,433.9 L1136.4,433.9 L1135.7,433.9 L1134.9,434 L1134.1,434 L1133.3,434 L1132.5,434 L1131.7,434 L1131,434 L1130.2,434 L1129.4,434 L1128.6,434 L1127.8,434 L1127.1,434 L1126.3,434 L1125.5,434 L1124.7,434 L1123.9,434 L1123.2,434.1 L1122.4,434.1 L1121.6,434.1 L1120.8,434.1 L1120,434.1 L1119.2,434.1 L1118.5,434.1 L1117.7,434.1 L1116.9,434.1 L1116.1,434.1 L1115.3,434.1 L1114.6,434.1 L1113.8,434.1 L1113,434.1 L1112.2,434.2 L1111.4,434.2 L1110.7,434.2 L1109.9,434.2 L1109.1,434.2 L1108.3,434.2 L1107.5,434.2 L1106.7,434.2 L1106,434.2 L1105.2,434.2 L1104.4,434.2 L1103.6,434.2 L1102.8,434.2 L1102.1,434.3 L1101.3,434.3 L1100.5,434.3 L1099.7,434.3 L1098.9,434.3 L1098.2,434.3 L1097.4,434.3 L1096.6,434.3 L1095.8,434.3 L1095,434.3 L1094.2,434.3 L1093.5,434.3 L1092.7,434.4 L1091.9,434.4 L1091.1,434.4 L1090.3,434.4 L1089.6,434.4 L1088.8,434.4 L1088,434.4 L1087.2,434.4 L1086.4,434.4 L1085.7,434.4 L1084.9,434.5 L1084.1,434.5 L1083.3,434.5 L1082.5,434.5 L1081.7,434.5 L1081,434.5 L1080.2,434.5 L1079.4,434.5 L1078.6,434.5 L1077.8,434.5 L1077.1,434.5 L1076.3,434.6 L1075.5,434.6 L1074.7,434.6 L1073.9,434.6 L1073.1,434.6 L1072.4,434.6 L1071.6,434.6 L1070.8,434.6 L1070,434.6 L1069.2,434.7 L1068.5,434.7 L1067.7,434.7 L1066.9,434.7 L1066.1,434.7 L1065.3,434.7 L1064.6,434.7 L1063.8,434.7 L1063,434.7 L1062.2,434.8 L1061.4,434.8 L1060.6,434.8 L1059.9,434.8 L1059.1,434.8 L1058.3,434.8 L1057.5,434.8 L1056.7,434.8 L1056,434.8 L1055.2,434.9 L1054.4,434.9 L1053.6,434.9 L1052.8,434.9 L1052.1,434.9 L1051.3,434.9 L1050.5,434.9 L1049.7,434.9 L1048.9,435 L1048.1,435 L1047.4,435 L1046.6,435 L1045.8,435 L1045,435 L1044.2,435 L1043.5,435.1 L1042.7,435.1 L1041.9,435.1 L1041.1,435.1 L1040.3,435.1 L1039.6,435.1 L1038.8,435.1 L1038,435.2 L1037.2,435.2 L1036.4,435.2 L1035.6,435.2 L1034.9,435.2 L1034.1,435.2 L1033.3,435.2 L1032.5,435.3 L1031.7,435.3 L1031,435.3 L1030.2,435.3 L1029.4,435.3 L1028.6,435.3 L1027.8,435.3 L1027.1,435.4 L1026.3,435.4 L1025.5,435.4 L1024.7,435.4 L1023.9,435.4 L1023.1,435.4 L1022.4,435.5 L1021.6,435.5 L1020.8,435.5 L1020,435.5 L1019.2,435.5 L1018.5,435.5 L1017.7,435.6 L1016.9,435.6 L1016.1,435.6 L1015.3,435.6 L1014.5,435.6 L1013.8,435.6 L1013,435.7 L1012.2,435.7 L1011.4,435.7 L1010.6,435.7 L1009.9,435.7 L1009.1,435.7 L1008.3,435.8 L1007.5,435.8 L1006.7,435.8 L1006,435.8 L1005.2,435.8 L1004.4,435.9 L1003.6,435.9 L1002.8,435.9 L1002,435.9 L1001.3,435.9 L1000.5,436 L999.7,436 L998.9,436 L998.1,436 L997.4,436 L996.6,436 L995.8,436.1 L995,436.1 L994.2,436.1 L993.5,436.1 L992.7,436.2 L991.9,436.2 L991.1,436.2 L990.3,436.2 L989.5,436.2 L988.8,436.3 L988,436.3 L987.2,436.3 L986.4,436.3 L985.6,436.3 L984.9,436.4 L984.1,436.4 L983.3,436.4 L982.5,436.4 L981.7,436.5 L981,436.5 L980.2,436.5 L979.4,436.5 L978.6,436.5 L977.8,436.6 L977,436.6 L976.3,436.6 L975.5,436.6 L974.7,436.7 L973.9,436.7 L973.1,436.7 L972.4,436.7 L971.6,436.8 L970.8,436.8 L970,436.8 L969.2,436.8 L968.5,436.9 L967.7,436.9 L966.9,436.9 L966.1,436.9 L965.3,437 L964.5,437 L963.8,437 L963,437 L962.2,437.1 L961.4,437.1 L960.6,437.1 L959.9,437.2 L959.1,437.2 L958.3,437.2 L957.5,437.2 L956.7,437.3 L955.9,437.3 L955.2,437.3 L954.4,437.4 L953.6,437.4 L952.8,437.4 L952,437.4 L951.3,437.5 L950.5,437.5 L949.7,437.5 L948.9,437.6 L948.1,437.6 L947.4,437.6 L946.6,437.6 L945.8,437.7 L945,437.7 L944.2,437.7 L943.4,437.8 L942.7,437.8 L941.9,437.8 L941.1,437.9 L940.3,437.9 L939.5,437.9 L938.8,438 L938,438 L937.2,438 L936.4,438.1 L935.6,438.1 L934.9,438.1 L934.1,438.2 L933.3,438.2 L932.5,438.2 L931.7,438.3 L930.9,438.3 L930.2,438.3 L929.4,438.4 L928.6,438.4 L927.8,438.4 L927,438.5 L926.3,438.5 L925.5,438.5 L924.7,438.6 L923.9,438.6 L923.1,438.7 L922.4,438.7 L921.6,438.7 L920.8,438.8 L920,438.8 L919.2,438.8 L918.4,438.9 L917.7,438.9 L916.9,439 L916.1,439 L915.3,439 L914.5,439.1 L913.8,439.1 L913,439.2 L912.2,439.2 L911.4,439.2 L910.6,439.3 L909.9,439.3 L909.1,439.4 L908.3,439.4 L907.5,439.5 L906.7,439.5 L905.9,439.5 L905.2,439.6 L904.4,439.6 L903.6,439.7 L902.8,439.7 L902,439.8 L901.3,439.8 L900.5,439.9 L899.7,439.9 L898.9,439.9 L898.1,440 L897.3,440 L896.6,440.1 L895.8,440.1 L895,440.2 L894.2,440.2 L893.4,440.3 L892.7,440.3 L891.9,440.4 L891.1,440.4 L890.3,440.5 L889.5,440.5 L888.8,440.6 L888,440.6 L887.2,440.7 L886.4,440.7 L885.6,440.8 L884.8,440.8 L884.1,440.9 L883.3,440.9 L882.5,441 L881.7,441 L880.9,441.1 L880.2,441.1 L879.4,441.2 L878.6,441.2 L877.8,441.3 L877,441.3 L876.3,441.4 L875.5,441.5 L874.7,441.5 L873.9,441.6 L873.1,441.6 L872.3,441.7 L871.6,441.7 L870.8,441.8 L870,441.9 L869.2,441.9 L868.4,442 L867.7,442 L866.9,442.1 L866.1,442.2 L865.3,442.2 L864.5,442.3 L863.8,442.3 L863,442.4 L862.2,442.5 L861.4,442.5 L860.6,442.6 L859.8,442.6 L859.1,442.7 L858.3,442.8 L857.5,442.8 L856.7,442.9 L855.9,443 L855.2,443 L854.4,443.1 L853.6,443.2 L852.8,443.2 L852,443.3 L851.3,443.4 L850.5,443.4 L849.7,443.5 L848.9,443.6 L848.1,443.6 L847.3,443.7 L846.6,443.8 L845.8,443.9 L845,443.9 L844.2,444 L843.4,444.1 L842.7,444.1 L841.9,444.2 L841.1,444.3 L840.3,444.4 L839.5,444.4 L838.7,444.5 L838,444.6 L837.2,444.7 L836.4,444.7 L835.6,444.8 L834.8,444.9 L834.1,445 L833.3,445.1 L832.5,445.1 L831.7,445.2 L830.9,445.3 L830.2,445.4 L829.4,445.5 L828.6,445.5 L827.8,445.6 L827,445.7 L826.2,445.8 L825.5,445.9 L824.7,446 L823.9,446.1 L823.1,446.1 L822.3,446.2 L821.6,446.3 L820.8,446.4 L820,446.5 L819.2,446.6 L818.4,446.7 L817.7,446.8 L816.9,446.8 L816.1,446.9 L815.3,447 L814.5,447.1 L813.7,447.2 L813,447.3 L812.2,447.4 L811.4,447.5 L810.6,447.6 L809.8,447.7 L809.1,447.8 L808.3,447.9 L807.5,448 L806.7,448.1 L805.9,448.2 L805.2,448.3 L804.4,448.4 L803.6,448.5 L802.8,448.6 L802,448.7 L801.2,448.8 L800.5,448.9 L799.7,449 L798.9,449.1 L798.1,449.2 L797.3,449.3 L796.6,449.4 L795.8,449.5 L795,449.7 L794.2,449.8 L793.4,449.9 L792.7,450 L791.9,450.1 L791.1,450.2 L790.3,450.3 L789.5,450.4 L788.7,450.6 L788,450.7 L787.2,450.8 L786.4,450.9 L785.6,451 L784.8,451.1 L784.1,451.3 L783.3,451.4 L782.5,451.5 L781.7,451.6 L780.9,451.7 L780.1,451.9 L779.4,452 L778.6,452.1 L777.8,452.2 L777,452.4 L776.2,452.5 L775.5,452.6 L774.7,452.8 L773.9,452.9 L773.1,453 L772.3,453.2 L771.6,453.3 L770.8,453.4 L770,453.6 L769.2,453.7 L768.4,453.8 L767.6,454 L766.9,454.1 L766.1,454.2 L765.3,454.4 L764.5,454.5 L763.7,454.7 L763,454.8 L762.2,455 L761.4,455.1 L760.6,455.2 L759.8,455.4 L759.1,455.5 L758.3,455.7 L757.5,455.8 L756.7,456 L755.9,456.1 L755.1,456.3 L754.4,456.4 L753.6,456.6 L752.8,456.8 L752,456.9 L751.2,457.1 L750.5,457.2 L749.7,457.4 L748.9,457.5 L748.1,457.7 L747.3,457.9 L746.6,458 L745.8,458.2 L745,458.4 L744.2,458.5 L743.4,458.7 L742.6,458.9 L741.9,459 L741.1,459.2 L740.3,459.4 L739.5,459.6 L738.7,459.7 L738,459.9 L737.2,460.1 L736.4,460.3 L735.6,460.5 L734.8,460.6 L734.1,460.8 L733.3,461 L732.5,461.2 L731.7,461.4 L730.9,461.6 L730.1,461.7 L729.4,461.9 L728.6,462.1 L727.8,462.3 L727,462.5 L726.2,462.7 L725.5,462.9 L724.7,463.1 L723.9,463.3 L723.1,463.5 L722.3,463.7 L721.5,463.9 L720.8,464.1 L720,464.3 L719.2,464.5 L718.4,464.7 L717.6,464.9 L716.9,465.1 L716.1,465.4 L715.3,465.6 L714.5,465.8 L713.7,466 L713,466.2 L712.2,466.4 L711.4,466.7 L710.6,466.9 L709.8,467.1 L709,467.3 L708.3,467.6 L707.5,467.8 L706.7,468 L705.9,468.2 L705.1,468.5 L704.4,468.7 L703.6,469 L702.8,469.2 L702,469.4 L701.2,469.7 L700.5,469.9 L699.7,470.2 L698.9,470.4 L698.1,470.6 L697.3,470.9 L696.5,471.1 L695.8,471.4 L695,471.7 L694.2,471.9 L693.4,472.2 L692.6,472.4 L691.9,472.7 L691.1,472.9 L690.3,473.2 L689.5,473.5 L688.7,473.7 L688,474 L687.2,474.3 L686.4,474.6 L685.6,474.8 L684.8,475.1 L684,475.4 L683.3,475.7 L682.5,475.9 L681.7,476.2 L680.9,476.5 L680.1,476.8 L679.4,477.1 L678.6,477.4 L677.8,477.7 L677,478 L676.2,478.3 L675.5,478.6 L674.7,478.9 L673.9,479.2 L673.1,479.5 L672.3,479.8 L671.5,480.1 L670.8,480.4 L670,480.7 L669.2,481 L668.4,481.3 L667.6,481.7 L666.9,482 L666.1,482.3 L665.3,482.6 L664.5,483 L663.7,483.3 L662.9,483.6 L662.2,484 L661.4,484.3 L660.6,484.6 L659.8,485 L659,485.3 L658.3,485.7 L657.5,486 L656.7,486.4 L655.9,486.7 L655.1,487.1 L654.4,487.4 L653.6,487.8 L652.8,488.1 L652,488.5 L651.2,488.9 L650.4,489.2 L649.7,489.6 L648.9,490 L648.1,490.4 L647.3,490.7 L646.5,491.1 L645.8,491.5 L645,491.9 L644.2,492.3 L643.4,492.7 L642.6,493.1 L641.9,493.5 L641.1,493.9 L640.3,494.3 L639.5,494.7 L638.7,495.1 L637.9,495.5 L637.2,495.9 L636.4,496.3 L635.6,496.7 L634.8,497.1 L634,497.6 L633.3,498 L632.5,498.4 L631.7,498.9 L630.9,499.3 L630.1,499.7 L629.4,500.2 L628.6,500.6 L627.8,501.1 L627,501.5 L626.2,502 L625.4,502.4 L624.7,502.9 L623.9,503.3 L623.1,503.8 L622.3,504.3 L621.5,504.7 L620.8,505.2 L620,505.7 L619.2,506.2 L618.4,506.6 L617.6,507.1 L616.9,507.6 L616.1,508.1 L615.3,508.6 L614.5,509.1 L613.7,509.6 L612.9,510.1 L612.2,510.6 L611.4,511.1 L610.6,511.7 L609.8,512.2 L609,512.7 L608.3,513.2 L607.5,513.8 L606.7,514.3 L605.9,514.8 L605.1,515.4 L604.3,515.9 L603.6,516.5 L602.8,517 L602,517.6 L601.2,518.1 L600.4,518.7 L599.7,519.2 L598.9,519.8 L598.1,520.4 L597.3,520.9 L596.5,521.4 L595.8,521.8 L595,522.2 L594.2,522.5 L593.4,522.7 L592.6,522.9 L591.8,523 L591.1,523 Z" fill="#99d9ea"/>
<path d="M553,433.5 H1138" stroke="#808080" stroke-dasharray="3,3" shape-rendering="crispEdges"/>
<path d="M553,478.5 H1138" stroke="#808080" stroke-dasharray="3,3" shape-rendering="crispEdges"/>
<path d="M591.5,411 V545" stroke="#808080" stroke-dasharray="3,3" shape-rendering="crispEdges"/>
<path d="M630.5,411 V545" stroke="#808080" stroke-dasharray="3,3" shape-rendering="crispEdges"/>
<path d="M669.5,411 V545" stroke="#808080" stroke-dasharray="3,3" shape-rendering="crispEdges"/>
<path d="M708.5,411 V545" stroke="#808080" stroke-dasharray="3,3" shape-rendering="crispEdges"/>
<path d="M747.5,411 V545" stroke="#808080" stroke-dasharray="3,3" shape-rendering="crispEdges"/>
<path d="M786.5,411 V545" stroke="#808080" stroke-dasharray="3,3" shape-rendering="crispEdges"/>
<path d="M825.5,411 V545" stroke="#808080" stroke-dasharray="3,3" shape-rendering="crispEdges"/>
<path d="M865.5,411 V545" stroke="#808080" stroke-dasharray="3,3" shape-rendering="crispEdges"/>
<path d="M904.5,411 V545" stroke="#808080" stroke-dasharray="3,3" shape-rendering="crispEdges"/>
<path d="M943.5,411 V545" stroke="#808080" stroke-dasharray="3,3" shape-rendering="crispEdges"/>
<path d="M982.5,411 V545" stroke="#808080" stroke-dasharray="3,3" shape-rendering="crispEdges"/>
<path d="M1021.5,411 V545" stroke="#808080" stroke-dasharray="3,3" shape-rendering="crispEdges"/>
<path d="M1060.5,411 V545" stroke="#808080" stroke-dasharray="3,3" shape-rendering="crispEdges"/>
<path d="M1099.5,411 V545" stroke="#808080" stroke-dasharray="3,3" shape-rendering="crispEdges"/>
<rect x="592" y="523" width="546" height="1" fill="#0000ff" />
<path d="M552,523 L553,523 L554,523 L555,523 L556,523 L557,523 L558,523 L559,523 L560,523 L561,523 L562,523 L563,523 L564,523 L565,523 L566,523 L567,523 L568,523 L569,523 L570,523 L571,523 L572,523 L573,523 L574,523 L575,523 L576,523 L577,523 L578,523 L579,523 L580,523 L581,523 L582,523 L583,523 L584,523 L585,523 L586,523 L587,523 L588,523 L589,523 L590,523 L591,523 L592,523 L593,522 L593,521 L594,519 L595,516 L596,514 L596,511 L597,507 L598,503 L599,500 L600,496 L600,492 L601,489 L602,486 L603,483 L604,480 L604,478 L605,475 L606,473 L607,470 L608,468 L608,466 L609,465 L610,463 L611,461 L611,460 L612,458 L613,457 L614,455 L614,454 L615,453 L616,452 L617,451 L618,450 L618,449 L619,448 L620,447 L621,446 L622,446 L622,445 L623,444 L624,444 L625,443 L625,442 L626,442 L627,442 L628,441 L629,441 L629,440 L630,440 L631,439 L632,439 L633,438 L634,438 L635,438 L636,438 L636,437 L637,437 L638,437 L639,437 L640,436 L641,436 L642,436 L643,436 L644,435 L645,435 L646,435 L647,435 L648,435 L649,435 L650,435 L650,434 L651,434 L652,434 L653,434 L654,434 L655,434 L656,434 L657,434 L658,434 L659,434 L660,434 L661,434 L662,434 L663,434 L664,434 L665,434 L666,434 L667,434 L668,433 L669,433 L670,433 L671,433 L672,433 L673,433 L674,433 L675,433 L676,433 L677,433 L678,433 L679,433 L680,433 L681,433 L682,433 L683,433 L684,433 L685,433 L686,433 L687,433 L688,433 L689,433 L690,433 L691,433 L692,433 L693,433 L694,433 L695,433 L696,433 L697,433 L698,433 L699,433 L700,433 L701,433 L702,433 L703,433 L704,433 L705,433 L706,433 L707,433 L708,433 L709,433 L710,433 L711,433 L712,433 L713,433 L714,433 L715,433 L716,433 L717,433 L718,433 L719,433 L720,433 L721,433 L722,433 L723,433 L724,433 L725,433 L726,433 L727,433 L728,433 L729,433 L730,433 L731,433 L732,433 L733,433 L734,433 L735,433 L736,433 L737,433 L738,433 L739,433 L740,433 L741,433 L742,433 L743,433 L744,433 L745,433 L746,433 L747,433 L748,433 L749,433 L750,433 L751,433 L752,433 L753,433 L754,433 L755,433 L756,433 L757,433 L758,433 L759,433 L760,433 L761,433 L762,433 L763,433 L764,433 L765,433 L766,433 L767,433 L768,433 L769,433 L770,433 L771,433 L772,433 L773,433 L774,433 L775,433 L776,433 L777,433 L778,433 L779,433 L780,433 L781,433 L782,433 L783,433 L784,433 L785,433 L786,433 L787,433 L788,433 L789,433 L790,433 L791,433 L792,433 L793,433 L794,433 L795,433 L796,433 L797,433 L798,433 L799,433 L800,433 L801,433 L802,433 L803,433 L804,433 L805,433 L806,433 L807,433 L808,433 L809,433 L810,433 L811,433 L812,433 L813,433 L814,433 L815,433 L816,433 L817,433 L818,433 L819,433 L820,433 L821,433 L822,433 L823,433 L824,433 L825,433 L826,433 L827,433 L828,433 L829,433 L830,433 L831,433 L832,433 L833,433 L834,433 L835,433 L836,433 L837,433 L838,433 L839,433 L840,433 L841,433 L842,433 L843,433 L844,433 L845,433 L846,433 L847,433 L848,433 L849,433 L850,433 L851,433 L852,433 L853,433 L854,433 L855,433 L856,433 L857,433 L858,433 L859,433 L860,433 L861,433 L862,433 L863,433 L864,433 L865,433 L866,433 L867,433 L868,433 L869,433 L870,433 L871,433 L872,433 L873,433 L874,433 L875,433 L876,433 L877,433 L878,433 L879,433 L880,433 L881,433 L882,433 L883,433 L884,433 L885,433 L886,433 L887,433 L888,433 L889,433 L890,433 L891,433 L892,433 L893,433 L894,433 L895,433 L896,433 L897,433 L898,433 L899,433 L900,433 L901,433 L902,433 L903,433 L904,433 L905,433 L906,433 L907,433 L908,433 L909,433 L910,433 L911,433 L912,433 L913,433 L914,433 L915,433 L916,433 L917,433 L918,433 L919,433 L920,433 L921,433 L922,433 L923,433 L924,433 L925,433 L926,433 L927,433 L928,433 L929,433 L930,433 L931,433 L932,433 L933,433 L934,433 L935,433 L936,433 L937,433 L938,433 L939,433 L940,433 L941,433 L942,433 L943,433 L944,433 L945,433 L946,433 L947,433 L948,433 L949,433 L950,433 L951,433 L952,433 L953,433 L954,433 L955,433 L956,433 L957,433 L958,433 L959,433 L960,433 L961,433 L962,433 L963,433 L964,433 L965,433 L966,433 L967,433 L968,433 L969,433 L970,433 L971,433 L972,433 L973,433 L974,433 L975,433 L976,433 L977,433 L978,433 L979,433 L980,433 L981,433 L982,433 L983,433 L984,433 L985,433 L986,433 L987,433 L988,433 L989,433 L990,433 L991,433 L992,433 L993,433 L994,433 L995,433 L996,433 L997,433 L998,433 L999,433 L1000,433 L1001,433 L1002,433 L1003,433 L1004,433 L1005,433 L1006,433 L1007,433 L1008,433 L1009,433 L1010,433 L1011,433 L1012,433 L1013,433 L1014,433 L1015,433 L1016,433 L1017,433 L1018,433 L1019,433 L1020,433 L1021,433 L1022,433 L1023,433 L1024,433 L1025,433 L1026,433 L1027,433 L1028,433 L1029,433 L1030,433 L1031,433 L1032,433 L1033,433 L1034,433 L1035,433 L1036,433 L1037,433 L1038,433 L1039,433 L1040,433 L1041,433 L1042,433 L1043,433 L1044,433 L1045,433 L1046,433 L1047,433 L1048,433 L1049,433 L1050,433 L1051,433 L1052,433 L1053,433 L1054,433 L1055,433 L1056,433 L1057,433 L1058,433 L1059,433 L1060,433 L1061,433 L1062,433 L1063,433 L1064,433 L1065,433 L1066,433 L1067,433 L1068,433 L1069,433 L1070,433 L1071,433 L1072,433 L1073,433 L1074,433 L1075,433 L1076,433 L1077,433 L1078,433 L1079,433 L1080,433 L1081,433 L1082,433 L1083,433 L1084,433 L1085,433 L1086,433 L1087,433 L1088,433 L1089,433 L1090,433 L1091,433 L1092,433 L1093,433 L1094,433 L1095,433 L1096,433 L1097,433 L1098,433 L1099,433 L1100,433 L1101,433 L1102,433 L1103,433 L1104,433 L1105,433 L1106,433 L1107,433 L1108,433 L1109,433 L1110,433 L1111,433 L1112,433 L1113,433 L1114,433 L1115,433 L1116,433 L1117,433 L1118,433 L1119,433 L1120,433 L1121,433 L1122,433 L1123,433 L1124,433 L1125,433 L1126,433 L1127,433 L1128,433 L1129,433 L1130,433 L1131,433 L1132,433 L1133,433 L1134,433 L1135,433 L1136,433 L1137,433 L1138,433" stroke="#ff0000" stroke-width="2" fill="none" stroke-linejoin="round" shape-rendering="crispEdges"/>
<path d="M552,523 L553,523 L554,523 L555,523 L556,523 L557,523 L558,523 L559,523 L560,523 L561,523 L562,523 L563,523 L564,523 L565,523 L566,523 L567,523 L568,523 L569,523 L570,523 L571,523 L572,523 L573,523 L574,523 L575,523 L576,523 L577,523 L578,523 L579,523 L580,523 L581,523 L582,523 L583,523 L584,523 L585,523 L586,523 L587,523 L588,523 L589,523 L590,523 L591,523 L592,523 L593,522 L594,521 L595,520 L596,518 L596,517 L597,515 L598,513 L599,511 L600,509 L600,507 L601,505 L602,503 L603,501 L604,499 L604,497 L605,496 L606,494 L607,492 L608,491 L608,489 L609,488 L610,486 L611,485 L611,484 L612,482 L613,481 L614,480 L614,478 L615,477 L616,476 L617,475 L618,474 L618,473 L619,472 L620,470 L621,470 L622,468 L623,467 L624,466 L625,465 L625,464 L626,463 L627,462 L628,462 L629,461 L629,460 L630,459 L631,459 L632,458 L632,457 L633,457 L634,456 L635,455 L636,455 L636,454 L637,454 L638,453 L639,453 L640,452 L641,451 L642,451 L643,450 L644,449 L645,449 L646,448 L647,448 L648,447 L649,447 L650,446 L651,446 L652,445 L653,445 L654,445 L654,444 L655,444 L656,444 L657,444 L658,443 L659,443 L660,442 L661,442 L662,442 L663,442 L664,441 L665,441 L666,441 L667,440 L668,440 L669,440 L670,440 L671,440 L672,439 L673,439 L674,439 L675,439 L676,438 L677,438 L678,438 L679,438 L680,438 L681,438 L682,437 L683,437 L684,437 L685,437 L686,437 L687,437 L688,437 L689,436 L690,436 L691,436 L692,436 L693,436 L694,436 L695,436 L696,436 L697,436 L698,436 L699,435 L700,435 L701,435 L702,435 L703,435 L704,435 L705,435 L706,435 L707,435 L708,435 L709,435 L710,435 L711,435 L712,434 L713,434 L714,434 L715,434 L716,434 L717,434 L718,434 L719,434 L720,434 L721,434 L722,434 L723,434 L724,434 L725,434 L726,434 L727,434 L728,434 L729,434 L730,434 L731,434 L732,434 L733,434 L734,434 L735,434 L736,434 L737,434 L738,434 L739,434 L740,434 L741,434 L742,434 L743,434 L744,434 L745,434 L746,434 L747,434 L748,433 L749,433 L750,433 L751,433 L752,433 L753,433 L754,433 L755,433 L756,433 L757,433 L758,433 L759,433 L760,433 L761,433 L762,433 L763,433 L764,433 L765,433 L766,433 L767,433 L768,433 L769,433 L770,433 L771,433 L772,433 L773,433 L774,433 L775,433 L776,433 L777,433 L778,433 L779,433 L780,433 L781,433 L782,433 L783,433 L784,433 L785,433 L786,433 L787,433 L788,433 L789,433 L790,433 L791,433 L792,433 L793,433 L794,433 L795,433 L796,433 L797,433 L798,433 L799,433 L800,433 L801,433 L802,433 L803,433 L804,433 L805,433 L806,433 L807,433 L808,433 L809,433 L810,433 L811,433 L812,433 L813,433 L814,433 L815,433 L816,433 L817,433 L818,433 L819,433 L820,433 L821,433 L822,433 L823,433 L824,433 L825,433 L826,433 L827,433 L828,433 L829,433 L830,433 L831,433 L832,433 L833,433 L834,433 L835,433 L836,433 L837,433 L838,433 L839,433 L840,433 L841,433 L842,433 L843,433 L844,433 L845,433 L846,433 L847,433 L848,433 L849,433 L850,433 L851,433 L852,433 L853,433 L854,433 L855,433 L856,433 L857,433 L858,433 L859,433 L860,433 L861,433 L862,433 L863,433 L864,433 L865,433 L866,433 L867,433 L868,433 L869,433 L870,433 L871,433 L872,433 L873,433 L874,433 L875,433 L876,433 L877,433 L878,433 L879,433 L880,433 L881,433 L882,433 L883,433 L884,433 L885,433 L886,433 L887,433 L888,433 L889,433 L890,433 L891,433 L892,433 L893,433 L894,433 L895,433 L896,433 L897,433 L898,433 L899,433 L900,433 L901,433 L902,433 L903,433 L904,433 L905,433 L906,433 L907,433 L908,433 L909,433 L910,433 L911,433 L912,433 L913,433 L914,433 L915,433 L916,433 L917,433 L918,433 L919,433 L920,433 L921,433 L922,433 L923,433 L924,433 L925,433 L926,433 L927,433 L928,433 L929,433 L930,433 L931,433 L932,433 L933,433 L934,433 L935,433 L936,433 L937,433 L938,433 L939,433 L940,433 L941,433 L942,433 L943,433 L944,433 L945,433 L946,433 L947,433 L948,433 L949,433 L950,433 L951,433 L952,433 L953,433 L954,433 L955,433 L956,433 L957,433 L958,433 L959,433 L960,433 L961,433 L962,433 L963,433 L964,433 L965,433 L966,433 L967,433 L968,433 L969,433 L970,433 L971,433 L972,433 L973,433 L974,433 L975,433 L976,433 L977,433 L978,433 L979,433 L980,433 L981,433 L982,433 L983,433 L984,433 L985,433 L986,433 L987,433 L988,433 L989,433 L990,433 L991,433 L992,433 L993,433 L994,433 L995,433 L996,433 L997,433 L998,433 L999,433 L1000,433 L1001,433 L1002,433 L1003,433 L1004,433 L1005,433 L1006,433 L1007,433 L1008,433 L1009,433 L1010,433 L1011,433 L1012,433 L1013,433 L1014,433 L1015,433 L1016,433 L1017,433 L1018,433 L1019,433 L1020,433 L1021,433 L1022,433 L1023,433 L1024,433 L1025,433 L1026,433 L1027,433 L1028,433 L1029,433 L1030,433 L1031,433 L1032,433 L1033,433 L1034,433 L1035,433 L1036,433 L1037,433 L1038,433 L1039,433 L1040,433 L1041,433 L1042,433 L1043,433 L1044,433 L1045,433 L1046,433 L1047,433 L1048,433 L1049,433 L1050,433 L1051,433 L1052,433 L1053,433 L1054,433 L1055,433 L1056,433 L1057,433 L1058,433 L1059,433 L1060,433 L1061,433 L1062,433 L1063,433 L1064,433 L1065,433 L1066,433 L1067,433 L1068,433 L1069,433 L1070,433 L1071,433 L1072,433 L1073,433 L1074,433 L1075,433 L1076,433 L1077,433 L1078,433 L1079,433 L1080,433 L1081,433 L1082,433 L1083,433 L1084,433 L1085,433 L1086,433 L1087,433 L1088,433 L1089,433 L1090,433 L1091,433 L1092,433 L1093,433 L1094,433 L1095,433 L1096,433 L1097,433 L1098,433 L1099,433 L1100,433 L1101,433 L1102,433 L1103,433 L1104,433 L1105,433 L1106,433 L1107,433 L1108,433 L1109,433 L1110,433 L1111,433 L1112,433 L1113,433 L1114,433 L1115,433 L1116,433 L1117,433 L1118,433 L1119,433 L1120,433 L1121,433 L1122,433 L1123,433 L1124,433 L1125,433 L1126,433 L1127,433 L1128,433 L1129,433 L1130,433 L1131,433 L1132,433 L1133,433 L1134,433 L1135,433 L1136,433 L1137,433 L1138,433" stroke="#800000" stroke-width="2" fill="none" stroke-linejoin="round" shape-rendering="crispEdges"/>
<path d="M552,523 L553,523 L554,523 L555,523 L556,523 L557,523 L558,523 L559,523 L560,523 L561,523 L562,523 L563,523 L564,523 L565,523 L566,523 L567,523 L568,523 L569,523 L570,523 L571,523 L572,523 L573,523 L574,523 L575,523 L576,523 L577,523 L578,523 L579,523 L580,523 L581,523 L582,523 L583,523 L584,523 L585,523 L586,523 L587,523 L588,523 L589,523 L590,523 L591,523 L592,523 L593,523 L593,522 L594,522 L595,521 L596,521 L596,520 L597,519 L598,518 L599,517 L600,516 L600,514 L601,514 L602,512 L603,511 L604,510 L604,509 L605,508 L606,507 L607,506 L608,505 L608,504 L609,504 L610,503 L611,502 L611,501 L612,500 L613,499 L614,498 L614,497 L615,496 L616,496 L617,495 L618,494 L618,493 L619,492 L620,492 L621,491 L622,490 L622,489 L623,488 L624,488 L625,487 L625,486 L626,486 L627,485 L628,484 L629,484 L629,483 L630,482 L631,482 L632,481 L632,480 L633,480 L634,479 L635,478 L636,478 L636,477 L637,477 L638,476 L639,476 L640,475 L640,474 L641,474 L642,473 L643,473 L643,472 L644,472 L645,471 L646,471 L646,470 L647,470 L648,469 L649,469 L650,468 L651,468 L652,467 L653,467 L654,466 L655,465 L656,465 L657,464 L658,464 L659,463 L660,463 L661,462 L662,462 L663,461 L664,461 L664,460 L665,460 L666,460 L667,459 L668,459 L669,458 L670,458 L671,458 L672,457 L673,457 L674,456 L675,456 L676,456 L677,455 L678,455 L679,455 L679,454 L680,454 L681,454 L682,454 L682,453 L683,453 L684,453 L685,452 L686,452 L687,452 L688,452 L689,451 L690,451 L691,450 L692,450 L693,450 L694,450 L695,449 L696,449 L697,449 L698,449 L699,448 L700,448 L701,448 L702,448 L703,447 L704,447 L705,447 L706,447 L707,446 L708,446 L709,446 L710,446 L711,446 L711,445 L712,445 L713,445 L714,445 L715,445 L716,444 L717,444 L718,444 L719,444 L720,444 L721,444 L722,444 L722,443 L723,443 L724,443 L725,443 L726,443 L727,442 L728,442 L729,442 L730,442 L731,442 L732,442 L733,442 L734,442 L735,441 L736,441 L737,441 L738,441 L739,441 L740,441 L741,440 L742,440 L743,440 L744,440 L745,440 L746,440 L747,440 L748,440 L749,440 L750,440 L750,439 L751,439 L752,439 L753,439 L754,439 L755,439 L756,439 L757,439 L758,439 L759,438 L760,438 L761,438 L762,438 L763,438 L764,438 L765,438 L766,438 L767,438 L768,438 L769,438 L770,438 L771,438 L772,438 L772,437 L773,437 L774,437 L775,437 L776,437 L777,437 L778,437 L779,437 L780,437 L781,437 L782,437 L783,437 L784,437 L785,437 L786,436 L787,436 L788,436 L789,436 L790,436 L791,436 L792,436 L793,436 L794,436 L795,436 L796,436 L797,436 L798,436 L799,436 L800,436 L801,436 L802,436 L803,436 L804,436 L805,436 L806,436 L807,436 L808,435 L809,435 L810,435 L811,435 L812,435 L813,435 L814,435 L815,435 L816,435 L817,435 L818,435 L819,435 L820,435 L821,435 L822,435 L823,435 L824,435 L825,435 L826,435 L827,435 L828,435 L829,435 L830,435 L831,435 L832,435 L833,435 L834,435 L835,434 L836,434 L837,434 L838,434 L839,434 L840,434 L841,434 L842,434 L843,434 L844,434 L845,434 L846,434 L847,434 L848,434 L849,434 L850,434 L851,434 L852,434 L853,434 L854,434 L855,434 L856,434 L857,434 L858,434 L859,434 L860,434 L861,434 L862,434 L863,434 L864,434 L865,434 L866,434 L867,434 L868,434 L869,434 L870,434 L871,434 L872,434 L873,434 L874,434 L875,434 L876,434 L877,434 L878,434 L879,434 L880,434 L881,434 L882,434 L883,434 L884,434 L885,434 L886,434 L887,434 L888,434 L889,434 L890,434 L891,434 L892,434 L893,434 L894,434 L895,434 L896,434 L897,434 L898,434 L899,434 L900,434 L901,434 L902,434 L903,434 L904,434 L905,434 L906,434 L907,434 L908,433 L909,433 L910,433 L911,433 L912,433 L913,433 L914,433 L915,433 L916,433 L917,433 L918,433 L919,433 L920,433 L921,433 L922,433 L923,433 L924,433 L925,433 L926,433 L927,433 L928,433 L929,433 L930,433 L931,433 L932,433 L933,433 L934,433 L935,433 L936,433 L937,433 L938,433 L939,433 L940,433 L941,433 L942,433 L943,433 L944,433 L945,433 L946,433 L947,433 L948,433 L949,433 L950,433 L951,433 L952,433 L953,433 L954,433 L955,433 L956,433 L957,433 L958,433 L959,433 L960,433 L961,433 L962,433 L963,433 L964,433 L965,433 L966,433 L967,433 L968,433 L969,433 L970,433 L971,433 L972,433 L973,433 L974,433 L975,433 L976,433 L977,433 L978,433 L979,433 L980,433 L981,433 L982,433 L983,433 L984,433 L985,433 L986,433 L987,433 L988,433 L989,433 L990,433 L991,433 L992,433 L993,433 L994,433 L995,433 L996,433 L997,433 L998,433 L999,433 L1000,433 L1001,433 L1002,433 L1003,433 L1004,433 L1005,433 L1006,433 L1007,433 L1008,433 L1009,433 L1010,433 L1011,433 L1012,433 L1013,433 L1014,433 L1015,433 L1016,433 L1017,433 L1018,433 L1019,433 L1020,433 L1021,433 L1022,433 L1023,433 L1024,433 L1025,433 L1026,433 L1027,433 L1028,433 L1029,433 L1030,433 L1031,433 L1032,433 L1033,433 L1034,433 L1035,433 L1036,433 L1037,433 L1038,433 L1039,433 L1040,433 L1041,433 L1042,433 L1043,433 L1044,433 L1045,433 L1046,433 L1047,433 L1048,433 L1049,433 L1050,433 L1051,433 L1052,433 L1053,433 L1054,433 L1055,433 L1056,433 L1057,433 L1058,433 L1059,433 L1060,433 L1061,433 L1062,433 L1063,433 L1064,433 L1065,433 L1066,433 L1067,433 L1068,433 L1069,433 L1070,433 L1071,433 L1072,433 L1073,433 L1074,433 L1075,433 L1076,433 L1077,433 L1078,433 L1079,433 L1080,433 L1081,433 L1082,433 L1083,433 L1084,433 L1085,433 L1086,433 L1087,433 L1088,433 L1089,433 L1090,433 L1091,433 L1092,433 L1093,433 L1094,433 L1095,433 L1096,433 L1097,433 L1098,433 L1099,433 L1100,433 L1101,433 L1102,433 L1103,433 L1104,433 L1105,433 L1106,433 L1107,433 L1108,433 L1109,433 L1110,433 L1111,433 L1112,433 L1113,433 L1114,433 L1115,433 L1116,433 L1117,433 L1118,433 L1119,433 L1120,433 L1121,433 L1122,433 L1123,433 L1124,433 L1125,433 L1126,433 L1127,433 L1128,433 L1129,433 L1130,433 L1131,433 L1132,433 L1133,433 L1134,433 L1135,433 L1136,433 L1137,433 L1138,433" stroke="#008000" stroke-width="2" fill="none" stroke-linejoin="round" shape-rendering="crispEdges"/>
<path d="M552,523 L553,523 L554,523 L555,523 L556,523 L557,523 L558,523 L559,523 L560,523 L561,523 L562,523 L563,523 L564,523 L565,523 L566,523 L567,523 L568,523 L569,523 L570,523 L571,523 L572,523 L573,523 L574,523 L575,523 L576,523 L577,523 L578,523 L579,523 L580,523 L581,523 L582,523 L583,523 L584,523 L585,523 L586,523 L587,523 L588,523 L589,523 L590,523 L591,523 L592,523 L593,523 L594,522 L595,522 L596,522 L596,521 L597,521 L598,520 L599,520 L600,519 L601,518 L602,518 L603,517 L604,516 L605,515 L606,515 L607,514 L608,514 L608,513 L609,513 L610,512 L611,512 L611,511 L612,511 L613,510 L614,510 L614,509 L615,509 L616,508 L617,508 L618,507 L619,506 L620,506 L621,505 L622,505 L622,504 L623,504 L624,503 L625,503 L625,502 L626,502 L627,502 L628,501 L629,501 L629,500 L630,500 L631,499 L632,499 L632,498 L633,498 L634,498 L635,497 L636,497 L636,496 L637,496 L638,496 L639,495 L640,495 L640,494 L641,494 L642,494 L643,493 L644,492 L645,492 L646,492 L646,491 L647,491 L648,490 L649,490 L650,490 L650,489 L651,489 L652,488 L653,488 L654,488 L654,487 L655,487 L656,487 L657,486 L658,486 L659,485 L660,485 L661,485 L661,484 L662,484 L663,484 L664,483 L665,483 L666,482 L667,482 L668,482 L668,481 L669,481 L670,481 L671,480 L672,480 L673,480 L674,479 L675,479 L676,479 L676,478 L677,478 L678,478 L679,477 L680,477 L681,476 L682,476 L683,476 L684,475 L685,475 L686,475 L687,474 L688,474 L689,474 L690,474 L690,473 L691,473 L692,473 L693,472 L694,472 L695,472 L696,471 L697,471 L698,471 L699,470 L700,470 L701,470 L702,469 L703,469 L704,469 L705,468 L706,468 L707,468 L708,468 L709,467 L710,467 L711,467 L712,466 L713,466 L714,466 L715,466 L716,465 L717,465 L718,465 L719,464 L720,464 L721,464 L722,464 L723,464 L724,463 L725,463 L726,463 L727,462 L728,462 L729,462 L730,462 L731,462 L732,461 L733,461 L734,461 L735,461 L736,460 L737,460 L738,460 L739,460 L740,460 L740,459 L741,459 L742,459 L743,459 L744,458 L745,458 L746,458 L747,458 L748,458 L749,458 L750,457 L751,457 L752,457 L753,457 L754,457 L754,456 L755,456 L756,456 L757,456 L758,456 L759,456 L760,455 L761,455 L762,455 L763,455 L764,455 L764,454 L765,454 L766,454 L767,454 L768,454 L769,454 L770,454 L771,453 L772,453 L773,453 L774,453 L775,453 L776,453 L776,452 L777,452 L778,452 L779,452 L780,452 L781,452 L782,452 L783,451 L784,451 L785,451 L786,451 L787,451 L788,451 L789,451 L790,450 L791,450 L792,450 L793,450 L794,450 L795,450 L796,450 L797,449 L798,449 L799,449 L800,449 L801,449 L802,449 L803,449 L804,448 L805,448 L806,448 L807,448 L808,448 L809,448 L810,448 L811,448 L812,447 L813,447 L814,447 L815,447 L816,447 L817,447 L818,447 L819,447 L820,446 L821,446 L822,446 L823,446 L824,446 L825,446 L826,446 L827,446 L828,446 L829,446 L830,445 L831,445 L832,445 L833,445 L834,445 L835,445 L836,445 L837,445 L838,445 L839,444 L840,444 L841,444 L842,444 L843,444 L844,444 L845,444 L846,444 L847,444 L848,444 L849,444 L850,444 L850,443 L851,443 L852,443 L853,443 L854,443 L855,443 L856,443 L857,443 L858,443 L859,443 L860,443 L861,443 L861,442 L862,442 L863,442 L864,442 L865,442 L866,442 L867,442 L868,442 L869,442 L870,442 L871,442 L872,442 L873,442 L874,442 L875,442 L876,442 L876,441 L877,441 L878,441 L879,441 L880,441 L881,441 L882,441 L883,441 L884,441 L885,441 L886,441 L887,441 L888,441 L889,441 L890,440 L891,440 L892,440 L893,440 L894,440 L895,440 L896,440 L897,440 L898,440 L899,440 L900,440 L901,440 L902,440 L903,440 L904,440 L905,440 L906,440 L907,440 L908,440 L908,439 L909,439 L910,439 L911,439 L912,439 L913,439 L914,439 L915,439 L916,439 L917,439 L918,439 L919,439 L920,439 L921,439 L922,439 L923,439 L924,439 L925,439 L926,438 L927,438 L928,438 L929,438 L930,438 L931,438 L932,438 L933,438 L934,438 L935,438 L936,438 L937,438 L938,438 L939,438 L940,438 L941,438 L942,438 L943,438 L944,438 L945,438 L946,438 L947,438 L948,438 L949,438 L950,438 L951,438 L952,437 L953,437 L954,437 L955,437 L956,437 L957,437 L958,437 L959,437 L960,437 L961,437 L962,437 L963,437 L964,437 L965,437 L966,437 L967,437 L968,437 L969,437 L970,437 L971,437 L972,437 L973,437 L974,437 L975,437 L976,437 L977,437 L978,437 L979,436 L980,436 L981,436 L982,436 L983,436 L984,436 L985,436 L986,436 L987,436 L988,436 L989,436 L990,436 L991,436 L992,436 L993,436 L994,436 L995,436 L996,436 L997,436 L998,436 L999,436 L1000,436 L1001,436 L1002,436 L1003,436 L1004,436 L1005,436 L1006,436 L1007,436 L1008,436 L1009,436 L1010,436 L1011,436 L1012,436 L1013,436 L1014,436 L1015,436 L1016,436 L1017,436 L1018,436 L1019,436 L1020,436 L1021,436 L1022,436 L1023,435 L1024,435 L1025,435 L1026,435 L1027,435 L1028,435 L1029,435 L1030,435 L1031,435 L1032,435 L1033,435 L1034,435 L1035,435 L1036,435 L1037,435 L1038,435 L1039,435 L1040,435 L1041,435 L1042,435 L1043,435 L1044,435 L1045,435 L1046,435 L1047,435 L1048,435 L1049,435 L1050,435 L1051,435 L1052,435 L1053,435 L1054,435 L1055,435 L1056,435 L1057,435 L1058,435 L1059,435 L1060,435 L1061,435 L1062,435 L1063,435 L1064,435 L1065,435 L1066,435 L1067,435 L1068,435 L1069,435 L1070,435 L1071,435 L1072,435 L1073,435 L1074,435 L1075,435 L1076,435 L1077,434 L1078,434 L1079,434 L1080,434 L1081,434 L1082,434 L1083,434 L1084,434 L1085,434 L1086,434 L1087,434 L1088,434 L1089,434 L1090,434 L1091,434 L1092,434 L1093,434 L1094,434 L1095,434 L1096,434 L1097,434 L1098,434 L1099,434 L1100,434 L1101,434 L1102,434 L1103,434 L1104,434 L1105,434 L1106,434 L1107,434 L1108,434 L1109,434 L1110,434 L1111,434 L1112,434 L1113,434 L1114,434 L1115,434 L1116,434 L1117,434 L1118,434 L1119,434 L1120,434 L1121,434 L1122,434 L1123,434 L1124,434 L1125,434 L1126,434 L1127,434 L1128,434 L1129,434 L1130,434 L1131,434 L1132,434 L1133,434 L1134,434 L1135,434 L1136,434 L1137,434 L1138,434" stroke="#808000" stroke-width="2" fill="none" stroke-linejoin="round" shape-rendering="crispEdges"/>
<path d="M591.5,522 V433.5 H675" stroke="#00a2e8" fill="none" shape-rendering="crispEdges"/>
<rect x="552.5" y="410.5" width="586" height="135" fill="none" stroke="#808080" shape-rendering="crispEdges"/>
<text x="550.2" y="414.5" font-size="10" fill="#0000ff" text-anchor="end" textLength="27" lengthAdjust="spacingAndGlyphs" >1.250</text>
<text x="550.2" y="437.5" font-size="10" fill="#0000ff" text-anchor="end" textLength="27" lengthAdjust="spacingAndGlyphs" >1.000</text>
<text x="550.2" y="482.5" font-size="10" fill="#0000ff" text-anchor="end" textLength="27" lengthAdjust="spacingAndGlyphs" >0.500</text>
<text x="550.2" y="527.5" font-size="10" fill="#0000ff" text-anchor="end" textLength="27" lengthAdjust="spacingAndGlyphs" >0.000</text>
<text x="550.2" y="549.5" font-size="10" fill="#0000ff" text-anchor="end" textLength="31" lengthAdjust="spacingAndGlyphs" >-0.250</text>
<text x="552.3" y="556.5" font-size="10" fill="#0000ff" textLength="39" lengthAdjust="spacingAndGlyphs" >24.500u</text>
<text x="631.1333333333333" y="556.5" font-size="10" fill="#0000ff" text-anchor="middle" textLength="39" lengthAdjust="spacingAndGlyphs" >25.500u</text>
<text x="709.2666666666667" y="556.5" font-size="10" fill="#0000ff" text-anchor="middle" textLength="39" lengthAdjust="spacingAndGlyphs" >26.500u</text>
<text x="787.4" y="556.5" font-size="10" fill="#0000ff" text-anchor="middle" textLength="39" lengthAdjust="spacingAndGlyphs" >27.500u</text>
<text x="865.5333333333333" y="556.5" font-size="10" fill="#0000ff" text-anchor="middle" textLength="39" lengthAdjust="spacingAndGlyphs" >28.500u</text>
<text x="943.6666666666667" y="556.5" font-size="10" fill="#0000ff" text-anchor="middle" textLength="39" lengthAdjust="spacingAndGlyphs" >29.500u</text>
<text x="1021.8" y="556.5" font-size="10" fill="#0000ff" text-anchor="middle" textLength="39" lengthAdjust="spacingAndGlyphs" >30.500u</text>
<text x="1139" y="556.5" font-size="10" fill="#0000ff" text-anchor="middle" textLength="39" lengthAdjust="spacingAndGlyphs" >32.000u</text>
<text x="552.3" y="569" font-size="10" fill="#ff0000" textLength="49.5" lengthAdjust="spacingAndGlyphs" >v(OUT) (V)</text>
<text x="775.8" y="582" font-size="10" fill="#0000ff" textLength="38" lengthAdjust="spacingAndGlyphs" >T (Secs)</text>
<rect x="515" y="590" width="651" height="18" fill="#f0f0f0" />
<rect x="646" y="590" width="502" height="1" fill="#000" />
<rect x="515" y="591" width="6" height="15" fill="#f0f0f0" />
<rect x="515" y="591" width="1" height="15" fill="#ffffff" />
<rect x="520" y="591" width="1" height="15" fill="#a0a0a0" />
<rect x="521" y="590" width="15" height="16" fill="#696969" />
<rect x="522" y="591" width="13" height="14" fill="#ffffff" />
<rect x="523" y="592" width="12" height="13" fill="#a0a0a0" />
<rect x="523" y="592" width="11" height="12" fill="#f0f0f0" />
<rect x="536" y="590" width="16" height="16" fill="#696969" />
<rect x="537" y="591" width="14" height="14" fill="#ffffff" />
<rect x="538" y="592" width="13" height="13" fill="#a0a0a0" />
<rect x="538" y="592" width="12" height="12" fill="#f0f0f0" />
<rect x="552" y="590" width="16" height="16" fill="#696969" />
<rect x="553" y="591" width="14" height="14" fill="#ffffff" />
<rect x="554" y="592" width="13" height="13" fill="#a0a0a0" />
<rect x="554" y="592" width="12" height="12" fill="#f0f0f0" />
<rect x="568" y="590" width="16" height="16" fill="#696969" />
<rect x="569" y="591" width="14" height="14" fill="#ffffff" />
<rect x="570" y="592" width="13" height="13" fill="#a0a0a0" />
<rect x="570" y="592" width="12" height="12" fill="#f0f0f0" />
<rect x="584" y="590" width="17" height="16" fill="#696969" />
<rect x="585" y="591" width="15" height="14" fill="#ffffff" />
<rect x="586" y="592" width="14" height="13" fill="#a0a0a0" />
<rect x="586" y="592" width="13" height="12" fill="#f0f0f0" />
<path d="M527,596.5 H532 L529.5,599.0 Z" fill="#000"/>
<rect x="541" y="594" width="1.6" height="9" fill="#000"/><path d="M548,593.8 V603.2 L543,598.5 Z" fill="#000"/>
<path d="M562.5,593.8 V603.2 L557.5,598.5 Z" fill="#000"/>
<path d="M574.5,593.8 V603.2 L579.5,598.5 Z" fill="#000"/>
<rect x="596.5" y="594" width="1.6" height="9" fill="#000"/><path d="M591,593.8 V603.2 L596,598.5 Z" fill="#000"/>
<path d="M602,590.5 L610,605.5 L638,605.5 L646,590.5 Z" fill="#ffffff"/>
<path d="M610,605.5 H638" stroke="#a0a0a0" fill="none" stroke-width="1"/>
<path d="M602,590.5 L610,605.5 M638,605.5 L646,590.5" stroke="#000" fill="none" stroke-width="1"/>
<text x="611" y="602.0" font-size="11" fill="#000" font-weight="bold" textLength="25.7" lengthAdjust="spacingAndGlyphs" >Main</text>
<rect x="1148" y="590" width="17" height="7" fill="#ffffff" />
<rect x="1148" y="596" width="17" height="1" fill="#696969" />
<rect x="1164" y="590" width="1" height="7" fill="#696969" />
<rect x="1149" y="595" width="15" height="1" fill="#a0a0a0" />
<rect x="1163" y="591" width="1" height="5" fill="#a0a0a0" />
<rect x="1172" y="122" width="66" height="1" fill="#a0a0a0" />
<rect x="1172" y="123" width="66" height="1" fill="#ffffff" />
<rect x="1172" y="148" width="66" height="1" fill="#a0a0a0" />
<rect x="1172" y="149" width="66" height="1" fill="#ffffff" />
<rect x="1172" y="174" width="66" height="1" fill="#a0a0a0" />
<rect x="1172" y="175" width="66" height="1" fill="#ffffff" />
<rect x="1172" y="200" width="66" height="1" fill="#a0a0a0" />
<rect x="1172" y="201" width="66" height="1" fill="#ffffff" />
<rect x="1172" y="247" width="66" height="1" fill="#a0a0a0" />
<rect x="1172" y="248" width="66" height="1" fill="#ffffff" />
<rect x="1172" y="336" width="66" height="1" fill="#a0a0a0" />
<rect x="1172" y="337" width="66" height="1" fill="#ffffff" />
<rect x="1172" y="362" width="66" height="1" fill="#a0a0a0" />
<rect x="1172" y="363" width="66" height="1" fill="#ffffff" />
<rect x="1172" y="388" width="66" height="1" fill="#a0a0a0" />
<rect x="1172" y="389" width="66" height="1" fill="#ffffff" />
<g transform="translate(1177,40)"><path d="M0,0 V11 L2.5,8.5 L4.5,13 L6,12.3 L4.2,8 H7.5 Z" fill="#000"/></g>
<path d="M1196,46.5 L1202.5,40" stroke="#000" stroke-width="1.2"/><rect x="1205.5" y="39.5" width="6" height="6" fill="#fff" stroke="#000" stroke-width="1.2"/><path d="M1199.5,47 L1203,50.5 L1199.5,54 L1196,50.5 Z" fill="#fff" stroke="#000" stroke-width="1.3"/><circle cx="1208.5" cy="50.5" r="3.3" fill="#fff" stroke="#000" stroke-width="1.3"/>
<path d="M1220,45 H1227 L1223.5,49 Z" fill="#000"/>
<rect x="1170" y="57" width="23" height="21" fill="url(#dith)" />
<rect x="1170" y="57" width="23" height="1" fill="#a0a0a0" />
<rect x="1170" y="57" width="1" height="21" fill="#a0a0a0" />
<rect x="1170" y="77" width="23" height="1" fill="#ffffff" />
<rect x="1192" y="57" width="1" height="21" fill="#ffffff" />
<rect x="1174" y="62" width="1" height="1" fill="#000"/><rect x="1176" y="62" width="1" height="1" fill="#000"/><rect x="1178" y="62" width="1" height="1" fill="#000"/><rect x="1180" y="62" width="1" height="1" fill="#000"/><rect x="1182" y="62" width="1" height="1" fill="#000"/><rect x="1184" y="62" width="1" height="1" fill="#000"/><rect x="1186" y="62" width="1" height="1" fill="#000"/>
<rect x="1174" y="70" width="1" height="1" fill="#000"/><rect x="1176" y="70" width="1" height="1" fill="#000"/><rect x="1178" y="70" width="1" height="1" fill="#000"/><rect x="1180" y="70" width="1" height="1" fill="#000"/><rect x="1182" y="70" width="1" height="1" fill="#000"/><rect x="1184" y="70" width="1" height="1" fill="#000"/><rect x="1186" y="70" width="1" height="1" fill="#000"/>
<rect x="1174" y="62" width="1" height="1" fill="#000"/><rect x="1174" y="64" width="1" height="1" fill="#000"/><rect x="1174" y="66" width="1" height="1" fill="#000"/><rect x="1174" y="68" width="1" height="1" fill="#000"/><rect x="1174" y="70" width="1" height="1" fill="#000"/>
<rect x="1186" y="62" width="1" height="1" fill="#000"/><rect x="1186" y="64" width="1" height="1" fill="#000"/><rect x="1186" y="66" width="1" height="1" fill="#000"/><rect x="1186" y="68" width="1" height="1" fill="#000"/><rect x="1186" y="70" width="1" height="1" fill="#000"/>
<path d="M1174,72.3 Q1177,76.5 1179.5,73.5 Q1181,71 1182.5,67.5 Q1184.5,63 1187,64.3 Q1188.5,65 1189.6,67.6" stroke="#0000a0" stroke-width="1.5" fill="none"/>
<path d="M1196,66.5 Q1197.5,60.5 1199.5,61.3 Q1201,61.5 1203.5,66.5 Q1204.5,68.5 1206,66 Q1207.8,60.5 1208.8,61.8 Q1210.3,64 1211.8,67.8" stroke="#0000a0" stroke-width="1.5" fill="none"/>
<rect x="1199" y="61" width="1" height="1" fill="#000"/><rect x="1199" y="63" width="1" height="1" fill="#000"/><rect x="1199" y="65" width="1" height="1" fill="#000"/><rect x="1199" y="67" width="1" height="1" fill="#000"/>
<rect x="1208" y="61" width="1" height="1" fill="#000"/><rect x="1208" y="63" width="1" height="1" fill="#000"/><rect x="1208" y="65" width="1" height="1" fill="#000"/><rect x="1208" y="67" width="1" height="1" fill="#000"/>
<rect x="1196" y="70" width="16" height="1" fill="#000"/><rect x="1198" y="72" width="5" height="1" fill="#000"/><rect x="1205" y="72" width="5" height="1" fill="#000"/><rect x="1198" y="74" width="5" height="1" fill="#000"/><rect x="1205" y="74" width="5" height="1" fill="#000"/>
<path d="M1219,61.6 H1220.3 V63.8 H1234.7 V61.6 H1236" stroke="#0000a0" stroke-width="1.6" fill="none"/>
<rect x="1221" y="66" width="1" height="1" fill="#000"/><rect x="1221" y="68" width="1" height="1" fill="#000"/><rect x="1221" y="70" width="1" height="1" fill="#000"/>
<rect x="1233" y="66" width="1" height="1" fill="#000"/><rect x="1233" y="68" width="1" height="1" fill="#000"/><rect x="1233" y="70" width="1" height="1" fill="#000"/>
<path d="M1221,72.5 H1234" stroke="#000"/><path d="M1221,72.5 L1223.5,70.5 V74.5 Z M1234,72.5 L1231.5,70.5 V74.5 Z" fill="#000"/>
<rect x="1224" y="70" width="1" height="1" fill="#000"/><rect x="1226" y="70" width="1" height="1" fill="#000"/><rect x="1228" y="70" width="1" height="1" fill="#000"/><rect x="1229" y="70" width="1" height="1" fill="#000"/><rect x="1224" y="71" width="1" height="1" fill="#000"/><rect x="1225" y="71" width="1" height="1" fill="#000"/><rect x="1226" y="71" width="1" height="1" fill="#000"/><rect x="1228" y="71" width="1" height="1" fill="#000"/><rect x="1230" y="71" width="1" height="1" fill="#000"/><rect x="1224" y="72" width="1" height="1" fill="#000"/><rect x="1226" y="72" width="1" height="1" fill="#000"/><rect x="1228" y="72" width="1" height="1" fill="#000"/><rect x="1230" y="72" width="1" height="1" fill="#000"/><rect x="1224" y="73" width="1" height="1" fill="#000"/><rect x="1226" y="73" width="1" height="1" fill="#000"/><rect x="1228" y="73" width="1" height="1" fill="#000"/><rect x="1229" y="73" width="1" height="1" fill="#000"/>
<path d="M1175.5,82 V95" stroke="#000" stroke-width="1.2"/><path d="M1173.5,84 L1175.5,81 L1177.5,84 Z M1173.5,93 L1175.5,96 L1177.5,93 Z" fill="#000"/>
<rect x="1177" y="81" width="1" height="1" fill="#000"/><rect x="1179" y="81" width="1" height="1" fill="#000"/><rect x="1181" y="81" width="1" height="1" fill="#000"/><rect x="1183" y="81" width="1" height="1" fill="#000"/>
<rect x="1177" y="95" width="1" height="1" fill="#000"/><rect x="1179" y="95" width="1" height="1" fill="#000"/>
<rect x="1173" y="87" width="1" height="1" fill="#000"/><rect x="1175" y="87" width="1" height="1" fill="#000"/><rect x="1176" y="87" width="1" height="1" fill="#000"/><rect x="1177" y="87" width="1" height="1" fill="#000"/><rect x="1173" y="88" width="1" height="1" fill="#000"/><rect x="1175" y="88" width="1" height="1" fill="#000"/><rect x="1177" y="88" width="1" height="1" fill="#000"/><rect x="1173" y="89" width="1" height="1" fill="#000"/><rect x="1175" y="89" width="1" height="1" fill="#000"/><rect x="1177" y="89" width="1" height="1" fill="#000"/><rect x="1173" y="90" width="1" height="1" fill="#000"/><rect x="1175" y="90" width="1" height="1" fill="#000"/><rect x="1176" y="90" width="1" height="1" fill="#000"/><rect x="1177" y="90" width="1" height="1" fill="#000"/>
<path d="M1181,95.3 Q1182.5,93 1183.5,88 Q1184.5,83 1186.5,81.5 Q1188.3,81 1189.4,83.2" stroke="#0000a0" stroke-width="1.4" fill="none" stroke-dasharray="2,0.6"/>
<rect x="1205" y="81" width="1" height="1" fill="#000"/><rect x="1208" y="81" width="1" height="1" fill="#000"/><rect x="1209" y="81" width="1" height="1" fill="#000"/><rect x="1210" y="81" width="1" height="1" fill="#000"/><rect x="1205" y="82" width="1" height="1" fill="#000"/><rect x="1208" y="82" width="1" height="1" fill="#000"/><rect x="1210" y="82" width="1" height="1" fill="#000"/><rect x="1205" y="83" width="1" height="1" fill="#000"/><rect x="1208" y="83" width="1" height="1" fill="#000"/><rect x="1210" y="83" width="1" height="1" fill="#000"/><rect x="1205" y="84" width="1" height="1" fill="#000"/><rect x="1207" y="84" width="1" height="1" fill="#000"/><rect x="1208" y="84" width="1" height="1" fill="#000"/><rect x="1210" y="84" width="1" height="1" fill="#000"/><rect x="1205" y="85" width="1" height="1" fill="#000"/><rect x="1207" y="85" width="1" height="1" fill="#000"/><rect x="1208" y="85" width="1" height="1" fill="#000"/><rect x="1209" y="85" width="1" height="1" fill="#000"/><rect x="1210" y="85" width="1" height="1" fill="#000"/>
<rect x="1207" y="85" width="1" height="1" fill="#000"/>
<path d="M1206,86.5 H1212.5" stroke="#000"/><path d="M1206.5,86.5 L1202,91" stroke="#000" stroke-width="1.3"/><path d="M1200.5,92.5 L1201,88.5 L1204.5,92 Z" fill="#000"/>
<path d="M1196,92.8 H1200.8 V95 H1205.8 V92.8 H1212" stroke="#0000a0" stroke-width="1.6" fill="none"/>
<rect x="1222" y="82" width="1" height="1" fill="#8b0000"/><rect x="1223" y="82" width="1" height="1" fill="#8b0000"/><rect x="1224" y="82" width="1" height="1" fill="#8b0000"/><rect x="1227" y="82" width="1" height="1" fill="#8b0000"/><rect x="1230" y="82" width="1" height="1" fill="#8b0000"/><rect x="1222" y="83" width="1" height="1" fill="#8b0000"/><rect x="1226" y="83" width="1" height="1" fill="#8b0000"/><rect x="1231" y="83" width="1" height="1" fill="#8b0000"/><rect x="1222" y="84" width="1" height="1" fill="#8b0000"/><rect x="1223" y="84" width="1" height="1" fill="#8b0000"/><rect x="1226" y="84" width="1" height="1" fill="#8b0000"/><rect x="1231" y="84" width="1" height="1" fill="#8b0000"/><rect x="1222" y="85" width="1" height="1" fill="#8b0000"/><rect x="1226" y="85" width="1" height="1" fill="#8b0000"/><rect x="1231" y="85" width="1" height="1" fill="#8b0000"/><rect x="1222" y="86" width="1" height="1" fill="#8b0000"/><rect x="1227" y="86" width="1" height="1" fill="#8b0000"/><rect x="1230" y="86" width="1" height="1" fill="#8b0000"/>
<path d="M1220.5,85.5 V90 M1233.5,85.5 V90" stroke="#000" stroke-width="1.2"/><path d="M1218.5,88 L1220.5,91.5 L1222.5,88 Z M1231.5,88 L1233.5,91.5 L1235.5,88 Z" fill="#000"/>
<rect x="1220" y="92" width="1" height="1" fill="#000"/><rect x="1220" y="94" width="1" height="1" fill="#000"/>
<rect x="1233" y="92" width="1" height="1" fill="#000"/><rect x="1233" y="94" width="1" height="1" fill="#000"/>
<path d="M1220.5,94.8 Q1223.5,90 1227,90 Q1230.5,90 1233.5,94.8" stroke="#0000a0" stroke-width="1.5" fill="none"/>
<path d="M1174,102 H1188 V106 H1187 L1186,104 H1182.5 V114 H1184.5 V116 H1177.5 V114 H1179.5 V104 H1176 L1175,106 H1174 Z" fill="#000"/>
<rect x="1195" y="101" width="1" height="17" fill="#a0a0a0" />
<rect x="1196" y="101" width="1" height="17" fill="#ffffff" />
<rect x="1199.6" y="106.6" width="11" height="10" fill="#fff" stroke="#000" stroke-width="1.3"/><rect x="1201" y="112" width="2" height="1.2" fill="#000"/><rect x="1204" y="112" width="5" height="1.2" fill="#000"/><rect x="1201" y="114" width="2" height="1.2" fill="#000"/><rect x="1204" y="114" width="5" height="1.2" fill="#000"/><path d="M1201,109.5 L1206.5,103.5 L1209.5,107 L1207.5,110.5 Z" fill="url(#chk)"/><path d="M1206.5,103.5 H1211.5 L1212.5,104.5 V107.5 L1211.5,108.5 H1209" fill="#fff" stroke="#000" stroke-width="1.2"/><path d="M1213,103 H1215 V109.5 L1214,110.5 L1213,109.5 Z" fill="#000090"/>
<rect x="1223" y="101" width="1" height="17" fill="#a0a0a0" />
<rect x="1224" y="101" width="1" height="17" fill="#ffffff" />
<path d="M1175,130 V141 L1187,135.5 Z" fill="#000"/>
<rect x="1198" y="130" width="12" height="11" fill="#a0a0a0" />
<rect x="1222" y="130" width="4" height="11" fill="#a0a0a0" />
<rect x="1229" y="130" width="4" height="11" fill="#a0a0a0" />
<path d="M1173,169 L1180,163 L1185,157 H1189" stroke="#000" fill="none"/><circle cx="1177" cy="165.5" r="1" fill="#000"/><circle cx="1182" cy="160" r="1" fill="#000"/>
<path d="M1197.5,167.5 L1209.5,155.5" stroke="#000"/><rect x="1196.5" y="165.5" width="3" height="3" fill="#fff" stroke="#000"/><rect x="1201.5" y="160.5" width="3" height="3" fill="#fff" stroke="#000"/><rect x="1208.5" y="154.5" width="3" height="3" fill="#fff" stroke="#000"/>
<rect x="1218" y="153" width="1" height="17" fill="#a0a0a0" />
<rect x="1219" y="153" width="1" height="17" fill="#ffffff" />
<rect x="1170" y="176" width="23" height="22" fill="url(#dith)" />
<rect x="1170" y="176" width="23" height="1" fill="#a0a0a0" />
<rect x="1170" y="176" width="1" height="22" fill="#a0a0a0" />
<rect x="1170" y="197" width="23" height="1" fill="#ffffff" />
<rect x="1192" y="176" width="1" height="22" fill="#ffffff" />
<rect x="1193" y="176" width="23" height="22" fill="url(#dith)" />
<rect x="1193" y="176" width="23" height="1" fill="#a0a0a0" />
<rect x="1193" y="176" width="1" height="22" fill="#a0a0a0" />
<rect x="1193" y="197" width="23" height="1" fill="#ffffff" />
<rect x="1215" y="176" width="1" height="22" fill="#ffffff" />
<rect x="1216" y="176" width="23" height="22" fill="url(#dith)" />
<rect x="1216" y="176" width="23" height="1" fill="#a0a0a0" />
<rect x="1216" y="176" width="1" height="22" fill="#a0a0a0" />
<rect x="1216" y="197" width="23" height="1" fill="#ffffff" />
<rect x="1238" y="176" width="1" height="22" fill="#ffffff" />
<rect x="1174.5" y="181.5" width="14" height="14" fill="#fff" stroke="#000"/><path d="M1176.5,182 V195" stroke="#000"/><path d="M1178.5,182 V195" stroke="#000"/><path d="M1180.5,182 V195" stroke="#000"/><path d="M1182.5,182 V195" stroke="#000"/><path d="M1184.5,182 V195" stroke="#000"/><path d="M1186.5,182 V195" stroke="#000"/>
<rect x="1197.5" y="181.5" width="14" height="14" fill="#fff" stroke="#000"/><path d="M1198,183.5 H1211" stroke="#000"/><path d="M1198,185.5 H1211" stroke="#000"/><path d="M1198,187.5 H1211" stroke="#000"/><path d="M1198,189.5 H1211" stroke="#000"/><path d="M1198,191.5 H1211" stroke="#000"/><path d="M1198,193.5 H1211" stroke="#000"/>
<rect x="1220.5" y="181.5" width="14" height="14" fill="#fff" stroke="#000"/><rect x="1226" y="183" width="1" height="1" fill="#000"/><rect x="1226" y="185" width="1" height="1" fill="#000"/><rect x="1226" y="187" width="1" height="1" fill="#000"/><rect x="1226" y="189" width="1" height="1" fill="#000"/><rect x="1226" y="191" width="1" height="1" fill="#000"/><rect x="1226" y="193" width="1" height="1" fill="#000"/><rect x="1228" y="183" width="1" height="1" fill="#000"/><rect x="1228" y="185" width="1" height="1" fill="#000"/><rect x="1228" y="187" width="1" height="1" fill="#000"/><rect x="1228" y="189" width="1" height="1" fill="#000"/><rect x="1228" y="191" width="1" height="1" fill="#000"/><rect x="1228" y="193" width="1" height="1" fill="#000"/><rect x="1230" y="183" width="1" height="1" fill="#000"/><rect x="1230" y="185" width="1" height="1" fill="#000"/><rect x="1230" y="187" width="1" height="1" fill="#000"/><rect x="1230" y="189" width="1" height="1" fill="#000"/><rect x="1230" y="191" width="1" height="1" fill="#000"/><rect x="1230" y="193" width="1" height="1" fill="#000"/><rect x="1232" y="183" width="1" height="1" fill="#000"/><rect x="1232" y="185" width="1" height="1" fill="#000"/><rect x="1232" y="187" width="1" height="1" fill="#000"/><rect x="1232" y="189" width="1" height="1" fill="#000"/><rect x="1232" y="191" width="1" height="1" fill="#000"/><rect x="1232" y="193" width="1" height="1" fill="#000"/>
<rect x="1182" y="206" width="1" height="1" fill="#000"/><rect x="1182" y="208" width="1" height="1" fill="#000"/><rect x="1182" y="210" width="1" height="1" fill="#000"/><rect x="1182" y="212" width="1" height="1" fill="#000"/><rect x="1182" y="214" width="1" height="1" fill="#000"/><rect x="1182" y="216" width="1" height="1" fill="#000"/><rect x="1182" y="218" width="1" height="1" fill="#000"/><rect x="1182" y="220" width="1" height="1" fill="#000"/>
<rect x="1183" y="207" width="1" height="1" fill="#000"/><rect x="1183" y="209" width="1" height="1" fill="#000"/><rect x="1183" y="211" width="1" height="1" fill="#000"/><rect x="1183" y="213" width="1" height="1" fill="#000"/><rect x="1183" y="215" width="1" height="1" fill="#000"/><rect x="1183" y="217" width="1" height="1" fill="#000"/><rect x="1183" y="219" width="1" height="1" fill="#000"/>
<path d="M1175,220.5 Q1178,220 1180,217 Q1182.5,212 1184,209 Q1186,206 1188.5,206" stroke="#0000ff" stroke-width="1.2" fill="none" stroke-dasharray="1.5,0.8"/>
<path d="M1175,212.5 H1180" stroke="#000" stroke-width="1.3"/><path d="M1179,209.5 L1182.5,212.5 L1179,215.5 Z" fill="#000"/>
<rect x="1204" y="207" width="1" height="1" fill="#000"/><rect x="1204" y="209" width="1" height="1" fill="#000"/><rect x="1204" y="211" width="1" height="1" fill="#000"/><rect x="1204" y="213" width="1" height="1" fill="#000"/><rect x="1204" y="215" width="1" height="1" fill="#000"/><rect x="1204" y="217" width="1" height="1" fill="#000"/><rect x="1204" y="219" width="1" height="1" fill="#000"/>
<path d="M1196,218.5 H1200 L1204,217 L1208,215 L1212,212" stroke="#0000ff" stroke-width="1.3" fill="none" stroke-dasharray="1.5,0.8"/>
<path d="M1204.5,207 V214" stroke="#000" stroke-width="1.3"/><path d="M1201.5,213 L1204.5,217 L1207.5,213 Z" fill="#000"/>
<rect x="1227" y="207" width="1" height="1" fill="#000"/><rect x="1227" y="209" width="1" height="1" fill="#000"/><rect x="1227" y="211" width="1" height="1" fill="#000"/><rect x="1227" y="213" width="1" height="1" fill="#000"/><rect x="1227" y="215" width="1" height="1" fill="#000"/><rect x="1227" y="217" width="1" height="1" fill="#000"/><rect x="1227" y="219" width="1" height="1" fill="#000"/>
<rect x="1231" y="207" width="1" height="1" fill="#000"/><rect x="1231" y="209" width="1" height="1" fill="#000"/><rect x="1231" y="211" width="1" height="1" fill="#000"/><rect x="1231" y="213" width="1" height="1" fill="#000"/><rect x="1231" y="215" width="1" height="1" fill="#000"/><rect x="1231" y="217" width="1" height="1" fill="#000"/><rect x="1231" y="219" width="1" height="1" fill="#000"/>
<path d="M1219,218.5 H1223 L1227,217 L1231,215 L1235,212" stroke="#0000ff" stroke-width="1.3" fill="none" stroke-dasharray="1.5,0.8"/>
<path d="M1227.5,208 V214 M1231.5,208 V211" stroke="#000" stroke-width="1.3"/><path d="M1225,213 L1227.5,217 L1230,213 Z M1229.5,210.5 L1231.5,214 L1233.5,210.5 Z" fill="#000"/>
<path d="M1173,229.5 H1179 L1184,235.5 H1189" stroke="#000" stroke-width="1.3" fill="none"/><path d="M1173,231.5 H1178 L1183,237.5 H1189" stroke="#ff0000" stroke-width="1.3" fill="none"/><path d="M1173,234 H1177 L1182,239.5 H1189" stroke="#000" stroke-width="1.3" fill="none"/>
<rect x="1195" y="226" width="1" height="17" fill="#a0a0a0" />
<rect x="1196" y="226" width="1" height="17" fill="#ffffff" />
<rect x="1201.5" y="228.5" width="15" height="12" fill="#fff" stroke="#00008b" stroke-width="1.4"/><path d="M1203,233 L1205,231.5 L1207,232.5 L1209,231 L1211,232 L1215,231" stroke="#0000ff" stroke-dasharray="1,0.7" fill="none"/><path d="M1203,239 H1207 L1209,238 L1211,239 L1215,236" stroke="#ff0000" stroke-width="1.2" fill="none"/><path d="M1205,238 L1211,231.5 L1214,234 L1208,239 Z" fill="#fff" stroke="#000" stroke-width="1.3"/>
<rect x="1224" y="226" width="1" height="17" fill="#a0a0a0" />
<rect x="1225" y="226" width="1" height="17" fill="#ffffff" />
<rect x="1170" y="251" width="23" height="20" fill="url(#dith)" />
<rect x="1170" y="251" width="23" height="1" fill="#a0a0a0" />
<rect x="1170" y="251" width="1" height="20" fill="#a0a0a0" />
<rect x="1170" y="270" width="23" height="1" fill="#ffffff" />
<rect x="1192" y="251" width="1" height="20" fill="#ffffff" />
<rect x="1181" y="254" width="1" height="1" fill="#000"/><rect x="1181" y="256" width="1" height="1" fill="#000"/><rect x="1181" y="258" width="1" height="1" fill="#000"/><rect x="1181" y="260" width="1" height="1" fill="#000"/><rect x="1181" y="262" width="1" height="1" fill="#000"/><rect x="1181" y="264" width="1" height="1" fill="#000"/><rect x="1181" y="266" width="1" height="1" fill="#000"/><rect x="1181" y="268" width="1" height="1" fill="#000"/>
<rect x="1204" y="254" width="1" height="1" fill="#000"/><rect x="1204" y="256" width="1" height="1" fill="#000"/><rect x="1204" y="258" width="1" height="1" fill="#000"/><rect x="1204" y="260" width="1" height="1" fill="#000"/><rect x="1204" y="262" width="1" height="1" fill="#000"/><rect x="1204" y="264" width="1" height="1" fill="#000"/><rect x="1204" y="266" width="1" height="1" fill="#000"/><rect x="1204" y="268" width="1" height="1" fill="#000"/>
<rect x="1227" y="254" width="1" height="1" fill="#000"/><rect x="1227" y="256" width="1" height="1" fill="#000"/><rect x="1227" y="258" width="1" height="1" fill="#000"/><rect x="1227" y="260" width="1" height="1" fill="#000"/><rect x="1227" y="262" width="1" height="1" fill="#000"/><rect x="1227" y="264" width="1" height="1" fill="#000"/><rect x="1227" y="266" width="1" height="1" fill="#000"/><rect x="1227" y="268" width="1" height="1" fill="#000"/>
<path d="M1174.5,261.5 H1189.5" stroke="#0000ff" stroke-width="1.6"/><circle cx="1176" cy="261.5" r="1.7" fill="#0000ff"/><circle cx="1181.5" cy="261.5" r="1.7" fill="#0000ff"/><circle cx="1187" cy="261.5" r="1.7" fill="#0000ff"/>
<path d="M1196.5,261.5 H1211.5" stroke="#0000ff" stroke-width="1.6"/><circle cx="1198.5" cy="261.5" r="1.7" fill="#0000ff"/><circle cx="1209.5" cy="261.5" r="1.7" fill="#0000ff"/>
<path d="M1219,267 Q1222,266 1224,259 Q1226,253 1227.5,253.5 Q1229,253 1231,259 Q1233,266 1235.5,267" stroke="#0000ff" stroke-width="1.25" fill="none"/>
<rect x="1181" y="275" width="1" height="1" fill="#000"/><rect x="1181" y="277" width="1" height="1" fill="#000"/><rect x="1181" y="279" width="1" height="1" fill="#000"/><rect x="1181" y="281" width="1" height="1" fill="#000"/><rect x="1181" y="283" width="1" height="1" fill="#000"/><rect x="1181" y="285" width="1" height="1" fill="#000"/><rect x="1181" y="287" width="1" height="1" fill="#000"/><rect x="1181" y="289" width="1" height="1" fill="#000"/>
<rect x="1204" y="275" width="1" height="1" fill="#000"/><rect x="1204" y="277" width="1" height="1" fill="#000"/><rect x="1204" y="279" width="1" height="1" fill="#000"/><rect x="1204" y="281" width="1" height="1" fill="#000"/><rect x="1204" y="283" width="1" height="1" fill="#000"/><rect x="1204" y="285" width="1" height="1" fill="#000"/><rect x="1204" y="287" width="1" height="1" fill="#000"/><rect x="1204" y="289" width="1" height="1" fill="#000"/>
<rect x="1227" y="275" width="1" height="1" fill="#000"/><rect x="1227" y="277" width="1" height="1" fill="#000"/><rect x="1227" y="279" width="1" height="1" fill="#000"/><rect x="1227" y="281" width="1" height="1" fill="#000"/><rect x="1227" y="283" width="1" height="1" fill="#000"/><rect x="1227" y="285" width="1" height="1" fill="#000"/><rect x="1227" y="287" width="1" height="1" fill="#000"/><rect x="1227" y="289" width="1" height="1" fill="#000"/>
<path d="M1173.5,274 Q1176,276 1178,283 Q1180,289 1181.5,288.5 Q1183,289 1185,283 Q1187,276 1189.5,274" stroke="#0000ff" stroke-width="1.25" fill="none"/>
<path d="M1196,284 Q1197,287 1199,286 Q1201,283 1202,282 Q1203.5,284 1204.5,281 Q1206,276 1207,276.5 Q1208.5,276 1209.5,281 Q1210.5,285 1211.5,286" stroke="#0000ff" stroke-width="1.25" fill="none"/>
<path d="M1219,278 Q1220,280 1222,277 Q1224,275 1225,279 Q1226,286 1227.5,287 Q1229,286 1230.5,283 Q1232.5,277 1235,277" stroke="#0000ff" stroke-width="1.25" fill="none"/>
<rect x="1181" y="296" width="1" height="1" fill="#000"/><rect x="1181" y="298" width="1" height="1" fill="#000"/><rect x="1181" y="300" width="1" height="1" fill="#000"/><rect x="1181" y="302" width="1" height="1" fill="#000"/><rect x="1181" y="304" width="1" height="1" fill="#000"/><rect x="1181" y="306" width="1" height="1" fill="#000"/><rect x="1181" y="308" width="1" height="1" fill="#000"/><rect x="1181" y="310" width="1" height="1" fill="#000"/>
<rect x="1204" y="296" width="1" height="1" fill="#000"/><rect x="1204" y="298" width="1" height="1" fill="#000"/><rect x="1204" y="300" width="1" height="1" fill="#000"/><rect x="1204" y="302" width="1" height="1" fill="#000"/><rect x="1204" y="304" width="1" height="1" fill="#000"/><rect x="1204" y="306" width="1" height="1" fill="#000"/><rect x="1204" y="308" width="1" height="1" fill="#000"/><rect x="1204" y="310" width="1" height="1" fill="#000"/>
<rect x="1227" y="296" width="1" height="1" fill="#000"/><rect x="1227" y="298" width="1" height="1" fill="#000"/><rect x="1227" y="300" width="1" height="1" fill="#000"/><rect x="1227" y="302" width="1" height="1" fill="#000"/><rect x="1227" y="304" width="1" height="1" fill="#000"/><rect x="1227" y="306" width="1" height="1" fill="#000"/><rect x="1227" y="308" width="1" height="1" fill="#000"/><rect x="1227" y="310" width="1" height="1" fill="#000"/>
<path d="M1173,309.5 L1189,295" stroke="#0000ff" stroke-width="1.25" fill="none"/>
<path d="M1196,309 Q1198,300 1200.5,297 Q1202,295.5 1204,298 Q1206,302 1208,309 M1200,309 Q1203,300 1205.5,298 Q1208,296 1210,299 Q1211.5,301 1212,304" stroke="#0000ff" stroke-width="1.25" fill="none"/>
<path d="M1219,298 Q1222,305 1225,309 Q1227,310 1229,305 Q1230,300 1231,296 M1222,296 Q1224,303 1227,306 Q1229,307 1231,305 Q1233,302 1235,300" stroke="#0000ff" stroke-width="1.25" fill="none"/>
<rect x="1181" y="317" width="1" height="1" fill="#000"/><rect x="1181" y="319" width="1" height="1" fill="#000"/><rect x="1181" y="321" width="1" height="1" fill="#000"/><rect x="1181" y="323" width="1" height="1" fill="#000"/><rect x="1181" y="325" width="1" height="1" fill="#000"/><rect x="1181" y="327" width="1" height="1" fill="#000"/><rect x="1181" y="329" width="1" height="1" fill="#000"/><rect x="1181" y="331" width="1" height="1" fill="#000"/>
<rect x="1204" y="317" width="1" height="1" fill="#000"/><rect x="1204" y="319" width="1" height="1" fill="#000"/><rect x="1204" y="321" width="1" height="1" fill="#000"/><rect x="1204" y="323" width="1" height="1" fill="#000"/><rect x="1204" y="325" width="1" height="1" fill="#000"/><rect x="1204" y="327" width="1" height="1" fill="#000"/><rect x="1204" y="329" width="1" height="1" fill="#000"/><rect x="1204" y="331" width="1" height="1" fill="#000"/>
<path d="M1173.5,317 Q1177,322 1181.5,322 Q1186,322 1189.5,317 M1173.5,320.5 Q1177,325.5 1181.5,325.5 Q1186,325.5 1189.5,320.5 M1173.5,324 Q1177,329 1181.5,329 Q1186,329 1189.5,324" stroke="#0000ff" stroke-width="1.25" fill="none"/><circle cx="1181.5" cy="328.5" r="1.8" fill="#0000ff"/>
<path d="M1196.5,325 Q1200,319 1204.5,319 Q1209,319 1212,325 M1196.5,328 Q1200,322 1204.5,322 Q1209,322 1212,328 M1196.5,331 Q1200,325 1204.5,325 Q1209,325 1212,331" stroke="#0000ff" stroke-width="1.25" fill="none"/><circle cx="1204.5" cy="319" r="1.8" fill="#0000ff"/>
<rect x="1218" y="316" width="1" height="17" fill="#a0a0a0" />
<rect x="1219" y="316" width="1" height="17" fill="#ffffff" />
<pattern id="ydot" width="2" height="2" patternUnits="userSpaceOnUse"><rect width="2" height="2" fill="#ffff00"/><rect width="1" height="1" fill="#8a8a00"/></pattern>
<path d="M1173.5,348.5 H1184.5 V356.5 H1173.5 Z" fill="url(#ydot)" stroke="#000" stroke-width="1.2"/><path d="M1184.5,348.5 L1188.5,345 V353 L1184.5,356.5 Z" fill="url(#ydot)" stroke="#000" stroke-width="1.2"/><path d="M1173.5,348.5 L1177,345.5 H1188.5" stroke="#000" fill="none" stroke-width="1.2"/><path d="M1174,346 L1177,342 L1180,346 Z" fill="#2050e0" stroke="#000" stroke-width="0.6"/><rect x="1179.5" y="341.5" width="5" height="6" fill="#fff" stroke="#e02020"/><rect x="1181" y="343" width="2" height="3" fill="#e02020"/><rect x="1178" y="351" width="3" height="2" fill="#000"/>
<path d="M1197,348 H1204.5 L1200.75,352 Z" fill="#000"/>
<rect x="1210" y="341" width="1" height="17" fill="#a0a0a0" />
<rect x="1211" y="341" width="1" height="17" fill="#ffffff" />
<rect x="1216.75" y="342.75" width="15" height="13.5" fill="#fff" stroke="#000" stroke-width="1.5"/><rect x="1219" y="345" width="3" height="1" fill="#000"/><rect x="1223" y="345" width="3" height="1" fill="#000"/><rect x="1227" y="345" width="3" height="1" fill="#000"/><rect x="1219" y="347" width="3" height="1" fill="#000"/><rect x="1223" y="347" width="3" height="1" fill="#000"/><rect x="1227" y="347" width="3" height="1" fill="#000"/><rect x="1219" y="349" width="3" height="1" fill="#000"/><rect x="1223" y="349" width="3" height="1" fill="#000"/><rect x="1227" y="349" width="3" height="1" fill="#000"/><rect x="1219" y="351" width="3" height="1" fill="#000"/><rect x="1223" y="351" width="3" height="1" fill="#000"/><rect x="1227" y="351" width="3" height="1" fill="#000"/><rect x="1219" y="353" width="3" height="1" fill="#000"/><rect x="1223" y="353" width="3" height="1" fill="#000"/><rect x="1227" y="353" width="3" height="1" fill="#000"/>
<rect x="1238" y="341" width="1" height="17" fill="#a0a0a0" />
<rect x="1239" y="341" width="1" height="17" fill="#ffffff" />
<rect x="1170" y="365" width="23" height="21" fill="url(#dith)" />
<rect x="1170" y="365" width="23" height="1" fill="#a0a0a0" />
<rect x="1170" y="365" width="1" height="21" fill="#a0a0a0" />
<rect x="1170" y="385" width="23" height="1" fill="#ffffff" />
<rect x="1192" y="365" width="1" height="21" fill="#ffffff" />
<rect x="1193" y="365" width="23" height="21" fill="url(#dith)" />
<rect x="1193" y="365" width="23" height="1" fill="#a0a0a0" />
<rect x="1193" y="365" width="1" height="21" fill="#a0a0a0" />
<rect x="1193" y="385" width="23" height="1" fill="#ffffff" />
<rect x="1215" y="365" width="1" height="21" fill="#ffffff" />
<rect x="1174" y="368" width="1" height="1" fill="#8b0000"/><rect x="1175" y="368" width="1" height="1" fill="#8b0000"/><rect x="1179" y="368" width="1" height="1" fill="#8b0000"/><rect x="1180" y="368" width="1" height="1" fill="#8b0000"/><rect x="1175" y="369" width="1" height="1" fill="#8b0000"/><rect x="1176" y="369" width="1" height="1" fill="#8b0000"/><rect x="1178" y="369" width="1" height="1" fill="#8b0000"/><rect x="1179" y="369" width="1" height="1" fill="#8b0000"/><rect x="1176" y="370" width="1" height="1" fill="#8b0000"/><rect x="1177" y="370" width="1" height="1" fill="#8b0000"/><rect x="1178" y="370" width="1" height="1" fill="#8b0000"/><rect x="1175" y="371" width="1" height="1" fill="#8b0000"/><rect x="1176" y="371" width="1" height="1" fill="#8b0000"/><rect x="1178" y="371" width="1" height="1" fill="#8b0000"/><rect x="1179" y="371" width="1" height="1" fill="#8b0000"/><rect x="1174" y="372" width="1" height="1" fill="#8b0000"/><rect x="1175" y="372" width="1" height="1" fill="#8b0000"/><rect x="1179" y="372" width="1" height="1" fill="#8b0000"/><rect x="1180" y="372" width="1" height="1" fill="#8b0000"/>
<rect x="1197" y="368" width="1" height="1" fill="#8b0000"/><rect x="1198" y="368" width="1" height="1" fill="#8b0000"/><rect x="1202" y="368" width="1" height="1" fill="#8b0000"/><rect x="1203" y="368" width="1" height="1" fill="#8b0000"/><rect x="1198" y="369" width="1" height="1" fill="#8b0000"/><rect x="1199" y="369" width="1" height="1" fill="#8b0000"/><rect x="1201" y="369" width="1" height="1" fill="#8b0000"/><rect x="1202" y="369" width="1" height="1" fill="#8b0000"/><rect x="1199" y="370" width="1" height="1" fill="#8b0000"/><rect x="1200" y="370" width="1" height="1" fill="#8b0000"/><rect x="1201" y="370" width="1" height="1" fill="#8b0000"/><rect x="1200" y="371" width="1" height="1" fill="#8b0000"/><rect x="1200" y="372" width="1" height="1" fill="#8b0000"/>
<path d="M1182.5,375 V382" stroke="#000" stroke-width="1.2"/><path d="M1179.5,383.5 H1185.5 L1182.5,380 Z" fill="#000"/><path d="M1175.5,377.5 L1182.5,375.5 L1189.5,377.5" stroke="#000" fill="none"/><path d="M1173.5,379 H1178.0 L1175.75,381 Z M1187.0,379 H1191.5 L1189.25,381 Z" fill="#e8d000" stroke="#000" stroke-width="0.6"/>
<path d="M1205,375 V382" stroke="#000" stroke-width="1.2"/><path d="M1202,383.5 H1208 L1205,380 Z" fill="#000"/><path d="M1198,377.5 L1205,375.5 L1212,377.5" stroke="#000" fill="none"/><path d="M1196,379 H1200.5 L1198.25,381 Z M1209.5,379 H1214 L1211.75,381 Z" fill="#e8d000" stroke="#000" stroke-width="0.6"/>
<rect x="1218" y="367" width="1" height="17" fill="#a0a0a0" />
<rect x="1219" y="367" width="1" height="17" fill="#ffffff" />
<path d="M1177.6,395.3 H1182.4 L1185.2,398.1 V402.9 L1182.4,405.7 H1177.6 L1174.8,402.9 V398.1 Z" fill="#fff" stroke="#000" stroke-width="1.5"/><path d="M1176.2,399.7 L1177.5,398.3 M1179,396.8 H1180" stroke="#00e0ff" stroke-width="1"/><path d="M1181.5,404.7 L1184.2,402.0" stroke="#00e0ff" stroke-width="1.1"/><path d="M1184.2,404.7 L1188.5,409.0" stroke="#000" stroke-width="2.3"/><path d="M1177,400.5 H1183" stroke="#000" stroke-width="2"/><path d="M1180,397.5 V403.5" stroke="#000" stroke-width="2"/>
<path d="M1200.6,395.3 H1205.4 L1208.2,398.1 V402.9 L1205.4,405.7 H1200.6 L1197.8,402.9 V398.1 Z" fill="#fff" stroke="#000" stroke-width="1.5"/><path d="M1199.2,399.7 L1200.5,398.3 M1202,396.8 H1203" stroke="#00e0ff" stroke-width="1"/><path d="M1204.5,404.7 L1207.2,402.0" stroke="#00e0ff" stroke-width="1.1"/><path d="M1207.2,404.7 L1211.5,409.0" stroke="#000" stroke-width="2.3"/><path d="M1200,400.5 H1206" stroke="#000" stroke-width="2"/>
</svg>
</body></html>
